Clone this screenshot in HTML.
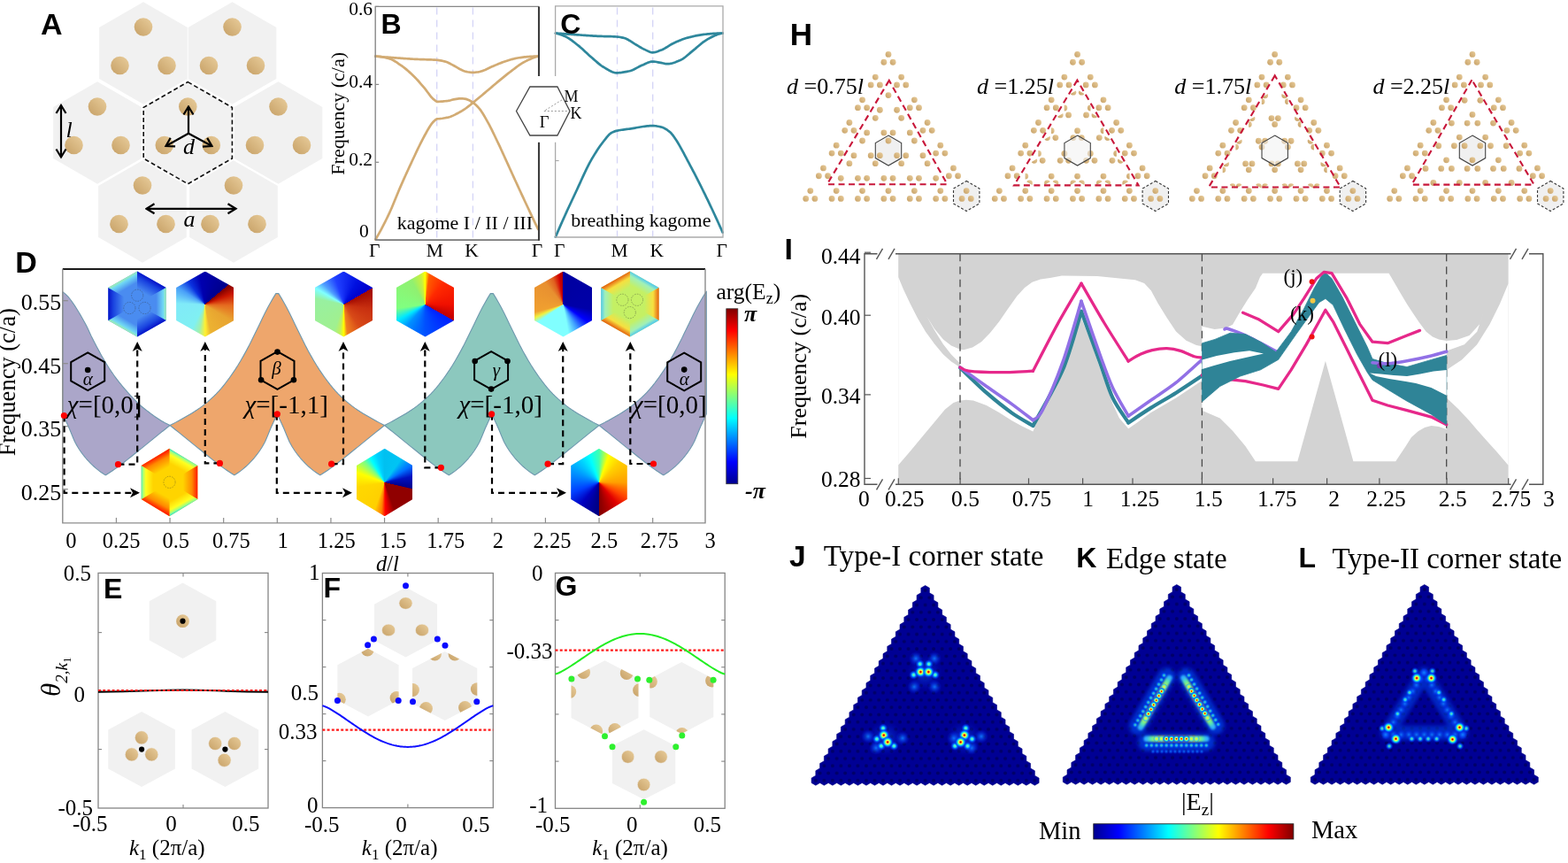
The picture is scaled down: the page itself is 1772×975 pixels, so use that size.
<!DOCTYPE html>
<html><head><meta charset="utf-8"><title>Figure</title>
<style>
html,body{margin:0;padding:0;background:#fff}
body{width:1772px;height:975px;position:relative;overflow:hidden}
svg{position:absolute;left:0;top:0}
</style></head><body>
<svg width="1772" height="975" viewBox="0 0 1772 975">
<defs>
<linearGradient id="dotg" x1="0" y1="1" x2="1" y2="0">
  <stop offset="0" stop-color="#c6a066"/><stop offset="1" stop-color="#e9cd9b"/>
</linearGradient>
<marker id="chev" viewBox="-11 -7 13 14" markerWidth="13" markerHeight="14" refX="0" refY="0" orient="auto-start-reverse" markerUnits="userSpaceOnUse">
  <path d="M-9,-5.5 L0,0 L-9,5.5" fill="none" stroke="#000" stroke-width="2.2" stroke-linejoin="miter"/>
</marker>

<marker id="ah" viewBox="-4 -6 13 12" markerWidth="13" markerHeight="12" refX="0" refY="0" orient="auto" markerUnits="userSpaceOnUse">
  <path d="M8,0 L-3,-5.5 L0,0 L-3,5.5 Z" fill="#000"/>
</marker>
<linearGradient id="jetv" x1="0" y1="1" x2="0" y2="0">
 <stop offset="0" stop-color="#00008f"/><stop offset="0.125" stop-color="#0000ff"/><stop offset="0.375" stop-color="#00ffff"/>
 <stop offset="0.625" stop-color="#ffff00"/><stop offset="0.875" stop-color="#ff0000"/><stop offset="1" stop-color="#800000"/>
</linearGradient>
<linearGradient id="jeth" x1="0" y1="0" x2="1" y2="0">
 <stop offset="0" stop-color="#00008f"/><stop offset="0.125" stop-color="#0000ff"/><stop offset="0.375" stop-color="#00ffff"/>
 <stop offset="0.625" stop-color="#ffff00"/><stop offset="0.875" stop-color="#ff0000"/><stop offset="1" stop-color="#800000"/>
</linearGradient>

<radialGradient id="rodfade" cx="0.5" cy="0.5" r="0.5">
  <stop offset="0" stop-color="#d9b985"/><stop offset="0.75" stop-color="#d4b07a"/><stop offset="1" stop-color="#e8d6b8"/>
</radialGradient>

<pattern id="lat0" x="1045.6" y="667" width="9.52" height="16.52" patternUnits="userSpaceOnUse"><rect width="9.52" height="16.52" fill="#000094"/><circle cx="0" cy="0" r="2.0" fill="#000068"/><circle cx="9.52" cy="0" r="2.0" fill="#000068"/><circle cx="0" cy="16.52" r="2.0" fill="#000068"/><circle cx="9.52" cy="16.52" r="2.0" fill="#000068"/><circle cx="4.76" cy="8.26" r="2.0" fill="#000068"/></pattern><pattern id="lat1" x="1329.8" y="666" width="9.52" height="16.52" patternUnits="userSpaceOnUse"><rect width="9.52" height="16.52" fill="#000094"/><circle cx="0" cy="0" r="2.0" fill="#000068"/><circle cx="9.52" cy="0" r="2.0" fill="#000068"/><circle cx="0" cy="16.52" r="2.0" fill="#000068"/><circle cx="9.52" cy="16.52" r="2.0" fill="#000068"/><circle cx="4.76" cy="8.26" r="2.0" fill="#000068"/></pattern><pattern id="lat2" x="1609.8" y="666" width="9.52" height="16.52" patternUnits="userSpaceOnUse"><rect width="9.52" height="16.52" fill="#000094"/><circle cx="0" cy="0" r="2.0" fill="#000068"/><circle cx="9.52" cy="0" r="2.0" fill="#000068"/><circle cx="0" cy="16.52" r="2.0" fill="#000068"/><circle cx="9.52" cy="16.52" r="2.0" fill="#000068"/><circle cx="4.76" cy="8.26" r="2.0" fill="#000068"/></pattern>
<radialGradient id="spotA">
  <stop offset="0" stop-color="#800000"/><stop offset="0.12" stop-color="#ff3000"/><stop offset="0.28" stop-color="#ffff40"/>
  <stop offset="0.42" stop-color="#60ffa0"/><stop offset="0.58" stop-color="#00b0ff"/><stop offset="0.78" stop-color="#0040ff" stop-opacity="0.6"/><stop offset="1" stop-color="#0020ff" stop-opacity="0"/>
</radialGradient>
<radialGradient id="spotB">
  <stop offset="0" stop-color="#90ff80"/><stop offset="0.28" stop-color="#20e0ff"/><stop offset="0.6" stop-color="#0060ff" stop-opacity="0.75"/><stop offset="1" stop-color="#0020ff" stop-opacity="0"/>
</radialGradient>
<radialGradient id="spotY">
  <stop offset="0" stop-color="#ffe040"/><stop offset="0.4" stop-color="#a0ff70"/><stop offset="0.75" stop-color="#20c0ff" stop-opacity="0.7"/><stop offset="1" stop-color="#0040ff" stop-opacity="0"/>
</radialGradient>
<radialGradient id="spotC">
  <stop offset="0" stop-color="#1080ff" stop-opacity="0.9"/><stop offset="1" stop-color="#0020ff" stop-opacity="0"/>
</radialGradient>
<filter id="blur2" filterUnits="userSpaceOnUse" x="880" y="600" width="892" height="320"><feGaussianBlur stdDeviation="2.2"/></filter>
<filter id="blur1" filterUnits="userSpaceOnUse" x="880" y="600" width="892" height="320"><feGaussianBlur stdDeviation="0.9"/></filter>
</defs>
<polygon points="162,2.2 211.8,31.1 211.8,88.9 162,117.8 112.2,88.9 112.2,31.1" fill="#f1f1f1"/>
<polygon points="262.5,2.2 312.3,31.1 312.3,88.9 262.5,117.8 212.7,88.9 212.7,31.1" fill="#f1f1f1"/>
<polygon points="110,92.2 159.8,121.1 159.8,178.9 110,207.8 60.2,178.9 60.2,121.1" fill="#f1f1f1"/>
<polygon points="212.3,92.2 262.1,121.1 262.1,178.9 212.3,207.8 162.5,178.9 162.5,121.1" fill="#f1f1f1"/>
<polygon points="314.5,92.2 364.3,121.1 364.3,178.9 314.5,207.8 264.7,178.9 264.7,121.1" fill="#f1f1f1"/>
<polygon points="161,181.2 210.8,210.1 210.8,267.9 161,296.8 111.2,267.9 111.2,210.1" fill="#f1f1f1"/>
<polygon points="264,181.2 313.8,210.1 313.8,267.9 264,296.8 214.2,267.9 214.2,210.1" fill="#f1f1f1"/>
<polygon points="212.3,92.6 262.4,121.4 262.4,179 212.3,207.8 162.2,179 162.2,121.4" fill="none" stroke="#111" stroke-width="1.6" stroke-dasharray="5,3"/>
<circle cx="162" cy="30.5" r="10.3" fill="url(#dotg)"/>
<circle cx="135.5" cy="74" r="10.3" fill="url(#dotg)"/>
<circle cx="188.5" cy="74" r="10.3" fill="url(#dotg)"/>
<circle cx="262.5" cy="30.5" r="10.3" fill="url(#dotg)"/>
<circle cx="236" cy="74" r="10.3" fill="url(#dotg)"/>
<circle cx="289" cy="74" r="10.3" fill="url(#dotg)"/>
<circle cx="110" cy="120.5" r="10.3" fill="url(#dotg)"/>
<circle cx="83.5" cy="164" r="10.3" fill="url(#dotg)"/>
<circle cx="136.5" cy="164" r="10.3" fill="url(#dotg)"/>
<circle cx="212.3" cy="120.5" r="10.3" fill="url(#dotg)"/>
<circle cx="185.8" cy="164" r="10.3" fill="url(#dotg)"/>
<circle cx="238.8" cy="164" r="10.3" fill="url(#dotg)"/>
<circle cx="314.5" cy="120.5" r="10.3" fill="url(#dotg)"/>
<circle cx="288" cy="164" r="10.3" fill="url(#dotg)"/>
<circle cx="341" cy="164" r="10.3" fill="url(#dotg)"/>
<circle cx="161" cy="209.5" r="10.3" fill="url(#dotg)"/>
<circle cx="134.5" cy="253" r="10.3" fill="url(#dotg)"/>
<circle cx="187.5" cy="253" r="10.3" fill="url(#dotg)"/>
<circle cx="264" cy="209.5" r="10.3" fill="url(#dotg)"/>
<circle cx="237.5" cy="253" r="10.3" fill="url(#dotg)"/>
<circle cx="290.5" cy="253" r="10.3" fill="url(#dotg)"/>
<line x1="69" y1="119" x2="69" y2="177.5" stroke="#000" stroke-width="2.2" fill="none" marker-start="url(#chev)" marker-end="url(#chev)"/>
<line x1="213" y1="150.7" x2="213" y2="120.5" stroke="#000" stroke-width="2.2" fill="none" marker-end="url(#chev)"/>
<line x1="213" y1="150.7" x2="187.5" y2="165" stroke="#000" stroke-width="2.2" fill="none" marker-end="url(#chev)"/>
<line x1="213" y1="150.7" x2="239.5" y2="165" stroke="#000" stroke-width="2.2" fill="none" marker-end="url(#chev)"/>
<line x1="165.5" y1="235.8" x2="266.5" y2="235.8" stroke="#000" stroke-width="2.2" fill="none" marker-start="url(#chev)" marker-end="url(#chev)"/>
<text x="74.5" y="154.6" font-family="'Liberation Serif', 'Times New Roman', serif" font-size="26" text-anchor="start" font-weight="normal" font-style="italic" fill="#000" >l</text>
<text x="207" y="174" font-family="'Liberation Serif', 'Times New Roman', serif" font-size="26" text-anchor="start" font-weight="normal" font-style="italic" fill="#000" >d</text>
<text x="207.5" y="255.8" font-family="'Liberation Serif', 'Times New Roman', serif" font-size="26" text-anchor="start" font-weight="normal" font-style="italic" fill="#000" >a</text>
<text x="46" y="38.9" font-family="'Liberation Sans', Arial, sans-serif" font-size="34" text-anchor="start" font-weight="bold" font-style="normal" fill="#000" >A</text>
<line x1="493.7" y1="8.4" x2="493.7" y2="270.1" stroke="#d4d4f6" stroke-width="1.3" stroke-dasharray="8,6"/>
<line x1="534.4" y1="8.4" x2="534.4" y2="270.1" stroke="#d4d4f6" stroke-width="1.3" stroke-dasharray="8,6"/>
<line x1="697.5" y1="8.4" x2="697.5" y2="267" stroke="#d4d4f6" stroke-width="1.3" stroke-dasharray="8,6"/>
<line x1="737.7" y1="8.4" x2="737.7" y2="267" stroke="#d4d4f6" stroke-width="1.3" stroke-dasharray="8,6"/>
<polyline points="424.3,270.7 425.84,268.11 427.38,265.44 428.93,262.68 430.47,259.83 432.01,256.91 433.55,253.92 435.1,250.86 436.64,247.73 438.18,244.55 439.72,241.3 441.26,237.96 442.81,234.43 444.35,230.76 445.89,227.01 447.43,223.21 448.98,219.44 450.52,215.73 452.06,212.13 453.6,208.62 455.14,205.13 456.69,201.66 458.23,198.23 459.77,194.82 461.31,191.45 462.86,188.11 464.4,184.81 465.94,181.53 467.48,178.24 469.02,174.96 470.57,171.69 472.11,168.45 473.65,165.25 475.19,162.12 476.74,159.07 478.28,156.11 479.82,153.26 481.36,150.49 482.9,147.7 484.45,144.98 485.99,142.44 487.53,140.19 489.07,138.31 490.62,136.73 492.16,135.38 493.7,134.3 495.27,134.26 496.83,134.16 498.4,133.99 499.96,133.77 501.53,133.51 503.09,133.23 504.66,132.92 506.22,132.6 507.79,132.21 509.35,131.7 510.92,131.09 512.48,130.39 514.05,129.63 515.62,128.81 517.18,127.96 518.75,127.08 520.31,126.21 521.88,125.31 523.44,124.34 525.01,123.32 526.57,122.24 528.14,121.1 529.7,119.92 531.27,118.69 532.83,117.41 534.4,116.1 535.94,114.84 537.47,113.57 539.01,112.3 540.54,111.02 542.08,109.75 543.61,108.47 545.15,107.19 546.68,105.91 548.22,104.62 549.75,103.33 551.29,102.04 552.83,100.73 554.36,99.41 555.9,98.1 557.43,96.79 558.97,95.48 560.5,94.18 562.04,92.89 563.57,91.62 565.11,90.36 566.64,89.1 568.18,87.85 569.71,86.6 571.25,85.36 572.79,84.14 574.32,82.93 575.86,81.75 577.39,80.58 578.93,79.43 580.46,78.26 582,77.08 583.53,75.91 585.07,74.77 586.6,73.66 588.14,72.6 589.67,71.61 591.21,70.69 592.75,69.87 594.28,69.09 595.82,68.33 597.35,67.6 598.89,66.9 600.42,66.24 601.96,65.62 603.49,65.04 605.03,64.51 606.56,64.03 608.1,63.6" fill="none" stroke="#d2ab73" stroke-width="2.7" stroke-linejoin="round" stroke-linecap="round"/>
<polyline points="424.3,63.6 425.84,63.63 427.38,63.74 428.93,63.89 430.47,64.1 432.01,64.36 433.55,64.65 435.1,64.97 436.64,65.31 438.18,65.68 439.72,66.08 441.26,66.63 442.81,67.32 444.35,68.12 445.89,69.01 447.43,69.97 448.98,70.98 450.52,72.02 452.06,73.07 453.6,74.11 455.14,75.21 456.69,76.38 458.23,77.61 459.77,78.9 461.31,80.24 462.86,81.62 464.4,83.05 465.94,84.5 467.48,85.98 469.02,87.51 470.57,89.12 472.11,90.79 473.65,92.51 475.19,94.27 476.74,96.07 478.28,97.89 479.82,99.73 481.36,101.62 482.9,103.7 484.45,105.83 485.99,107.9 487.53,109.79 489.07,111.36 490.62,112.68 492.16,113.83 493.7,114.8 495.27,114.78 496.83,114.73 498.4,114.64 499.96,114.53 501.53,114.4 503.09,114.24 504.66,114.08 506.22,113.9 507.79,113.62 509.35,113.22 510.92,112.78 512.48,112.4 514.05,112.11 515.62,111.83 517.18,111.57 518.75,111.38 520.31,111.3 521.88,111.34 523.44,111.47 525.01,111.66 526.57,111.91 528.14,112.41 529.7,113.07 531.27,113.82 532.83,114.74 534.4,115.8 535.94,116.92 537.47,118.24 539.01,119.74 540.54,121.39 542.08,123.17 543.61,125.17 545.15,127.45 546.68,129.95 548.22,132.6 549.75,135.32 551.29,138.06 552.83,140.9 554.36,143.86 555.9,146.92 557.43,150.06 558.97,153.25 560.5,156.47 562.04,159.71 563.57,162.94 565.11,166.19 566.64,169.49 568.18,172.83 569.71,176.21 571.25,179.6 572.79,183 574.32,186.41 575.86,189.8 577.39,193.17 578.93,196.52 580.46,199.86 582,203.21 583.53,206.55 585.07,209.88 586.6,213.21 588.14,216.54 589.67,219.85 591.21,223.16 592.75,226.46 594.28,229.74 595.82,233.02 597.35,236.3 598.89,239.56 600.42,242.82 601.96,246.07 603.49,249.31 605.03,252.55 606.56,255.78 608.1,259" fill="none" stroke="#d2ab73" stroke-width="2.7" stroke-linejoin="round" stroke-linecap="round"/>
<polyline points="424.3,63.6 425.83,63.73 427.36,63.86 428.89,63.98 430.42,64.11 431.95,64.23 433.48,64.35 435,64.48 436.53,64.6 438.06,64.71 439.59,64.83 441.12,64.95 442.65,65.06 444.18,65.17 445.71,65.29 447.24,65.4 448.77,65.5 450.3,65.61 451.82,65.72 453.35,65.83 454.88,65.94 456.41,66.05 457.94,66.15 459.47,66.26 461,66.36 462.53,66.46 464.06,66.55 465.59,66.65 467.12,66.73 468.65,66.82 470.18,66.89 471.7,66.96 473.23,67.02 474.76,67.08 476.29,67.13 477.82,67.17 479.35,67.21 480.88,67.26 482.41,67.3 483.94,67.34 485.47,67.39 487,67.45 488.52,67.51 490.05,67.58 491.58,67.66 493.11,67.76 494.64,67.88 496.17,68.07 497.7,68.31 499.23,68.61 500.76,68.95 502.29,69.33 503.82,69.75 505.35,70.3 506.88,70.98 508.4,71.76 509.93,72.59 511.46,73.43 512.99,74.24 514.52,75.05 516.05,75.92 517.58,76.83 519.11,77.72 520.64,78.56 522.17,79.3 523.7,79.91 525.23,80.44 526.75,80.92 528.28,81.28 529.81,81.51 531.34,81.71 532.87,81.85 534.4,81.9 535.94,81.84 537.47,81.71 539.01,81.53 540.54,81.32 542.08,81 543.61,80.58 545.15,80.12 546.68,79.58 548.22,78.95 549.75,78.24 551.29,77.5 552.83,76.75 554.36,76.01 555.9,75.32 557.43,74.67 558.97,74.02 560.5,73.37 562.04,72.72 563.57,72.09 565.11,71.47 566.64,70.87 568.18,70.3 569.71,69.76 571.25,69.25 572.79,68.76 574.32,68.26 575.86,67.78 577.39,67.32 578.93,66.88 580.46,66.47 582,66.1 583.53,65.78 585.07,65.5 586.6,65.27 588.14,65.04 589.67,64.83 591.21,64.64 592.75,64.46 594.28,64.3 595.82,64.15 597.35,64.03 598.89,63.93 600.42,63.85 601.96,63.78 603.49,63.71 605.03,63.66 606.56,63.62 608.1,63.6" fill="none" stroke="#d2ab73" stroke-width="2.7" stroke-linejoin="round" stroke-linecap="round"/>
<polyline points="424.2,271.1 424.2,7.4 609.0,7.4" fill="none" stroke="#888" stroke-width="1.4"/>
<line x1="424.2" y1="271.1" x2="609.0" y2="271.1" stroke="#777" stroke-width="1.6"/>
<line x1="609.0" y1="7.4" x2="609.0" y2="86" stroke="#3c3c3c" stroke-width="2.1"/>
<line x1="609.0" y1="160.8" x2="609.0" y2="271.90000000000003" stroke="#3c3c3c" stroke-width="2.1"/>
<line x1="424.2" y1="7.4" x2="428.2" y2="7.4" stroke="#888" stroke-width="1.2"/>
<text x="421" y="16.5" font-family="'Liberation Serif', 'Times New Roman', serif" font-size="21.5" text-anchor="end" font-weight="normal" font-style="normal" fill="#000" >0.6</text>
<line x1="424.2" y1="95.4" x2="428.2" y2="95.4" stroke="#888" stroke-width="1.2"/>
<text x="421" y="99.3" font-family="'Liberation Serif', 'Times New Roman', serif" font-size="21.5" text-anchor="end" font-weight="normal" font-style="normal" fill="#000" >0.4</text>
<line x1="424.2" y1="183.3" x2="428.2" y2="183.3" stroke="#888" stroke-width="1.2"/>
<text x="421" y="186.8" font-family="'Liberation Serif', 'Times New Roman', serif" font-size="21.5" text-anchor="end" font-weight="normal" font-style="normal" fill="#000" >0.2</text>
<line x1="424.2" y1="271.1" x2="428.2" y2="271.1" stroke="#888" stroke-width="1.2"/>
<text x="416.8" y="268.2" font-family="'Liberation Serif', 'Times New Roman', serif" font-size="21.5" text-anchor="end" font-weight="normal" font-style="normal" fill="#000" >0</text>
<text x="388.8" y="128.3" font-family="'Liberation Serif', 'Times New Roman', serif" font-size="22" text-anchor="middle" font-weight="normal" font-style="normal" fill="#000" transform="rotate(-90 388.8 128.3)">Frequency (c/a)</text>
<text x="423.2" y="289.6" font-family="'Liberation Serif', 'Times New Roman', serif" font-size="21.5" text-anchor="middle" font-weight="normal" font-style="normal" fill="#000" >&#915;</text>
<text x="491.4" y="289.6" font-family="'Liberation Serif', 'Times New Roman', serif" font-size="21.5" text-anchor="middle" font-weight="normal" font-style="normal" fill="#000" >M</text>
<text x="533.1" y="289.6" font-family="'Liberation Serif', 'Times New Roman', serif" font-size="21.5" text-anchor="middle" font-weight="normal" font-style="normal" fill="#000" >K</text>
<text x="607" y="289.6" font-family="'Liberation Serif', 'Times New Roman', serif" font-size="21.5" text-anchor="middle" font-weight="normal" font-style="normal" fill="#000" >&#915;</text>
<text x="448.7" y="259.2" font-family="'Liberation Serif', 'Times New Roman', serif" font-size="22" text-anchor="start" font-weight="normal" font-style="normal" fill="#000" >kagome I / II / III</text>
<text x="430.5" y="37.7" font-family="'Liberation Sans', Arial, sans-serif" font-size="32" text-anchor="start" font-weight="bold" font-style="normal" fill="#000" >B</text>
<polyline points="627.8,267.7 629.32,264.15 630.85,260.62 632.37,257.12 633.89,253.65 635.41,250.21 636.94,246.82 638.46,243.45 639.98,240.12 641.5,236.8 643.03,233.51 644.55,230.23 646.07,226.97 647.59,223.72 649.12,220.48 650.64,217.24 652.16,213.98 653.68,210.67 655.21,207.32 656.73,203.97 658.25,200.62 659.77,197.32 661.3,194.07 662.82,190.9 664.34,187.83 665.86,184.88 667.39,182.08 668.91,179.43 670.43,176.85 671.95,174.34 673.48,171.91 675,169.55 676.52,167.28 678.05,165.09 679.57,162.98 681.09,160.96 682.61,159.03 684.14,157.1 685.66,155.16 687.18,153.35 688.7,151.75 690.23,150.48 691.75,149.61 693.27,148.92 694.79,148.36 696.32,147.92 697.84,147.57 699.36,147.27 700.88,147 702.41,146.76 703.93,146.55 705.45,146.35 706.97,146.16 708.5,145.96 710.02,145.76 711.54,145.55 713.06,145.32 714.59,145.08 716.11,144.82 717.63,144.56 719.15,144.29 720.68,144.02 722.2,143.75 723.72,143.5 725.25,143.25 726.77,143.02 728.29,142.8 729.81,142.61 731.34,142.44 732.86,142.3 734.38,142.2 735.9,142.13 737.43,142.1 738.95,142.13 740.47,142.26 741.99,142.46 743.52,142.72 745.04,143.03 746.56,143.37 748.08,143.77 749.61,144.34 751.13,145.08 752.65,145.97 754.17,146.98 755.7,148.1 757.22,149.3 758.74,150.79 760.26,152.66 761.79,154.78 763.31,157.02 764.83,159.3 766.35,161.73 767.88,164.32 769.4,167.04 770.92,169.85 772.45,172.72 773.97,175.62 775.49,178.49 777.01,181.32 778.54,184.16 780.06,187.03 781.58,189.91 783.1,192.81 784.63,195.74 786.15,198.68 787.67,201.65 789.19,204.64 790.72,207.65 792.24,210.68 793.76,213.73 795.28,216.81 796.81,219.91 798.33,223.04 799.85,226.19 801.37,229.37 802.9,232.56 804.42,235.78 805.94,239.02 807.46,242.28 808.99,245.58 810.51,248.9 812.03,252.26 813.55,255.65 815.08,259.06 816.6,262.5" fill="none" stroke="#2e879c" stroke-width="2.7" stroke-linejoin="round" stroke-linecap="round"/>
<polyline points="627.9,37.5 629.42,37.83 630.95,38.23 632.47,38.7 633.99,39.23 635.51,39.82 637.04,40.45 638.56,41.12 640.08,41.83 641.6,42.64 643.13,43.57 644.65,44.59 646.17,45.68 647.69,46.83 649.22,48.02 650.74,49.23 652.26,50.45 653.78,51.67 655.31,52.91 656.83,54.23 658.35,55.59 659.87,56.99 661.4,58.41 662.92,59.84 664.44,61.25 665.96,62.63 667.49,63.98 669.01,65.28 670.53,66.61 672.05,67.96 673.58,69.3 675.1,70.62 676.62,71.9 678.15,73.12 679.67,74.25 681.19,75.27 682.71,76.18 684.24,77.07 685.76,77.99 687.28,78.89 688.8,79.75 690.33,80.53 691.85,81.21 693.37,81.75 694.89,82.12 696.42,82.29 697.94,82.28 699.46,82.21 700.98,82.08 702.51,81.9 704.03,81.68 705.55,81.43 707.07,81.15 708.6,80.84 710.12,80.53 711.64,80.2 713.16,79.75 714.69,79.16 716.21,78.47 717.73,77.7 719.25,76.89 720.78,76.07 722.3,75.28 723.82,74.53 725.35,73.86 726.87,73.22 728.39,72.52 729.91,71.81 731.44,71.12 732.96,70.5 734.48,69.99 736,69.65 737.53,69.5 739.05,69.56 740.57,69.73 742.09,70 743.62,70.31 745.14,70.63 746.66,70.92 748.18,71.2 749.71,71.54 751.23,71.86 752.75,72.11 754.27,72.2 755.8,72.12 757.32,71.92 758.84,71.62 760.36,71.21 761.89,70.73 763.41,70.19 764.93,69.6 766.45,68.99 767.98,68.36 769.5,67.69 771.02,66.86 772.55,65.86 774.07,64.74 775.59,63.53 777.11,62.25 778.64,60.94 780.16,59.63 781.68,58.36 783.2,57.14 784.73,55.91 786.25,54.63 787.77,53.32 789.29,52 790.82,50.69 792.34,49.41 793.86,48.2 795.38,47.07 796.91,46.05 798.43,45.11 799.95,44.21 801.47,43.33 803,42.49 804.52,41.69 806.04,40.94 807.56,40.25 809.09,39.61 810.61,39.05 812.13,38.57 813.65,38.15 815.18,37.8 816.7,37.5" fill="none" stroke="#2e879c" stroke-width="2.7" stroke-linejoin="round" stroke-linecap="round"/>
<polyline points="627.9,37.5 629.42,37.62 630.95,37.74 632.47,37.85 633.99,37.97 635.51,38.09 637.04,38.2 638.56,38.32 640.08,38.43 641.6,38.54 643.13,38.65 644.65,38.76 646.17,38.87 647.69,38.98 649.22,39.09 650.74,39.19 652.26,39.3 653.78,39.41 655.31,39.51 656.83,39.62 658.35,39.73 659.87,39.84 661.4,39.95 662.92,40.06 664.44,40.16 665.96,40.27 667.49,40.37 669.01,40.47 670.53,40.56 672.05,40.64 673.58,40.72 675.1,40.79 676.62,40.85 678.15,40.91 679.67,40.95 681.19,40.99 682.71,41.03 684.24,41.06 685.76,41.1 687.28,41.13 688.8,41.17 690.33,41.21 691.85,41.27 693.37,41.32 694.89,41.39 696.42,41.48 697.94,41.59 699.46,41.77 700.98,42.02 702.51,42.32 704.03,42.66 705.55,43.04 707.07,43.55 708.6,44.24 710.12,45.06 711.64,45.98 713.16,46.96 714.69,47.96 716.21,48.94 717.73,49.87 719.25,50.75 720.78,51.65 722.3,52.57 723.82,53.48 725.35,54.36 726.87,55.17 728.39,55.9 729.91,56.61 731.44,57.36 732.96,58.07 734.48,58.68 736,59.11 737.53,59.3 739.05,59.21 740.57,58.92 742.09,58.49 743.62,57.95 745.14,57.36 746.66,56.76 748.18,56.16 749.71,55.44 751.23,54.62 752.75,53.73 754.27,52.8 755.8,51.85 757.32,50.92 758.84,50.02 760.36,49.2 761.89,48.48 763.41,47.78 764.93,47.09 766.45,46.42 767.98,45.77 769.5,45.14 771.02,44.56 772.55,44.01 774.07,43.51 775.59,43.06 777.11,42.65 778.64,42.25 780.16,41.86 781.68,41.48 783.2,41.11 784.73,40.77 786.25,40.44 787.77,40.12 789.29,39.83 790.82,39.56 792.34,39.32 793.86,39.1 795.38,38.9 796.91,38.74 798.43,38.59 799.95,38.45 801.47,38.32 803,38.18 804.52,38.06 806.04,37.94 807.56,37.83 809.09,37.74 810.61,37.66 812.13,37.59 813.65,37.54 815.18,37.51 816.7,37.5" fill="none" stroke="#2e879c" stroke-width="2.7" stroke-linejoin="round" stroke-linecap="round"/>
<polyline points="627.6,86 627.6,6.8 817,6.8 817,268 627.6,268 627.6,160.8" fill="none" stroke="#aaa" stroke-width="1.3"/>
<line x1="627.6" y1="181.5" x2="631.6" y2="181.5" stroke="#aaa" stroke-width="1.2"/>
<text x="632.3" y="290.2" font-family="'Liberation Serif', 'Times New Roman', serif" font-size="21.5" text-anchor="middle" font-weight="normal" font-style="normal" fill="#000" >&#915;</text>
<text x="700" y="290.2" font-family="'Liberation Serif', 'Times New Roman', serif" font-size="21.5" text-anchor="middle" font-weight="normal" font-style="normal" fill="#000" >M</text>
<text x="742.2" y="290.2" font-family="'Liberation Serif', 'Times New Roman', serif" font-size="21.5" text-anchor="middle" font-weight="normal" font-style="normal" fill="#000" >K</text>
<text x="815.7" y="290.2" font-family="'Liberation Serif', 'Times New Roman', serif" font-size="21.5" text-anchor="middle" font-weight="normal" font-style="normal" fill="#000" >&#915;</text>
<text x="645.2" y="255.7" font-family="'Liberation Serif', 'Times New Roman', serif" font-size="22" text-anchor="start" font-weight="normal" font-style="normal" fill="#000" >breathing kagome</text>
<text x="633.3" y="38" font-family="'Liberation Sans', Arial, sans-serif" font-size="32" text-anchor="start" font-weight="bold" font-style="normal" fill="#000" >C</text>
<polygon points="583.5,125.5 598.9,98 629.9,98 644,125.5 629.9,153 598.9,153" fill="#fff" stroke="#444" stroke-width="1.3"/>
<polyline points="635,112.9 614.7,125.5 643,125.5" fill="none" stroke="#999" stroke-width="1" stroke-dasharray="2,2"/>
<text x="637.5" y="114.5" font-family="'Liberation Serif', 'Times New Roman', serif" font-size="18" text-anchor="start" font-weight="normal" font-style="normal" fill="#000" >M</text>
<text x="644.5" y="133.7" font-family="'Liberation Serif', 'Times New Roman', serif" font-size="18" text-anchor="start" font-weight="normal" font-style="normal" fill="#000" >K</text>
<text x="609.8" y="143.9" font-family="'Liberation Serif', 'Times New Roman', serif" font-size="18.5" text-anchor="start" font-weight="normal" font-style="normal" fill="#000" >&#915;</text>
<polygon points="70.8,329.8 72.33,330.88 73.87,332.15 75.4,333.57 76.94,335.16 78.47,336.99 80.01,339.01 81.54,341.13 83.08,343.31 84.61,345.65 86.15,348.07 87.68,350.55 89.22,353.07 90.75,355.65 92.29,358.31 93.82,361.01 95.36,363.76 96.89,366.6 98.43,369.56 99.96,372.77 101.5,376.15 103.03,379.46 104.57,382.56 106.1,385.56 107.64,388.5 109.17,391.4 110.71,394.28 112.24,397.12 113.77,399.92 115.31,402.66 116.84,405.33 118.38,407.96 119.91,410.53 121.45,413.03 122.98,415.45 124.52,417.8 126.05,420.08 127.59,422.31 129.12,424.47 130.66,426.57 132.19,428.61 133.73,430.6 135.26,432.54 136.8,434.43 138.33,436.29 139.87,438.12 141.4,439.92 142.94,441.69 144.47,443.42 146.01,445.12 147.54,446.78 149.08,448.42 150.61,450.04 152.14,451.64 153.68,453.21 155.21,454.74 156.75,456.22 158.28,457.63 159.82,458.97 161.35,460.26 162.89,461.51 164.42,462.72 165.96,463.9 167.49,465.05 169.03,466.19 170.56,467.33 172.1,468.46 173.63,469.58 175.17,470.68 176.7,471.76 178.24,472.8 179.77,473.8 181.31,474.76 182.84,475.67 184.38,476.55 185.91,477.41 187.45,478.23 188.98,479.02 190.52,479.78 192.05,480.5 192.05,480.5 190.52,481.74 188.98,482.98 187.45,484.22 185.91,485.46 184.38,486.7 182.84,487.94 181.31,489.18 179.77,490.42 178.24,491.66 176.7,492.91 175.17,494.15 173.63,495.39 172.1,496.63 170.56,497.87 169.03,499.11 167.49,500.35 165.96,501.59 164.42,502.83 162.89,504.07 161.35,505.32 159.82,506.56 158.28,507.8 156.75,509.04 155.21,510.27 153.68,511.51 152.14,512.75 150.61,513.99 149.08,515.22 147.54,516.45 146.01,517.67 144.47,518.88 142.94,520.08 141.4,521.28 139.87,522.47 138.33,523.66 136.8,524.84 135.26,526 133.73,527.14 132.19,528.25 130.66,529.34 129.12,530.41 127.59,531.46 126.05,532.49 124.52,533.5 122.98,534.49 121.45,535.47 119.91,536.42 119.3,536.8 118.38,536.26 116.84,535.31 115.31,534.29 113.77,533.22 112.24,532.1 110.71,530.92 109.17,529.68 107.64,528.39 106.1,527.03 104.57,525.62 103.03,524.14 101.5,522.59 99.96,520.97 98.43,519.28 96.89,517.51 95.36,515.66 93.82,513.72 92.29,511.67 90.75,509.5 89.22,507.19 87.68,504.74 86.15,502.12 84.61,499.16 83.08,495.74 81.54,492.05 80.01,488.26 78.47,484.55 76.94,481.07 75.4,477.69 73.87,474.35 72.33,471.06 70.8,467.8" fill="#aba6c9" stroke="#6e98ae" stroke-width="1.1" stroke-linejoin="round"/>
<polygon points="192.05,480.5 195.12,478.97 198.19,477.38 201.26,475.75 204.33,474.06 207.4,472.32 210.47,470.56 213.54,468.76 216.61,466.92 219.68,465.01 222.75,462.99 225.82,460.86 228.89,458.59 231.96,456.19 235.02,453.64 238.09,450.96 241.16,448.11 244.23,445.1 247.3,441.91 250.37,438.44 253.44,434.69 256.51,430.7 259.58,426.51 262.65,422.16 265.72,417.62 268.79,412.79 271.86,407.7 274.93,402.39 278,396.89 281.07,391.13 284.14,385.01 287.21,378.73 290.28,372.45 293.35,366.17 296.42,359.76 299.49,353.46 302.56,347.49 305.63,341.93 308.7,336.63 311.77,331.61 314.83,331.61 317.9,336.63 320.97,341.93 324.04,347.49 327.11,353.46 330.18,359.76 333.25,366.17 336.32,372.45 339.39,378.73 342.46,385.01 345.53,391.13 348.6,396.89 351.67,402.39 354.74,407.7 357.81,412.79 360.88,417.62 363.95,422.16 367.02,426.51 370.09,430.7 373.16,434.69 376.23,438.44 379.3,441.91 382.37,445.1 385.44,448.11 388.51,450.96 391.58,453.64 394.64,456.19 397.71,458.59 400.78,460.86 403.85,462.99 406.92,465.01 409.99,466.92 413.06,468.76 416.13,470.56 419.2,472.32 422.27,474.06 425.34,475.75 428.41,477.38 431.48,478.97 434.55,480.5 434.55,480.5 431.48,482.98 428.41,485.46 425.34,487.94 422.27,490.42 419.2,492.91 416.13,495.39 413.06,497.87 409.99,500.35 406.92,502.83 403.85,505.32 400.78,507.8 397.71,510.27 394.64,512.75 391.58,515.22 388.51,517.67 385.44,520.08 382.37,522.47 379.3,524.84 376.23,527.14 373.16,529.34 370.09,531.46 367.02,533.5 363.95,535.47 361.8,536.8 360.88,536.26 357.81,534.29 354.74,532.1 351.67,529.68 348.6,527.03 345.53,524.14 342.46,520.97 339.39,517.51 336.32,513.72 333.25,509.5 330.18,504.74 327.11,499.16 324.04,492.05 320.97,484.55 317.9,477.69 314.83,471.06 313.3,467.8 311.77,471.06 308.7,477.69 305.63,484.55 302.56,492.05 299.49,499.16 296.42,504.74 293.35,509.5 290.28,513.72 287.21,517.51 284.14,520.97 281.07,524.14 278,527.03 274.93,529.68 271.86,532.1 268.79,534.29 265.72,536.26 264.8,536.8 262.65,535.47 259.58,533.5 256.51,531.46 253.44,529.34 250.37,527.14 247.3,524.84 244.23,522.47 241.16,520.08 238.09,517.67 235.02,515.22 231.96,512.75 228.89,510.27 225.82,507.8 222.75,505.32 219.68,502.83 216.61,500.35 213.54,497.87 210.47,495.39 207.4,492.91 204.33,490.42 201.26,487.94 198.19,485.46 195.12,482.98 192.05,480.5" fill="#eea66c" stroke="#6e98ae" stroke-width="1.1" stroke-linejoin="round"/>
<polygon points="434.55,480.5 437.62,478.97 440.69,477.38 443.76,475.75 446.83,474.06 449.9,472.32 452.97,470.56 456.04,468.76 459.11,466.92 462.18,465.01 465.25,462.99 468.32,460.86 471.39,458.59 474.46,456.19 477.52,453.64 480.59,450.96 483.66,448.11 486.73,445.1 489.8,441.91 492.87,438.44 495.94,434.69 499.01,430.7 502.08,426.51 505.15,422.16 508.22,417.62 511.29,412.79 514.36,407.7 517.43,402.39 520.5,396.89 523.57,391.13 526.64,385.01 529.71,378.73 532.78,372.45 535.85,366.17 538.92,359.76 541.99,353.46 545.06,347.49 548.13,341.93 551.2,336.63 554.27,331.61 557.33,331.61 560.4,336.63 563.47,341.93 566.54,347.49 569.61,353.46 572.68,359.76 575.75,366.17 578.82,372.45 581.89,378.73 584.96,385.01 588.03,391.13 591.1,396.89 594.17,402.39 597.24,407.7 600.31,412.79 603.38,417.62 606.45,422.16 609.52,426.51 612.59,430.7 615.66,434.69 618.73,438.44 621.8,441.91 624.87,445.1 627.94,448.11 631.01,450.96 634.08,453.64 637.14,456.19 640.21,458.59 643.28,460.86 646.35,462.99 649.42,465.01 652.49,466.92 655.56,468.76 658.63,470.56 661.7,472.32 664.77,474.06 667.84,475.75 670.91,477.38 673.98,478.97 677.05,480.5 677.05,480.5 673.98,482.98 670.91,485.46 667.84,487.94 664.77,490.42 661.7,492.91 658.63,495.39 655.56,497.87 652.49,500.35 649.42,502.83 646.35,505.32 643.28,507.8 640.21,510.27 637.14,512.75 634.08,515.22 631.01,517.67 627.94,520.08 624.87,522.47 621.8,524.84 618.73,527.14 615.66,529.34 612.59,531.46 609.52,533.5 606.45,535.47 604.3,536.8 603.38,536.26 600.31,534.29 597.24,532.1 594.17,529.68 591.1,527.03 588.03,524.14 584.96,520.97 581.89,517.51 578.82,513.72 575.75,509.5 572.68,504.74 569.61,499.16 566.54,492.05 563.47,484.55 560.4,477.69 557.33,471.06 555.8,467.8 554.27,471.06 551.2,477.69 548.13,484.55 545.06,492.05 541.99,499.16 538.92,504.74 535.85,509.5 532.78,513.72 529.71,517.51 526.64,520.97 523.57,524.14 520.5,527.03 517.43,529.68 514.36,532.1 511.29,534.29 508.22,536.26 507.3,536.8 505.15,535.47 502.08,533.5 499.01,531.46 495.94,529.34 492.87,527.14 489.8,524.84 486.73,522.47 483.66,520.08 480.59,517.67 477.52,515.22 474.46,512.75 471.39,510.27 468.32,507.8 465.25,505.32 462.18,502.83 459.11,500.35 456.04,497.87 452.97,495.39 449.9,492.91 446.83,490.42 443.76,487.94 440.69,485.46 437.62,482.98 434.55,480.5" fill="#8cc8be" stroke="#6e98ae" stroke-width="1.1" stroke-linejoin="round"/>
<polygon points="677.05,480.5 678.58,479.74 680.12,478.97 681.65,478.18 683.19,477.38 684.72,476.57 686.26,475.75 687.79,474.91 689.33,474.06 690.86,473.2 692.4,472.32 693.93,471.44 695.47,470.56 697,469.66 698.54,468.76 700.07,467.85 701.61,466.92 703.14,465.98 704.68,465.01 706.21,464.01 707.75,462.99 709.28,461.94 710.82,460.86 712.35,459.74 713.89,458.59 715.42,457.4 716.96,456.19 718.49,454.93 720.02,453.64 721.56,452.32 723.09,450.96 724.63,449.55 726.16,448.11 727.7,446.62 729.23,445.1 730.77,443.53 732.3,441.91 733.84,440.21 735.37,438.44 736.91,436.6 738.44,434.69 739.98,432.72 741.51,430.7 743.05,428.63 744.58,426.51 746.12,424.35 747.65,422.16 749.19,419.92 750.72,417.62 752.26,415.24 753.79,412.79 755.33,410.28 756.86,407.7 758.39,405.07 759.93,402.39 761.46,399.66 763,396.89 764.53,394.06 766.07,391.13 767.6,388.1 769.14,385.01 770.67,381.88 772.21,378.73 773.74,375.57 775.28,372.45 776.81,369.34 778.35,366.17 779.88,362.97 781.42,359.76 782.95,356.58 784.49,353.46 786.02,350.41 787.56,347.49 789.09,344.67 790.63,341.93 792.16,339.24 793.7,336.63 795.23,334.08 796.77,331.61 798.3,329.2 798.3,467.8 796.77,471.06 795.23,474.35 793.7,477.69 792.16,481.07 790.63,484.55 789.09,488.26 787.56,492.05 786.02,495.74 784.49,499.16 782.95,502.12 781.42,504.74 779.88,507.19 778.35,509.5 776.81,511.67 775.28,513.72 773.74,515.66 772.21,517.51 770.67,519.28 769.14,520.97 767.6,522.59 766.07,524.14 764.53,525.62 763,527.03 761.46,528.39 759.93,529.68 758.39,530.92 756.86,532.1 755.33,533.22 753.79,534.29 752.26,535.31 750.72,536.26 749.8,536.8 749.19,536.42 747.65,535.47 746.12,534.49 744.58,533.5 743.05,532.49 741.51,531.46 739.98,530.41 738.44,529.34 736.91,528.25 735.37,527.14 733.84,526 732.3,524.84 730.77,523.66 729.23,522.47 727.7,521.28 726.16,520.08 724.63,518.88 723.09,517.67 721.56,516.45 720.02,515.22 718.49,513.99 716.96,512.75 715.42,511.51 713.89,510.27 712.35,509.04 710.82,507.8 709.28,506.56 707.75,505.32 706.21,504.07 704.68,502.83 703.14,501.59 701.61,500.35 700.07,499.11 698.54,497.87 697,496.63 695.47,495.39 693.93,494.15 692.4,492.91 690.86,491.66 689.33,490.42 687.79,489.18 686.26,487.94 684.72,486.7 683.19,485.46 681.65,484.22 680.12,482.98 678.58,481.74 677.05,480.5" fill="#aba6c9" stroke="#6e98ae" stroke-width="1.1" stroke-linejoin="round"/>
<polygon points="155,306.5 187.7,325 187.7,362 155,380.5 122.3,362 122.3,325" fill="#4a8cf0"/>
<linearGradient id="sg1" gradientUnits="userSpaceOnUse" x1="155" y1="343.5" x2="171.35" y2="315.75"><stop offset="0" stop-color="#4a8cf0"/><stop offset="0.45" stop-color="#4a8cf0"/><stop offset="0.82" stop-color="#1a44e0"/><stop offset="1" stop-color="#0612c8"/></linearGradient>
<polygon points="155,343.5 155,306.5 187.7,325" fill="url(#sg1)"/>
<linearGradient id="sg2" gradientUnits="userSpaceOnUse" x1="155" y1="343.5" x2="187.7" y2="343.5"><stop offset="0" stop-color="#4a8cf0"/><stop offset="0.66" stop-color="#4a8cf0"/><stop offset="0.9" stop-color="#70d8f4"/><stop offset="1" stop-color="#a0f0b0"/></linearGradient>
<polygon points="155,343.5 187.7,325 187.7,362" fill="url(#sg2)"/>
<linearGradient id="sg3" gradientUnits="userSpaceOnUse" x1="155" y1="343.5" x2="171.35" y2="371.25"><stop offset="0" stop-color="#4a8cf0"/><stop offset="0.45" stop-color="#4a8cf0"/><stop offset="0.82" stop-color="#1a44e0"/><stop offset="1" stop-color="#0612c8"/></linearGradient>
<polygon points="155,343.5 187.7,362 155,380.5" fill="url(#sg3)"/>
<linearGradient id="sg4" gradientUnits="userSpaceOnUse" x1="155" y1="343.5" x2="138.65" y2="371.25"><stop offset="0" stop-color="#4a8cf0"/><stop offset="0.66" stop-color="#4a8cf0"/><stop offset="0.9" stop-color="#70d8f4"/><stop offset="1" stop-color="#a0f0b0"/></linearGradient>
<polygon points="155,343.5 155,380.5 122.3,362" fill="url(#sg4)"/>
<linearGradient id="sg5" gradientUnits="userSpaceOnUse" x1="155" y1="343.5" x2="122.3" y2="343.5"><stop offset="0" stop-color="#4a8cf0"/><stop offset="0.45" stop-color="#4a8cf0"/><stop offset="0.82" stop-color="#1a44e0"/><stop offset="1" stop-color="#0612c8"/></linearGradient>
<polygon points="155,343.5 122.3,362 122.3,325" fill="url(#sg5)"/>
<linearGradient id="sg6" gradientUnits="userSpaceOnUse" x1="155" y1="343.5" x2="138.65" y2="315.75"><stop offset="0" stop-color="#4a8cf0"/><stop offset="0.66" stop-color="#4a8cf0"/><stop offset="0.9" stop-color="#70d8f4"/><stop offset="1" stop-color="#a0f0b0"/></linearGradient>
<polygon points="155,343.5 122.3,325 155,306.5" fill="url(#sg6)"/>
<polygon points="191.5,506.8 223.3,525.9 223.3,564.1 191.5,583.2 159.7,564.1 159.7,525.9" fill="#ffd400"/>
<linearGradient id="sg7" gradientUnits="userSpaceOnUse" x1="191.5" y1="545" x2="207.4" y2="516.35"><stop offset="0" stop-color="#ffd400"/><stop offset="0.58" stop-color="#ffd400"/><stop offset="0.84" stop-color="#ffff20"/><stop offset="0.95" stop-color="#a0ff80"/><stop offset="1" stop-color="#40e8d0"/></linearGradient>
<polygon points="191.5,545 191.5,506.8 223.3,525.9" fill="url(#sg7)"/>
<linearGradient id="sg8" gradientUnits="userSpaceOnUse" x1="191.5" y1="545" x2="223.3" y2="545"><stop offset="0" stop-color="#ffd400"/><stop offset="0.48" stop-color="#ffd400"/><stop offset="0.8" stop-color="#ff8a00"/><stop offset="1" stop-color="#ff1800"/></linearGradient>
<polygon points="191.5,545 223.3,525.9 223.3,564.1" fill="url(#sg8)"/>
<linearGradient id="sg9" gradientUnits="userSpaceOnUse" x1="191.5" y1="545" x2="207.4" y2="573.65"><stop offset="0" stop-color="#ffd400"/><stop offset="0.58" stop-color="#ffd400"/><stop offset="0.84" stop-color="#ffff20"/><stop offset="0.95" stop-color="#a0ff80"/><stop offset="1" stop-color="#40e8d0"/></linearGradient>
<polygon points="191.5,545 223.3,564.1 191.5,583.2" fill="url(#sg9)"/>
<linearGradient id="sg10" gradientUnits="userSpaceOnUse" x1="191.5" y1="545" x2="175.6" y2="573.65"><stop offset="0" stop-color="#ffd400"/><stop offset="0.48" stop-color="#ffd400"/><stop offset="0.8" stop-color="#ff8a00"/><stop offset="1" stop-color="#ff1800"/></linearGradient>
<polygon points="191.5,545 191.5,583.2 159.7,564.1" fill="url(#sg10)"/>
<linearGradient id="sg11" gradientUnits="userSpaceOnUse" x1="191.5" y1="545" x2="159.7" y2="545"><stop offset="0" stop-color="#ffd400"/><stop offset="0.58" stop-color="#ffd400"/><stop offset="0.84" stop-color="#ffff20"/><stop offset="0.95" stop-color="#a0ff80"/><stop offset="1" stop-color="#40e8d0"/></linearGradient>
<polygon points="191.5,545 159.7,564.1 159.7,525.9" fill="url(#sg11)"/>
<linearGradient id="sg12" gradientUnits="userSpaceOnUse" x1="191.5" y1="545" x2="175.6" y2="516.35"><stop offset="0" stop-color="#ffd400"/><stop offset="0.48" stop-color="#ffd400"/><stop offset="0.8" stop-color="#ff8a00"/><stop offset="1" stop-color="#ff1800"/></linearGradient>
<polygon points="191.5,545 159.7,525.9 191.5,506.8" fill="url(#sg12)"/>
<polygon points="711.9,306.5 744.6,325 744.6,362 711.9,380.5 679.2,362 679.2,325" fill="#c4f064"/>
<linearGradient id="sg13" gradientUnits="userSpaceOnUse" x1="711.9" y1="343.5" x2="728.25" y2="315.75"><stop offset="0" stop-color="#c4f064"/><stop offset="0.58" stop-color="#c4f064"/><stop offset="0.86" stop-color="#a0f0b8"/><stop offset="1" stop-color="#50c8f0"/></linearGradient>
<polygon points="711.9,343.5 711.9,306.5 744.6,325" fill="url(#sg13)"/>
<linearGradient id="sg14" gradientUnits="userSpaceOnUse" x1="711.9" y1="343.5" x2="744.6" y2="343.5"><stop offset="0" stop-color="#c4f064"/><stop offset="0.5" stop-color="#c4f064"/><stop offset="0.8" stop-color="#f6e040"/><stop offset="1" stop-color="#e66010"/></linearGradient>
<polygon points="711.9,343.5 744.6,325 744.6,362" fill="url(#sg14)"/>
<linearGradient id="sg15" gradientUnits="userSpaceOnUse" x1="711.9" y1="343.5" x2="728.25" y2="371.25"><stop offset="0" stop-color="#c4f064"/><stop offset="0.58" stop-color="#c4f064"/><stop offset="0.86" stop-color="#a0f0b8"/><stop offset="1" stop-color="#50c8f0"/></linearGradient>
<polygon points="711.9,343.5 744.6,362 711.9,380.5" fill="url(#sg15)"/>
<linearGradient id="sg16" gradientUnits="userSpaceOnUse" x1="711.9" y1="343.5" x2="695.55" y2="371.25"><stop offset="0" stop-color="#c4f064"/><stop offset="0.5" stop-color="#c4f064"/><stop offset="0.8" stop-color="#f6e040"/><stop offset="1" stop-color="#e66010"/></linearGradient>
<polygon points="711.9,343.5 711.9,380.5 679.2,362" fill="url(#sg16)"/>
<linearGradient id="sg17" gradientUnits="userSpaceOnUse" x1="711.9" y1="343.5" x2="679.2" y2="343.5"><stop offset="0" stop-color="#c4f064"/><stop offset="0.58" stop-color="#c4f064"/><stop offset="0.86" stop-color="#a0f0b8"/><stop offset="1" stop-color="#50c8f0"/></linearGradient>
<polygon points="711.9,343.5 679.2,362 679.2,325" fill="url(#sg17)"/>
<linearGradient id="sg18" gradientUnits="userSpaceOnUse" x1="711.9" y1="343.5" x2="695.55" y2="315.75"><stop offset="0" stop-color="#c4f064"/><stop offset="0.5" stop-color="#c4f064"/><stop offset="0.8" stop-color="#f6e040"/><stop offset="1" stop-color="#e66010"/></linearGradient>
<polygon points="711.9,343.5 679.2,325 711.9,306.5" fill="url(#sg18)"/>
<circle cx="155.2" cy="333.7" r="6.6" fill="none" stroke="#333" stroke-opacity="0.45" stroke-width="0.8" stroke-dasharray="1.6,1.2"/>
<circle cx="146.4" cy="348" r="6.6" fill="none" stroke="#333" stroke-opacity="0.45" stroke-width="0.8" stroke-dasharray="1.6,1.2"/>
<circle cx="163.5" cy="348" r="6.6" fill="none" stroke="#333" stroke-opacity="0.45" stroke-width="0.8" stroke-dasharray="1.6,1.2"/>
<circle cx="703.4" cy="338.8" r="6.6" fill="none" stroke="#333" stroke-opacity="0.45" stroke-width="0.8" stroke-dasharray="1.6,1.2"/>
<circle cx="720" cy="338.8" r="6.6" fill="none" stroke="#333" stroke-opacity="0.45" stroke-width="0.8" stroke-dasharray="1.6,1.2"/>
<circle cx="711.8" cy="353.1" r="6.6" fill="none" stroke="#333" stroke-opacity="0.45" stroke-width="0.8" stroke-dasharray="1.6,1.2"/>
<circle cx="191.5" cy="544.8" r="6.6" fill="none" stroke="#333" stroke-opacity="0.45" stroke-width="0.8" stroke-dasharray="1.6,1.2"/>
<line x1="70.8" y1="304" x2="797" y2="304" stroke="#1a1a1a" stroke-width="1.8"/>
<polyline points="70.8,304 70.8,590.9 797,590.9 797,304" fill="none" stroke="#8c8c8c" stroke-width="1.4"/>
<line x1="131.43" y1="590.9" x2="131.43" y2="584.9" stroke="#8c8c8c" stroke-width="1.2"/>
<line x1="192.05" y1="590.9" x2="192.05" y2="584.9" stroke="#8c8c8c" stroke-width="1.2"/>
<line x1="252.68" y1="590.9" x2="252.68" y2="584.9" stroke="#8c8c8c" stroke-width="1.2"/>
<line x1="313.3" y1="590.9" x2="313.3" y2="584.9" stroke="#8c8c8c" stroke-width="1.2"/>
<line x1="373.93" y1="590.9" x2="373.93" y2="584.9" stroke="#8c8c8c" stroke-width="1.2"/>
<line x1="434.55" y1="590.9" x2="434.55" y2="584.9" stroke="#8c8c8c" stroke-width="1.2"/>
<line x1="495.18" y1="590.9" x2="495.18" y2="584.9" stroke="#8c8c8c" stroke-width="1.2"/>
<line x1="555.8" y1="590.9" x2="555.8" y2="584.9" stroke="#8c8c8c" stroke-width="1.2"/>
<line x1="616.42" y1="590.9" x2="616.42" y2="584.9" stroke="#8c8c8c" stroke-width="1.2"/>
<line x1="677.05" y1="590.9" x2="677.05" y2="584.9" stroke="#8c8c8c" stroke-width="1.2"/>
<line x1="737.67" y1="590.9" x2="737.67" y2="584.9" stroke="#8c8c8c" stroke-width="1.2"/>
<text x="80.3" y="618.7" font-family="'Liberation Serif', 'Times New Roman', serif" font-size="24.5" text-anchor="middle" font-weight="normal" font-style="normal" fill="#000" >0</text>
<text x="137.1" y="618.7" font-family="'Liberation Serif', 'Times New Roman', serif" font-size="24.5" text-anchor="middle" font-weight="normal" font-style="normal" fill="#000" >0.25</text>
<text x="198.8" y="618.7" font-family="'Liberation Serif', 'Times New Roman', serif" font-size="24.5" text-anchor="middle" font-weight="normal" font-style="normal" fill="#000" >0.5</text>
<text x="261.4" y="618.7" font-family="'Liberation Serif', 'Times New Roman', serif" font-size="24.5" text-anchor="middle" font-weight="normal" font-style="normal" fill="#000" >0.75</text>
<text x="319.7" y="618.7" font-family="'Liberation Serif', 'Times New Roman', serif" font-size="24.5" text-anchor="middle" font-weight="normal" font-style="normal" fill="#000" >1</text>
<text x="380.2" y="618.7" font-family="'Liberation Serif', 'Times New Roman', serif" font-size="24.5" text-anchor="middle" font-weight="normal" font-style="normal" fill="#000" >1.25</text>
<text x="444.3" y="618.7" font-family="'Liberation Serif', 'Times New Roman', serif" font-size="24.5" text-anchor="middle" font-weight="normal" font-style="normal" fill="#000" >1.5</text>
<text x="503.7" y="618.7" font-family="'Liberation Serif', 'Times New Roman', serif" font-size="24.5" text-anchor="middle" font-weight="normal" font-style="normal" fill="#000" >1.75</text>
<text x="562.8" y="618.7" font-family="'Liberation Serif', 'Times New Roman', serif" font-size="24.5" text-anchor="middle" font-weight="normal" font-style="normal" fill="#000" >2</text>
<text x="624" y="618.7" font-family="'Liberation Serif', 'Times New Roman', serif" font-size="24.5" text-anchor="middle" font-weight="normal" font-style="normal" fill="#000" >2.25</text>
<text x="682.9" y="618.7" font-family="'Liberation Serif', 'Times New Roman', serif" font-size="24.5" text-anchor="middle" font-weight="normal" font-style="normal" fill="#000" >2.5</text>
<text x="745.3" y="618.7" font-family="'Liberation Serif', 'Times New Roman', serif" font-size="24.5" text-anchor="middle" font-weight="normal" font-style="normal" fill="#000" >2.75</text>
<text x="802.6" y="618.7" font-family="'Liberation Serif', 'Times New Roman', serif" font-size="24.5" text-anchor="middle" font-weight="normal" font-style="normal" fill="#000" >3</text>
<line x1="70.8" y1="339.7" x2="76.8" y2="339.7" stroke="#8c8c8c" stroke-width="1.2"/>
<text x="69.2" y="349.5" font-family="'Liberation Serif', 'Times New Roman', serif" font-size="26" text-anchor="end" font-weight="normal" font-style="normal" fill="#000" >0.55</text>
<line x1="70.8" y1="410.7" x2="76.8" y2="410.7" stroke="#8c8c8c" stroke-width="1.2"/>
<text x="69.2" y="422.3" font-family="'Liberation Serif', 'Times New Roman', serif" font-size="26" text-anchor="end" font-weight="normal" font-style="normal" fill="#000" >0.45</text>
<line x1="70.8" y1="481.7" x2="76.8" y2="481.7" stroke="#8c8c8c" stroke-width="1.2"/>
<text x="69.2" y="492.5" font-family="'Liberation Serif', 'Times New Roman', serif" font-size="26" text-anchor="end" font-weight="normal" font-style="normal" fill="#000" >0.35</text>
<line x1="70.8" y1="552.7" x2="76.8" y2="552.7" stroke="#8c8c8c" stroke-width="1.2"/>
<text x="69.2" y="564.5" font-family="'Liberation Serif', 'Times New Roman', serif" font-size="26" text-anchor="end" font-weight="normal" font-style="normal" fill="#000" >0.25</text>
<text x="16.8" y="431.7" font-family="'Liberation Serif', 'Times New Roman', serif" font-size="26.5" text-anchor="middle" font-weight="normal" font-style="normal" fill="#000" transform="rotate(-90 16.8 431.7)">Frequency (c/a)</text>
<text x="425" y="644.7" font-family="'Liberation Serif', 'Times New Roman', serif" font-size="24.5" text-anchor="start" font-weight="normal" font-style="normal" fill="#000" ><tspan font-style="italic">d</tspan>/<tspan font-style="italic">l</tspan></text>
<text x="17.2" y="307.7" font-family="'Liberation Sans', Arial, sans-serif" font-size="34" text-anchor="start" font-weight="bold" font-style="normal" fill="#000" >D</text>
<polygon points="99.2,398.4 118.2,409.05 118.2,430.35 99.2,441 80.2,430.35 80.2,409.05" fill="none" stroke="#000" stroke-width="2" stroke-linejoin="miter"/>
<circle cx="99.2" cy="418" r="3.3" fill="#000"/>
<text x="99.2" y="434.5" font-family="'Liberation Serif', 'Times New Roman', serif" font-size="21" text-anchor="middle" font-weight="normal" font-style="italic" fill="#000" >&#945;</text>
<polygon points="313.5,397.2 332.5,407.85 332.5,429.15 313.5,439.8 294.5,429.15 294.5,407.85" fill="none" stroke="#000" stroke-width="2" stroke-linejoin="miter"/>
<circle cx="313.5" cy="397.6" r="3.3" fill="#000"/>
<circle cx="295.1" cy="429.2" r="3.3" fill="#000"/>
<circle cx="331.9" cy="429.2" r="3.3" fill="#000"/>
<text x="312.5" y="423" font-family="'Liberation Serif', 'Times New Roman', serif" font-size="21" text-anchor="middle" font-weight="normal" font-style="italic" fill="#000" >&#946;</text>
<polygon points="555.1,397.2 574.1,407.85 574.1,429.15 555.1,439.8 536.1,429.15 536.1,407.85" fill="none" stroke="#000" stroke-width="2" stroke-linejoin="miter"/>
<circle cx="536.7" cy="408" r="3.3" fill="#000"/>
<circle cx="573.5" cy="408" r="3.3" fill="#000"/>
<circle cx="555.1" cy="439.6" r="3.3" fill="#000"/>
<text x="561" y="425" font-family="'Liberation Serif', 'Times New Roman', serif" font-size="21" text-anchor="middle" font-weight="normal" font-style="italic" fill="#000" >&#947;</text>
<polygon points="773.2,398.7 792.2,409.35 792.2,430.65 773.2,441.3 754.2,430.65 754.2,409.35" fill="none" stroke="#000" stroke-width="2" stroke-linejoin="miter"/>
<circle cx="773.2" cy="417.6" r="3.3" fill="#000"/>
<text x="773.2" y="434.8" font-family="'Liberation Serif', 'Times New Roman', serif" font-size="21" text-anchor="middle" font-weight="normal" font-style="italic" fill="#000" >&#945;</text>
<text x="75.8" y="467" font-family="'Liberation Serif', 'Times New Roman', serif" font-size="29" text-anchor="start" font-weight="normal" font-style="normal" fill="#000" ><tspan font-style="italic">&#967;</tspan>=[0,0]</text>
<text x="276.5" y="467" font-family="'Liberation Serif', 'Times New Roman', serif" font-size="29" text-anchor="start" font-weight="normal" font-style="normal" fill="#000" ><tspan font-style="italic">&#967;</tspan>=[-1,1]</text>
<text x="518.5" y="467" font-family="'Liberation Serif', 'Times New Roman', serif" font-size="29" text-anchor="start" font-weight="normal" font-style="normal" fill="#000" ><tspan font-style="italic">&#967;</tspan>=[-1,0]</text>
<text x="714" y="467" font-family="'Liberation Serif', 'Times New Roman', serif" font-size="29" text-anchor="start" font-weight="normal" font-style="normal" fill="#000" ><tspan font-style="italic">&#967;</tspan>=[0,0]</text>
<polyline points="133.5,524.7 155.2,524.7 155.2,394" fill="none" stroke="#000" stroke-width="2.2" stroke-dasharray="7,5" marker-end="url(#ah)"/>
<polyline points="248.4,523.4 231.8,523.4 231.8,394" fill="none" stroke="#000" stroke-width="2.2" stroke-dasharray="7,5" marker-end="url(#ah)"/>
<polyline points="374.6,524.2 388,524.2 388,394" fill="none" stroke="#000" stroke-width="2.2" stroke-dasharray="7,5" marker-end="url(#ah)"/>
<polyline points="498.4,528.3 480.3,528.3 480.3,394" fill="none" stroke="#000" stroke-width="2.2" stroke-dasharray="7,5" marker-end="url(#ah)"/>
<polyline points="619.1,524.2 636.2,524.2 636.2,394" fill="none" stroke="#000" stroke-width="2.2" stroke-dasharray="7,5" marker-end="url(#ah)"/>
<polyline points="738.5,524 712.3,524 712.3,394" fill="none" stroke="#000" stroke-width="2.2" stroke-dasharray="7,5" marker-end="url(#ah)"/>
<polyline points="72.6,469.5 72.6,556.8 150,556.8" fill="none" stroke="#000" stroke-width="2.2" stroke-dasharray="7,5" marker-end="url(#ah)"/>
<polyline points="312.8,467.8 312.8,556.8 390,556.8" fill="none" stroke="#000" stroke-width="2.2" stroke-dasharray="7,5" marker-end="url(#ah)"/>
<polyline points="556,467.8 556,556.8 632,556.8" fill="none" stroke="#000" stroke-width="2.2" stroke-dasharray="7,5" marker-end="url(#ah)"/>
<circle cx="72.4" cy="469.5" r="3.6" fill="#f00"/>
<circle cx="133.5" cy="524.7" r="3.6" fill="#f00"/>
<circle cx="248.4" cy="523.4" r="3.6" fill="#f00"/>
<circle cx="313.3" cy="467.8" r="3.6" fill="#f00"/>
<circle cx="374.6" cy="524.2" r="3.6" fill="#f00"/>
<circle cx="498.4" cy="528.3" r="3.6" fill="#f00"/>
<circle cx="555.6" cy="467.8" r="3.6" fill="#f00"/>
<circle cx="619.1" cy="524.2" r="3.6" fill="#f00"/>
<circle cx="738.5" cy="524" r="3.6" fill="#f00"/>
<rect x="820.8" y="348.8" width="13" height="197.9" fill="url(#jetv)" stroke="#333" stroke-width="0.8"/>
<text x="809.5" y="338" font-family="'Liberation Serif', 'Times New Roman', serif" font-size="25.5" text-anchor="start" font-weight="normal" font-style="normal" fill="#000" >arg(E<tspan font-size="18" dy="5">z</tspan><tspan dy="-5">)</tspan></text>
<text x="841" y="363" font-family="'Liberation Serif', 'Times New Roman', serif" font-size="26" text-anchor="start" font-weight="bold" font-style="italic" fill="#000" >&#960;</text>
<text x="842" y="562.8" font-family="'Liberation Serif', 'Times New Roman', serif" font-size="26" text-anchor="start" font-weight="bold" font-style="italic" fill="#000" >-&#960;</text>
<clipPath id="hclip0">
<polygon points="1004,101.4 1018.9,110.05 1018.9,127.35 1004,136 989.1,127.35 989.1,110.05"/>
<polygon points="989.3,127.1 1004.2,135.75 1004.2,153.05 989.3,161.7 974.4,153.05 974.4,135.75"/>
<polygon points="1018.7,127.1 1033.6,135.75 1033.6,153.05 1018.7,161.7 1003.8,153.05 1003.8,135.75"/>
<polygon points="974.6,152.8 989.5,161.45 989.5,178.75 974.6,187.4 959.7,178.75 959.7,161.45"/>
<polygon points="1004,152.8 1018.9,161.45 1018.9,178.75 1004,187.4 989.1,178.75 989.1,161.45"/>
<polygon points="1033.4,152.8 1048.3,161.45 1048.3,178.75 1033.4,187.4 1018.5,178.75 1018.5,161.45"/>
<polygon points="959.9,178.5 974.8,187.15 974.8,204.45 959.9,213.1 945,204.45 945,187.15"/>
<polygon points="989.3,178.5 1004.2,187.15 1004.2,204.45 989.3,213.1 974.4,204.45 974.4,187.15"/>
<polygon points="1018.7,178.5 1033.6,187.15 1033.6,204.45 1018.7,213.1 1003.8,204.45 1003.8,187.15"/>
<polygon points="1048.1,178.5 1063,187.15 1063,204.45 1048.1,213.1 1033.2,204.45 1033.2,187.15"/>
</clipPath>
<polygon points="1092.2,204.5 1106.9,213 1106.9,230 1092.2,238.5 1077.5,230 1077.5,213" fill="#f0f0f0" stroke="#3a3a3a" stroke-width="1.1" stroke-dasharray="3,2"/>
<polygon points="1004,153.1 1018.7,161.6 1018.7,178.6 1004,187.1 989.3,178.6 989.3,161.6" fill="#f0f0f0" fill-opacity="1" stroke="#444" stroke-width="1.1"/>
<circle cx="1004" cy="61.4" r="3.4" fill="url(#dotg)"/>
<circle cx="998.89" cy="70.25" r="3.4" fill="url(#dotg)"/>
<circle cx="1009.11" cy="70.25" r="3.4" fill="url(#dotg)"/>
<circle cx="989.3" cy="87.1" r="3.4" fill="url(#dotg)"/>
<circle cx="984.19" cy="95.95" r="3.4" fill="url(#dotg)"/>
<circle cx="994.41" cy="95.95" r="3.4" fill="url(#dotg)"/>
<circle cx="1018.7" cy="87.1" r="3.4" fill="url(#dotg)"/>
<circle cx="1013.59" cy="95.95" r="3.4" fill="url(#dotg)"/>
<circle cx="1023.81" cy="95.95" r="3.4" fill="url(#dotg)"/>
<circle cx="974.6" cy="112.8" r="3.4" fill="url(#dotg)"/>
<circle cx="969.49" cy="121.65" r="3.4" fill="url(#dotg)"/>
<circle cx="979.71" cy="121.65" r="3.4" fill="url(#dotg)"/>
<circle cx="1033.4" cy="112.8" r="3.4" fill="url(#dotg)"/>
<circle cx="1028.29" cy="121.65" r="3.4" fill="url(#dotg)"/>
<circle cx="1038.51" cy="121.65" r="3.4" fill="url(#dotg)"/>
<circle cx="959.9" cy="138.5" r="3.4" fill="url(#dotg)"/>
<circle cx="954.79" cy="147.35" r="3.4" fill="url(#dotg)"/>
<circle cx="965.01" cy="147.35" r="3.4" fill="url(#dotg)"/>
<circle cx="1048.1" cy="138.5" r="3.4" fill="url(#dotg)"/>
<circle cx="1042.99" cy="147.35" r="3.4" fill="url(#dotg)"/>
<circle cx="1053.21" cy="147.35" r="3.4" fill="url(#dotg)"/>
<circle cx="945.2" cy="164.2" r="3.4" fill="url(#dotg)"/>
<circle cx="940.09" cy="173.05" r="3.4" fill="url(#dotg)"/>
<circle cx="950.31" cy="173.05" r="3.4" fill="url(#dotg)"/>
<circle cx="1062.8" cy="164.2" r="3.4" fill="url(#dotg)"/>
<circle cx="1057.69" cy="173.05" r="3.4" fill="url(#dotg)"/>
<circle cx="1067.91" cy="173.05" r="3.4" fill="url(#dotg)"/>
<circle cx="930.5" cy="189.9" r="3.4" fill="url(#dotg)"/>
<circle cx="925.39" cy="198.75" r="3.4" fill="url(#dotg)"/>
<circle cx="935.61" cy="198.75" r="3.4" fill="url(#dotg)"/>
<circle cx="1077.5" cy="189.9" r="3.4" fill="url(#dotg)"/>
<circle cx="1072.39" cy="198.75" r="3.4" fill="url(#dotg)"/>
<circle cx="1082.61" cy="198.75" r="3.4" fill="url(#dotg)"/>
<circle cx="915.8" cy="215.6" r="3.4" fill="url(#dotg)"/>
<circle cx="910.69" cy="224.45" r="3.4" fill="url(#dotg)"/>
<circle cx="920.91" cy="224.45" r="3.4" fill="url(#dotg)"/>
<circle cx="945.2" cy="215.6" r="3.4" fill="url(#dotg)"/>
<circle cx="940.09" cy="224.45" r="3.4" fill="url(#dotg)"/>
<circle cx="950.31" cy="224.45" r="3.4" fill="url(#dotg)"/>
<circle cx="974.6" cy="215.6" r="3.4" fill="url(#dotg)"/>
<circle cx="969.49" cy="224.45" r="3.4" fill="url(#dotg)"/>
<circle cx="979.71" cy="224.45" r="3.4" fill="url(#dotg)"/>
<circle cx="1004" cy="215.6" r="3.4" fill="url(#dotg)"/>
<circle cx="998.89" cy="224.45" r="3.4" fill="url(#dotg)"/>
<circle cx="1009.11" cy="224.45" r="3.4" fill="url(#dotg)"/>
<circle cx="1033.4" cy="215.6" r="3.4" fill="url(#dotg)"/>
<circle cx="1028.29" cy="224.45" r="3.4" fill="url(#dotg)"/>
<circle cx="1038.51" cy="224.45" r="3.4" fill="url(#dotg)"/>
<circle cx="1062.8" cy="215.6" r="3.4" fill="url(#dotg)"/>
<circle cx="1057.69" cy="224.45" r="3.4" fill="url(#dotg)"/>
<circle cx="1067.91" cy="224.45" r="3.4" fill="url(#dotg)"/>
<circle cx="1092.2" cy="215.6" r="3.4" fill="url(#dotg)"/>
<circle cx="1087.09" cy="224.45" r="3.4" fill="url(#dotg)"/>
<circle cx="1097.31" cy="224.45" r="3.4" fill="url(#dotg)"/>
<g clip-path="url(#hclip0)">
<circle cx="906.19" cy="72.85" r="3.4" fill="url(#dotg)"/>
<circle cx="925.41" cy="72.85" r="3.4" fill="url(#dotg)"/>
<circle cx="935.59" cy="72.85" r="3.4" fill="url(#dotg)"/>
<circle cx="954.81" cy="72.85" r="3.4" fill="url(#dotg)"/>
<circle cx="964.99" cy="72.85" r="3.4" fill="url(#dotg)"/>
<circle cx="984.21" cy="72.85" r="3.4" fill="url(#dotg)"/>
<circle cx="994.39" cy="72.85" r="3.4" fill="url(#dotg)"/>
<circle cx="1013.61" cy="72.85" r="3.4" fill="url(#dotg)"/>
<circle cx="1023.79" cy="72.85" r="3.4" fill="url(#dotg)"/>
<circle cx="1043.01" cy="72.85" r="3.4" fill="url(#dotg)"/>
<circle cx="1053.19" cy="72.85" r="3.4" fill="url(#dotg)"/>
<circle cx="1072.41" cy="72.85" r="3.4" fill="url(#dotg)"/>
<circle cx="1082.59" cy="72.85" r="3.4" fill="url(#dotg)"/>
<circle cx="1101.81" cy="72.85" r="3.4" fill="url(#dotg)"/>
<circle cx="901.1" cy="81.9" r="3.4" fill="url(#dotg)"/>
<circle cx="891.49" cy="98.55" r="3.4" fill="url(#dotg)"/>
<circle cx="910.71" cy="98.55" r="3.4" fill="url(#dotg)"/>
<circle cx="930.5" cy="81.9" r="3.4" fill="url(#dotg)"/>
<circle cx="920.89" cy="98.55" r="3.4" fill="url(#dotg)"/>
<circle cx="940.11" cy="98.55" r="3.4" fill="url(#dotg)"/>
<circle cx="959.9" cy="81.9" r="3.4" fill="url(#dotg)"/>
<circle cx="950.29" cy="98.55" r="3.4" fill="url(#dotg)"/>
<circle cx="969.51" cy="98.55" r="3.4" fill="url(#dotg)"/>
<circle cx="989.3" cy="81.9" r="3.4" fill="url(#dotg)"/>
<circle cx="979.69" cy="98.55" r="3.4" fill="url(#dotg)"/>
<circle cx="998.91" cy="98.55" r="3.4" fill="url(#dotg)"/>
<circle cx="1018.7" cy="81.9" r="3.4" fill="url(#dotg)"/>
<circle cx="1009.09" cy="98.55" r="3.4" fill="url(#dotg)"/>
<circle cx="1028.31" cy="98.55" r="3.4" fill="url(#dotg)"/>
<circle cx="1048.1" cy="81.9" r="3.4" fill="url(#dotg)"/>
<circle cx="1038.49" cy="98.55" r="3.4" fill="url(#dotg)"/>
<circle cx="1057.71" cy="98.55" r="3.4" fill="url(#dotg)"/>
<circle cx="1077.5" cy="81.9" r="3.4" fill="url(#dotg)"/>
<circle cx="1067.89" cy="98.55" r="3.4" fill="url(#dotg)"/>
<circle cx="1087.11" cy="98.55" r="3.4" fill="url(#dotg)"/>
<circle cx="1106.9" cy="81.9" r="3.4" fill="url(#dotg)"/>
<circle cx="1097.29" cy="98.55" r="3.4" fill="url(#dotg)"/>
<circle cx="1116.51" cy="98.55" r="3.4" fill="url(#dotg)"/>
<circle cx="896.01" cy="124.25" r="3.4" fill="url(#dotg)"/>
<circle cx="915.8" cy="107.6" r="3.4" fill="url(#dotg)"/>
<circle cx="906.19" cy="124.25" r="3.4" fill="url(#dotg)"/>
<circle cx="925.41" cy="124.25" r="3.4" fill="url(#dotg)"/>
<circle cx="945.2" cy="107.6" r="3.4" fill="url(#dotg)"/>
<circle cx="935.59" cy="124.25" r="3.4" fill="url(#dotg)"/>
<circle cx="954.81" cy="124.25" r="3.4" fill="url(#dotg)"/>
<circle cx="974.6" cy="107.6" r="3.4" fill="url(#dotg)"/>
<circle cx="964.99" cy="124.25" r="3.4" fill="url(#dotg)"/>
<circle cx="984.21" cy="124.25" r="3.4" fill="url(#dotg)"/>
<circle cx="1004" cy="107.6" r="3.4" fill="url(#dotg)"/>
<circle cx="994.39" cy="124.25" r="3.4" fill="url(#dotg)"/>
<circle cx="1013.61" cy="124.25" r="3.4" fill="url(#dotg)"/>
<circle cx="1033.4" cy="107.6" r="3.4" fill="url(#dotg)"/>
<circle cx="1023.79" cy="124.25" r="3.4" fill="url(#dotg)"/>
<circle cx="1043.01" cy="124.25" r="3.4" fill="url(#dotg)"/>
<circle cx="1062.8" cy="107.6" r="3.4" fill="url(#dotg)"/>
<circle cx="1053.19" cy="124.25" r="3.4" fill="url(#dotg)"/>
<circle cx="1072.41" cy="124.25" r="3.4" fill="url(#dotg)"/>
<circle cx="1092.2" cy="107.6" r="3.4" fill="url(#dotg)"/>
<circle cx="1082.59" cy="124.25" r="3.4" fill="url(#dotg)"/>
<circle cx="1101.81" cy="124.25" r="3.4" fill="url(#dotg)"/>
<circle cx="1121.6" cy="107.6" r="3.4" fill="url(#dotg)"/>
<circle cx="1111.99" cy="124.25" r="3.4" fill="url(#dotg)"/>
<circle cx="901.1" cy="133.3" r="3.4" fill="url(#dotg)"/>
<circle cx="891.49" cy="149.95" r="3.4" fill="url(#dotg)"/>
<circle cx="910.71" cy="149.95" r="3.4" fill="url(#dotg)"/>
<circle cx="930.5" cy="133.3" r="3.4" fill="url(#dotg)"/>
<circle cx="920.89" cy="149.95" r="3.4" fill="url(#dotg)"/>
<circle cx="940.11" cy="149.95" r="3.4" fill="url(#dotg)"/>
<circle cx="959.9" cy="133.3" r="3.4" fill="url(#dotg)"/>
<circle cx="950.29" cy="149.95" r="3.4" fill="url(#dotg)"/>
<circle cx="969.51" cy="149.95" r="3.4" fill="url(#dotg)"/>
<circle cx="989.3" cy="133.3" r="3.4" fill="url(#dotg)"/>
<circle cx="979.69" cy="149.95" r="3.4" fill="url(#dotg)"/>
<circle cx="998.91" cy="149.95" r="3.4" fill="url(#dotg)"/>
<circle cx="1018.7" cy="133.3" r="3.4" fill="url(#dotg)"/>
<circle cx="1009.09" cy="149.95" r="3.4" fill="url(#dotg)"/>
<circle cx="1028.31" cy="149.95" r="3.4" fill="url(#dotg)"/>
<circle cx="1048.1" cy="133.3" r="3.4" fill="url(#dotg)"/>
<circle cx="1038.49" cy="149.95" r="3.4" fill="url(#dotg)"/>
<circle cx="1057.71" cy="149.95" r="3.4" fill="url(#dotg)"/>
<circle cx="1077.5" cy="133.3" r="3.4" fill="url(#dotg)"/>
<circle cx="1067.89" cy="149.95" r="3.4" fill="url(#dotg)"/>
<circle cx="1087.11" cy="149.95" r="3.4" fill="url(#dotg)"/>
<circle cx="1106.9" cy="133.3" r="3.4" fill="url(#dotg)"/>
<circle cx="1097.29" cy="149.95" r="3.4" fill="url(#dotg)"/>
<circle cx="1116.51" cy="149.95" r="3.4" fill="url(#dotg)"/>
<circle cx="896.01" cy="175.65" r="3.4" fill="url(#dotg)"/>
<circle cx="915.8" cy="159" r="3.4" fill="url(#dotg)"/>
<circle cx="906.19" cy="175.65" r="3.4" fill="url(#dotg)"/>
<circle cx="925.41" cy="175.65" r="3.4" fill="url(#dotg)"/>
<circle cx="945.2" cy="159" r="3.4" fill="url(#dotg)"/>
<circle cx="935.59" cy="175.65" r="3.4" fill="url(#dotg)"/>
<circle cx="954.81" cy="175.65" r="3.4" fill="url(#dotg)"/>
<circle cx="974.6" cy="159" r="3.4" fill="url(#dotg)"/>
<circle cx="964.99" cy="175.65" r="3.4" fill="url(#dotg)"/>
<circle cx="984.21" cy="175.65" r="3.4" fill="url(#dotg)"/>
<circle cx="1004" cy="159" r="3.4" fill="url(#dotg)"/>
<circle cx="994.39" cy="175.65" r="3.4" fill="url(#dotg)"/>
<circle cx="1013.61" cy="175.65" r="3.4" fill="url(#dotg)"/>
<circle cx="1033.4" cy="159" r="3.4" fill="url(#dotg)"/>
<circle cx="1023.79" cy="175.65" r="3.4" fill="url(#dotg)"/>
<circle cx="1043.01" cy="175.65" r="3.4" fill="url(#dotg)"/>
<circle cx="1062.8" cy="159" r="3.4" fill="url(#dotg)"/>
<circle cx="1053.19" cy="175.65" r="3.4" fill="url(#dotg)"/>
<circle cx="1072.41" cy="175.65" r="3.4" fill="url(#dotg)"/>
<circle cx="1092.2" cy="159" r="3.4" fill="url(#dotg)"/>
<circle cx="1082.59" cy="175.65" r="3.4" fill="url(#dotg)"/>
<circle cx="1101.81" cy="175.65" r="3.4" fill="url(#dotg)"/>
<circle cx="1121.6" cy="159" r="3.4" fill="url(#dotg)"/>
<circle cx="1111.99" cy="175.65" r="3.4" fill="url(#dotg)"/>
<circle cx="901.1" cy="184.7" r="3.4" fill="url(#dotg)"/>
<circle cx="891.49" cy="201.35" r="3.4" fill="url(#dotg)"/>
<circle cx="910.71" cy="201.35" r="3.4" fill="url(#dotg)"/>
<circle cx="930.5" cy="184.7" r="3.4" fill="url(#dotg)"/>
<circle cx="920.89" cy="201.35" r="3.4" fill="url(#dotg)"/>
<circle cx="940.11" cy="201.35" r="3.4" fill="url(#dotg)"/>
<circle cx="959.9" cy="184.7" r="3.4" fill="url(#dotg)"/>
<circle cx="950.29" cy="201.35" r="3.4" fill="url(#dotg)"/>
<circle cx="969.51" cy="201.35" r="3.4" fill="url(#dotg)"/>
<circle cx="989.3" cy="184.7" r="3.4" fill="url(#dotg)"/>
<circle cx="979.69" cy="201.35" r="3.4" fill="url(#dotg)"/>
<circle cx="998.91" cy="201.35" r="3.4" fill="url(#dotg)"/>
<circle cx="1018.7" cy="184.7" r="3.4" fill="url(#dotg)"/>
<circle cx="1009.09" cy="201.35" r="3.4" fill="url(#dotg)"/>
<circle cx="1028.31" cy="201.35" r="3.4" fill="url(#dotg)"/>
<circle cx="1048.1" cy="184.7" r="3.4" fill="url(#dotg)"/>
<circle cx="1038.49" cy="201.35" r="3.4" fill="url(#dotg)"/>
<circle cx="1057.71" cy="201.35" r="3.4" fill="url(#dotg)"/>
<circle cx="1077.5" cy="184.7" r="3.4" fill="url(#dotg)"/>
<circle cx="1067.89" cy="201.35" r="3.4" fill="url(#dotg)"/>
<circle cx="1087.11" cy="201.35" r="3.4" fill="url(#dotg)"/>
<circle cx="1106.9" cy="184.7" r="3.4" fill="url(#dotg)"/>
<circle cx="1097.29" cy="201.35" r="3.4" fill="url(#dotg)"/>
<circle cx="1116.51" cy="201.35" r="3.4" fill="url(#dotg)"/>
<circle cx="896.01" cy="227.05" r="3.4" fill="url(#dotg)"/>
<circle cx="915.8" cy="210.4" r="3.4" fill="url(#dotg)"/>
<circle cx="906.19" cy="227.05" r="3.4" fill="url(#dotg)"/>
<circle cx="925.41" cy="227.05" r="3.4" fill="url(#dotg)"/>
<circle cx="945.2" cy="210.4" r="3.4" fill="url(#dotg)"/>
<circle cx="935.59" cy="227.05" r="3.4" fill="url(#dotg)"/>
<circle cx="954.81" cy="227.05" r="3.4" fill="url(#dotg)"/>
<circle cx="974.6" cy="210.4" r="3.4" fill="url(#dotg)"/>
<circle cx="964.99" cy="227.05" r="3.4" fill="url(#dotg)"/>
<circle cx="984.21" cy="227.05" r="3.4" fill="url(#dotg)"/>
<circle cx="1004" cy="210.4" r="3.4" fill="url(#dotg)"/>
<circle cx="994.39" cy="227.05" r="3.4" fill="url(#dotg)"/>
<circle cx="1013.61" cy="227.05" r="3.4" fill="url(#dotg)"/>
<circle cx="1033.4" cy="210.4" r="3.4" fill="url(#dotg)"/>
<circle cx="1023.79" cy="227.05" r="3.4" fill="url(#dotg)"/>
<circle cx="1043.01" cy="227.05" r="3.4" fill="url(#dotg)"/>
<circle cx="1062.8" cy="210.4" r="3.4" fill="url(#dotg)"/>
<circle cx="1053.19" cy="227.05" r="3.4" fill="url(#dotg)"/>
<circle cx="1072.41" cy="227.05" r="3.4" fill="url(#dotg)"/>
<circle cx="1092.2" cy="210.4" r="3.4" fill="url(#dotg)"/>
<circle cx="1082.59" cy="227.05" r="3.4" fill="url(#dotg)"/>
<circle cx="1101.81" cy="227.05" r="3.4" fill="url(#dotg)"/>
<circle cx="1121.6" cy="210.4" r="3.4" fill="url(#dotg)"/>
<circle cx="1111.99" cy="227.05" r="3.4" fill="url(#dotg)"/>
<circle cx="901.1" cy="236.1" r="3.4" fill="url(#dotg)"/>
<circle cx="930.5" cy="236.1" r="3.4" fill="url(#dotg)"/>
<circle cx="959.9" cy="236.1" r="3.4" fill="url(#dotg)"/>
<circle cx="989.3" cy="236.1" r="3.4" fill="url(#dotg)"/>
<circle cx="1018.7" cy="236.1" r="3.4" fill="url(#dotg)"/>
<circle cx="1048.1" cy="236.1" r="3.4" fill="url(#dotg)"/>
<circle cx="1077.5" cy="236.1" r="3.4" fill="url(#dotg)"/>
<circle cx="1106.9" cy="236.1" r="3.4" fill="url(#dotg)"/>
</g>
<polygon points="1004.8,90.9 934.7,208.2 1070.5,208.2" fill="none" stroke="#c8173a" stroke-width="2.1" stroke-dasharray="7,4.5"/>
<text x="889" y="106" font-family="'Liberation Serif', 'Times New Roman', serif" font-size="26" text-anchor="start" font-weight="normal" font-style="normal" fill="#000" ><tspan font-style="italic">d</tspan> =0.75<tspan font-style="italic">l</tspan></text>
<clipPath id="hclip1">
<polygon points="1217.6,101.4 1232.5,110.05 1232.5,127.35 1217.6,136 1202.7,127.35 1202.7,110.05"/>
<polygon points="1202.9,127.1 1217.8,135.75 1217.8,153.05 1202.9,161.7 1188,153.05 1188,135.75"/>
<polygon points="1232.3,127.1 1247.2,135.75 1247.2,153.05 1232.3,161.7 1217.4,153.05 1217.4,135.75"/>
<polygon points="1188.2,152.8 1203.1,161.45 1203.1,178.75 1188.2,187.4 1173.3,178.75 1173.3,161.45"/>
<polygon points="1217.6,152.8 1232.5,161.45 1232.5,178.75 1217.6,187.4 1202.7,178.75 1202.7,161.45"/>
<polygon points="1247,152.8 1261.9,161.45 1261.9,178.75 1247,187.4 1232.1,178.75 1232.1,161.45"/>
<polygon points="1173.5,178.5 1188.4,187.15 1188.4,204.45 1173.5,213.1 1158.6,204.45 1158.6,187.15"/>
<polygon points="1202.9,178.5 1217.8,187.15 1217.8,204.45 1202.9,213.1 1188,204.45 1188,187.15"/>
<polygon points="1232.3,178.5 1247.2,187.15 1247.2,204.45 1232.3,213.1 1217.4,204.45 1217.4,187.15"/>
<polygon points="1261.7,178.5 1276.6,187.15 1276.6,204.45 1261.7,213.1 1246.8,204.45 1246.8,187.15"/>
</clipPath>
<polygon points="1305.8,204.5 1320.5,213 1320.5,230 1305.8,238.5 1291.1,230 1291.1,213" fill="#f0f0f0" stroke="#3a3a3a" stroke-width="1.1" stroke-dasharray="3,2"/>
<circle cx="1217.6" cy="61.4" r="3.4" fill="url(#dotg)"/>
<circle cx="1212.49" cy="70.25" r="3.4" fill="url(#dotg)"/>
<circle cx="1222.71" cy="70.25" r="3.4" fill="url(#dotg)"/>
<circle cx="1202.9" cy="87.1" r="3.4" fill="url(#dotg)"/>
<circle cx="1197.79" cy="95.95" r="3.4" fill="url(#dotg)"/>
<circle cx="1208.01" cy="95.95" r="3.4" fill="url(#dotg)"/>
<circle cx="1232.3" cy="87.1" r="3.4" fill="url(#dotg)"/>
<circle cx="1227.19" cy="95.95" r="3.4" fill="url(#dotg)"/>
<circle cx="1237.41" cy="95.95" r="3.4" fill="url(#dotg)"/>
<circle cx="1188.2" cy="112.8" r="3.4" fill="url(#dotg)"/>
<circle cx="1183.09" cy="121.65" r="3.4" fill="url(#dotg)"/>
<circle cx="1193.31" cy="121.65" r="3.4" fill="url(#dotg)"/>
<circle cx="1247" cy="112.8" r="3.4" fill="url(#dotg)"/>
<circle cx="1241.89" cy="121.65" r="3.4" fill="url(#dotg)"/>
<circle cx="1252.11" cy="121.65" r="3.4" fill="url(#dotg)"/>
<circle cx="1173.5" cy="138.5" r="3.4" fill="url(#dotg)"/>
<circle cx="1168.39" cy="147.35" r="3.4" fill="url(#dotg)"/>
<circle cx="1178.61" cy="147.35" r="3.4" fill="url(#dotg)"/>
<circle cx="1261.7" cy="138.5" r="3.4" fill="url(#dotg)"/>
<circle cx="1256.59" cy="147.35" r="3.4" fill="url(#dotg)"/>
<circle cx="1266.81" cy="147.35" r="3.4" fill="url(#dotg)"/>
<circle cx="1158.8" cy="164.2" r="3.4" fill="url(#dotg)"/>
<circle cx="1153.69" cy="173.05" r="3.4" fill="url(#dotg)"/>
<circle cx="1163.91" cy="173.05" r="3.4" fill="url(#dotg)"/>
<circle cx="1276.4" cy="164.2" r="3.4" fill="url(#dotg)"/>
<circle cx="1271.29" cy="173.05" r="3.4" fill="url(#dotg)"/>
<circle cx="1281.51" cy="173.05" r="3.4" fill="url(#dotg)"/>
<circle cx="1144.1" cy="189.9" r="3.4" fill="url(#dotg)"/>
<circle cx="1138.99" cy="198.75" r="3.4" fill="url(#dotg)"/>
<circle cx="1149.21" cy="198.75" r="3.4" fill="url(#dotg)"/>
<circle cx="1291.1" cy="189.9" r="3.4" fill="url(#dotg)"/>
<circle cx="1285.99" cy="198.75" r="3.4" fill="url(#dotg)"/>
<circle cx="1296.21" cy="198.75" r="3.4" fill="url(#dotg)"/>
<circle cx="1129.4" cy="215.6" r="3.4" fill="url(#dotg)"/>
<circle cx="1124.29" cy="224.45" r="3.4" fill="url(#dotg)"/>
<circle cx="1134.51" cy="224.45" r="3.4" fill="url(#dotg)"/>
<circle cx="1158.8" cy="215.6" r="3.4" fill="url(#dotg)"/>
<circle cx="1153.69" cy="224.45" r="3.4" fill="url(#dotg)"/>
<circle cx="1163.91" cy="224.45" r="3.4" fill="url(#dotg)"/>
<circle cx="1188.2" cy="215.6" r="3.4" fill="url(#dotg)"/>
<circle cx="1183.09" cy="224.45" r="3.4" fill="url(#dotg)"/>
<circle cx="1193.31" cy="224.45" r="3.4" fill="url(#dotg)"/>
<circle cx="1217.6" cy="215.6" r="3.4" fill="url(#dotg)"/>
<circle cx="1212.49" cy="224.45" r="3.4" fill="url(#dotg)"/>
<circle cx="1222.71" cy="224.45" r="3.4" fill="url(#dotg)"/>
<circle cx="1247" cy="215.6" r="3.4" fill="url(#dotg)"/>
<circle cx="1241.89" cy="224.45" r="3.4" fill="url(#dotg)"/>
<circle cx="1252.11" cy="224.45" r="3.4" fill="url(#dotg)"/>
<circle cx="1276.4" cy="215.6" r="3.4" fill="url(#dotg)"/>
<circle cx="1271.29" cy="224.45" r="3.4" fill="url(#dotg)"/>
<circle cx="1281.51" cy="224.45" r="3.4" fill="url(#dotg)"/>
<circle cx="1305.8" cy="215.6" r="3.4" fill="url(#dotg)"/>
<circle cx="1300.69" cy="224.45" r="3.4" fill="url(#dotg)"/>
<circle cx="1310.91" cy="224.45" r="3.4" fill="url(#dotg)"/>
<g clip-path="url(#hclip1)">
<circle cx="1110" cy="78.5" r="3.4" fill="url(#dotg)"/>
<circle cx="1148.8" cy="78.5" r="3.4" fill="url(#dotg)"/>
<circle cx="1139.4" cy="78.5" r="3.4" fill="url(#dotg)"/>
<circle cx="1178.2" cy="78.5" r="3.4" fill="url(#dotg)"/>
<circle cx="1168.8" cy="78.5" r="3.4" fill="url(#dotg)"/>
<circle cx="1207.6" cy="78.5" r="3.4" fill="url(#dotg)"/>
<circle cx="1198.2" cy="78.5" r="3.4" fill="url(#dotg)"/>
<circle cx="1237" cy="78.5" r="3.4" fill="url(#dotg)"/>
<circle cx="1227.6" cy="78.5" r="3.4" fill="url(#dotg)"/>
<circle cx="1266.4" cy="78.5" r="3.4" fill="url(#dotg)"/>
<circle cx="1257" cy="78.5" r="3.4" fill="url(#dotg)"/>
<circle cx="1295.8" cy="78.5" r="3.4" fill="url(#dotg)"/>
<circle cx="1286.4" cy="78.5" r="3.4" fill="url(#dotg)"/>
<circle cx="1325.2" cy="78.5" r="3.4" fill="url(#dotg)"/>
<circle cx="1114.7" cy="70.6" r="3.4" fill="url(#dotg)"/>
<circle cx="1134.1" cy="104.2" r="3.4" fill="url(#dotg)"/>
<circle cx="1144.1" cy="70.6" r="3.4" fill="url(#dotg)"/>
<circle cx="1124.7" cy="104.2" r="3.4" fill="url(#dotg)"/>
<circle cx="1163.5" cy="104.2" r="3.4" fill="url(#dotg)"/>
<circle cx="1173.5" cy="70.6" r="3.4" fill="url(#dotg)"/>
<circle cx="1154.1" cy="104.2" r="3.4" fill="url(#dotg)"/>
<circle cx="1192.9" cy="104.2" r="3.4" fill="url(#dotg)"/>
<circle cx="1202.9" cy="70.6" r="3.4" fill="url(#dotg)"/>
<circle cx="1183.5" cy="104.2" r="3.4" fill="url(#dotg)"/>
<circle cx="1222.3" cy="104.2" r="3.4" fill="url(#dotg)"/>
<circle cx="1232.3" cy="70.6" r="3.4" fill="url(#dotg)"/>
<circle cx="1212.9" cy="104.2" r="3.4" fill="url(#dotg)"/>
<circle cx="1251.7" cy="104.2" r="3.4" fill="url(#dotg)"/>
<circle cx="1261.7" cy="70.6" r="3.4" fill="url(#dotg)"/>
<circle cx="1242.3" cy="104.2" r="3.4" fill="url(#dotg)"/>
<circle cx="1281.1" cy="104.2" r="3.4" fill="url(#dotg)"/>
<circle cx="1291.1" cy="70.6" r="3.4" fill="url(#dotg)"/>
<circle cx="1271.7" cy="104.2" r="3.4" fill="url(#dotg)"/>
<circle cx="1310.5" cy="104.2" r="3.4" fill="url(#dotg)"/>
<circle cx="1320.5" cy="70.6" r="3.4" fill="url(#dotg)"/>
<circle cx="1301.1" cy="104.2" r="3.4" fill="url(#dotg)"/>
<circle cx="1100" cy="96.3" r="3.4" fill="url(#dotg)"/>
<circle cx="1119.4" cy="129.9" r="3.4" fill="url(#dotg)"/>
<circle cx="1129.4" cy="96.3" r="3.4" fill="url(#dotg)"/>
<circle cx="1110" cy="129.9" r="3.4" fill="url(#dotg)"/>
<circle cx="1148.8" cy="129.9" r="3.4" fill="url(#dotg)"/>
<circle cx="1158.8" cy="96.3" r="3.4" fill="url(#dotg)"/>
<circle cx="1139.4" cy="129.9" r="3.4" fill="url(#dotg)"/>
<circle cx="1178.2" cy="129.9" r="3.4" fill="url(#dotg)"/>
<circle cx="1188.2" cy="96.3" r="3.4" fill="url(#dotg)"/>
<circle cx="1168.8" cy="129.9" r="3.4" fill="url(#dotg)"/>
<circle cx="1207.6" cy="129.9" r="3.4" fill="url(#dotg)"/>
<circle cx="1217.6" cy="96.3" r="3.4" fill="url(#dotg)"/>
<circle cx="1198.2" cy="129.9" r="3.4" fill="url(#dotg)"/>
<circle cx="1237" cy="129.9" r="3.4" fill="url(#dotg)"/>
<circle cx="1247" cy="96.3" r="3.4" fill="url(#dotg)"/>
<circle cx="1227.6" cy="129.9" r="3.4" fill="url(#dotg)"/>
<circle cx="1266.4" cy="129.9" r="3.4" fill="url(#dotg)"/>
<circle cx="1276.4" cy="96.3" r="3.4" fill="url(#dotg)"/>
<circle cx="1257" cy="129.9" r="3.4" fill="url(#dotg)"/>
<circle cx="1295.8" cy="129.9" r="3.4" fill="url(#dotg)"/>
<circle cx="1305.8" cy="96.3" r="3.4" fill="url(#dotg)"/>
<circle cx="1286.4" cy="129.9" r="3.4" fill="url(#dotg)"/>
<circle cx="1325.2" cy="129.9" r="3.4" fill="url(#dotg)"/>
<circle cx="1335.2" cy="96.3" r="3.4" fill="url(#dotg)"/>
<circle cx="1315.8" cy="129.9" r="3.4" fill="url(#dotg)"/>
<circle cx="1104.7" cy="155.6" r="3.4" fill="url(#dotg)"/>
<circle cx="1114.7" cy="122" r="3.4" fill="url(#dotg)"/>
<circle cx="1134.1" cy="155.6" r="3.4" fill="url(#dotg)"/>
<circle cx="1144.1" cy="122" r="3.4" fill="url(#dotg)"/>
<circle cx="1124.7" cy="155.6" r="3.4" fill="url(#dotg)"/>
<circle cx="1163.5" cy="155.6" r="3.4" fill="url(#dotg)"/>
<circle cx="1173.5" cy="122" r="3.4" fill="url(#dotg)"/>
<circle cx="1154.1" cy="155.6" r="3.4" fill="url(#dotg)"/>
<circle cx="1192.9" cy="155.6" r="3.4" fill="url(#dotg)"/>
<circle cx="1202.9" cy="122" r="3.4" fill="url(#dotg)"/>
<circle cx="1183.5" cy="155.6" r="3.4" fill="url(#dotg)"/>
<circle cx="1222.3" cy="155.6" r="3.4" fill="url(#dotg)"/>
<circle cx="1232.3" cy="122" r="3.4" fill="url(#dotg)"/>
<circle cx="1212.9" cy="155.6" r="3.4" fill="url(#dotg)"/>
<circle cx="1251.7" cy="155.6" r="3.4" fill="url(#dotg)"/>
<circle cx="1261.7" cy="122" r="3.4" fill="url(#dotg)"/>
<circle cx="1242.3" cy="155.6" r="3.4" fill="url(#dotg)"/>
<circle cx="1281.1" cy="155.6" r="3.4" fill="url(#dotg)"/>
<circle cx="1291.1" cy="122" r="3.4" fill="url(#dotg)"/>
<circle cx="1271.7" cy="155.6" r="3.4" fill="url(#dotg)"/>
<circle cx="1310.5" cy="155.6" r="3.4" fill="url(#dotg)"/>
<circle cx="1320.5" cy="122" r="3.4" fill="url(#dotg)"/>
<circle cx="1301.1" cy="155.6" r="3.4" fill="url(#dotg)"/>
<circle cx="1330.5" cy="155.6" r="3.4" fill="url(#dotg)"/>
<circle cx="1100" cy="147.7" r="3.4" fill="url(#dotg)"/>
<circle cx="1119.4" cy="181.3" r="3.4" fill="url(#dotg)"/>
<circle cx="1129.4" cy="147.7" r="3.4" fill="url(#dotg)"/>
<circle cx="1110" cy="181.3" r="3.4" fill="url(#dotg)"/>
<circle cx="1148.8" cy="181.3" r="3.4" fill="url(#dotg)"/>
<circle cx="1158.8" cy="147.7" r="3.4" fill="url(#dotg)"/>
<circle cx="1139.4" cy="181.3" r="3.4" fill="url(#dotg)"/>
<circle cx="1178.2" cy="181.3" r="3.4" fill="url(#dotg)"/>
<circle cx="1188.2" cy="147.7" r="3.4" fill="url(#dotg)"/>
<circle cx="1168.8" cy="181.3" r="3.4" fill="url(#dotg)"/>
<circle cx="1207.6" cy="181.3" r="3.4" fill="url(#dotg)"/>
<circle cx="1217.6" cy="147.7" r="3.4" fill="url(#dotg)"/>
<circle cx="1198.2" cy="181.3" r="3.4" fill="url(#dotg)"/>
<circle cx="1237" cy="181.3" r="3.4" fill="url(#dotg)"/>
<circle cx="1247" cy="147.7" r="3.4" fill="url(#dotg)"/>
<circle cx="1227.6" cy="181.3" r="3.4" fill="url(#dotg)"/>
<circle cx="1266.4" cy="181.3" r="3.4" fill="url(#dotg)"/>
<circle cx="1276.4" cy="147.7" r="3.4" fill="url(#dotg)"/>
<circle cx="1257" cy="181.3" r="3.4" fill="url(#dotg)"/>
<circle cx="1295.8" cy="181.3" r="3.4" fill="url(#dotg)"/>
<circle cx="1305.8" cy="147.7" r="3.4" fill="url(#dotg)"/>
<circle cx="1286.4" cy="181.3" r="3.4" fill="url(#dotg)"/>
<circle cx="1325.2" cy="181.3" r="3.4" fill="url(#dotg)"/>
<circle cx="1335.2" cy="147.7" r="3.4" fill="url(#dotg)"/>
<circle cx="1315.8" cy="181.3" r="3.4" fill="url(#dotg)"/>
<circle cx="1104.7" cy="207" r="3.4" fill="url(#dotg)"/>
<circle cx="1114.7" cy="173.4" r="3.4" fill="url(#dotg)"/>
<circle cx="1134.1" cy="207" r="3.4" fill="url(#dotg)"/>
<circle cx="1144.1" cy="173.4" r="3.4" fill="url(#dotg)"/>
<circle cx="1124.7" cy="207" r="3.4" fill="url(#dotg)"/>
<circle cx="1163.5" cy="207" r="3.4" fill="url(#dotg)"/>
<circle cx="1173.5" cy="173.4" r="3.4" fill="url(#dotg)"/>
<circle cx="1154.1" cy="207" r="3.4" fill="url(#dotg)"/>
<circle cx="1192.9" cy="207" r="3.4" fill="url(#dotg)"/>
<circle cx="1202.9" cy="173.4" r="3.4" fill="url(#dotg)"/>
<circle cx="1183.5" cy="207" r="3.4" fill="url(#dotg)"/>
<circle cx="1222.3" cy="207" r="3.4" fill="url(#dotg)"/>
<circle cx="1232.3" cy="173.4" r="3.4" fill="url(#dotg)"/>
<circle cx="1212.9" cy="207" r="3.4" fill="url(#dotg)"/>
<circle cx="1251.7" cy="207" r="3.4" fill="url(#dotg)"/>
<circle cx="1261.7" cy="173.4" r="3.4" fill="url(#dotg)"/>
<circle cx="1242.3" cy="207" r="3.4" fill="url(#dotg)"/>
<circle cx="1281.1" cy="207" r="3.4" fill="url(#dotg)"/>
<circle cx="1291.1" cy="173.4" r="3.4" fill="url(#dotg)"/>
<circle cx="1271.7" cy="207" r="3.4" fill="url(#dotg)"/>
<circle cx="1310.5" cy="207" r="3.4" fill="url(#dotg)"/>
<circle cx="1320.5" cy="173.4" r="3.4" fill="url(#dotg)"/>
<circle cx="1301.1" cy="207" r="3.4" fill="url(#dotg)"/>
<circle cx="1330.5" cy="207" r="3.4" fill="url(#dotg)"/>
<circle cx="1100" cy="199.1" r="3.4" fill="url(#dotg)"/>
<circle cx="1119.4" cy="232.7" r="3.4" fill="url(#dotg)"/>
<circle cx="1129.4" cy="199.1" r="3.4" fill="url(#dotg)"/>
<circle cx="1110" cy="232.7" r="3.4" fill="url(#dotg)"/>
<circle cx="1148.8" cy="232.7" r="3.4" fill="url(#dotg)"/>
<circle cx="1158.8" cy="199.1" r="3.4" fill="url(#dotg)"/>
<circle cx="1139.4" cy="232.7" r="3.4" fill="url(#dotg)"/>
<circle cx="1178.2" cy="232.7" r="3.4" fill="url(#dotg)"/>
<circle cx="1188.2" cy="199.1" r="3.4" fill="url(#dotg)"/>
<circle cx="1168.8" cy="232.7" r="3.4" fill="url(#dotg)"/>
<circle cx="1207.6" cy="232.7" r="3.4" fill="url(#dotg)"/>
<circle cx="1217.6" cy="199.1" r="3.4" fill="url(#dotg)"/>
<circle cx="1198.2" cy="232.7" r="3.4" fill="url(#dotg)"/>
<circle cx="1237" cy="232.7" r="3.4" fill="url(#dotg)"/>
<circle cx="1247" cy="199.1" r="3.4" fill="url(#dotg)"/>
<circle cx="1227.6" cy="232.7" r="3.4" fill="url(#dotg)"/>
<circle cx="1266.4" cy="232.7" r="3.4" fill="url(#dotg)"/>
<circle cx="1276.4" cy="199.1" r="3.4" fill="url(#dotg)"/>
<circle cx="1257" cy="232.7" r="3.4" fill="url(#dotg)"/>
<circle cx="1295.8" cy="232.7" r="3.4" fill="url(#dotg)"/>
<circle cx="1305.8" cy="199.1" r="3.4" fill="url(#dotg)"/>
<circle cx="1286.4" cy="232.7" r="3.4" fill="url(#dotg)"/>
<circle cx="1325.2" cy="232.7" r="3.4" fill="url(#dotg)"/>
<circle cx="1335.2" cy="199.1" r="3.4" fill="url(#dotg)"/>
<circle cx="1315.8" cy="232.7" r="3.4" fill="url(#dotg)"/>
<circle cx="1114.7" cy="224.8" r="3.4" fill="url(#dotg)"/>
<circle cx="1144.1" cy="224.8" r="3.4" fill="url(#dotg)"/>
<circle cx="1173.5" cy="224.8" r="3.4" fill="url(#dotg)"/>
<circle cx="1202.9" cy="224.8" r="3.4" fill="url(#dotg)"/>
<circle cx="1232.3" cy="224.8" r="3.4" fill="url(#dotg)"/>
<circle cx="1261.7" cy="224.8" r="3.4" fill="url(#dotg)"/>
<circle cx="1291.1" cy="224.8" r="3.4" fill="url(#dotg)"/>
<circle cx="1320.5" cy="224.8" r="3.4" fill="url(#dotg)"/>
</g>
<polygon points="1217.6,153.1 1232.3,161.6 1232.3,178.6 1217.6,187.1 1202.9,178.6 1202.9,161.6" fill="#f0f0f0" fill-opacity="0.55" stroke="#444" stroke-width="1.1"/>
<polygon points="1217.4,90.6 1146,209.4 1286.6,209.4" fill="none" stroke="#c8173a" stroke-width="2.1" stroke-dasharray="7,4.5"/>
<text x="1104" y="106" font-family="'Liberation Serif', 'Times New Roman', serif" font-size="26" text-anchor="start" font-weight="normal" font-style="normal" fill="#000" ><tspan font-style="italic">d</tspan> =1.25<tspan font-style="italic">l</tspan></text>
<clipPath id="hclip2">
<polygon points="1440.7,101.4 1455.6,110.05 1455.6,127.35 1440.7,136 1425.8,127.35 1425.8,110.05"/>
<polygon points="1426,127.1 1440.9,135.75 1440.9,153.05 1426,161.7 1411.1,153.05 1411.1,135.75"/>
<polygon points="1455.4,127.1 1470.3,135.75 1470.3,153.05 1455.4,161.7 1440.5,153.05 1440.5,135.75"/>
<polygon points="1411.3,152.8 1426.2,161.45 1426.2,178.75 1411.3,187.4 1396.4,178.75 1396.4,161.45"/>
<polygon points="1440.7,152.8 1455.6,161.45 1455.6,178.75 1440.7,187.4 1425.8,178.75 1425.8,161.45"/>
<polygon points="1470.1,152.8 1485,161.45 1485,178.75 1470.1,187.4 1455.2,178.75 1455.2,161.45"/>
<polygon points="1396.6,178.5 1411.5,187.15 1411.5,204.45 1396.6,213.1 1381.7,204.45 1381.7,187.15"/>
<polygon points="1426,178.5 1440.9,187.15 1440.9,204.45 1426,213.1 1411.1,204.45 1411.1,187.15"/>
<polygon points="1455.4,178.5 1470.3,187.15 1470.3,204.45 1455.4,213.1 1440.5,204.45 1440.5,187.15"/>
<polygon points="1484.8,178.5 1499.7,187.15 1499.7,204.45 1484.8,213.1 1469.9,204.45 1469.9,187.15"/>
</clipPath>
<polygon points="1528.9,204.5 1543.6,213 1543.6,230 1528.9,238.5 1514.2,230 1514.2,213" fill="#f0f0f0" stroke="#3a3a3a" stroke-width="1.1" stroke-dasharray="3,2"/>
<circle cx="1440.7" cy="61.4" r="3.4" fill="url(#dotg)"/>
<circle cx="1435.59" cy="70.25" r="3.4" fill="url(#dotg)"/>
<circle cx="1445.81" cy="70.25" r="3.4" fill="url(#dotg)"/>
<circle cx="1426" cy="87.1" r="3.4" fill="url(#dotg)"/>
<circle cx="1420.89" cy="95.95" r="3.4" fill="url(#dotg)"/>
<circle cx="1431.11" cy="95.95" r="3.4" fill="url(#dotg)"/>
<circle cx="1455.4" cy="87.1" r="3.4" fill="url(#dotg)"/>
<circle cx="1450.29" cy="95.95" r="3.4" fill="url(#dotg)"/>
<circle cx="1460.51" cy="95.95" r="3.4" fill="url(#dotg)"/>
<circle cx="1411.3" cy="112.8" r="3.4" fill="url(#dotg)"/>
<circle cx="1406.19" cy="121.65" r="3.4" fill="url(#dotg)"/>
<circle cx="1416.41" cy="121.65" r="3.4" fill="url(#dotg)"/>
<circle cx="1470.1" cy="112.8" r="3.4" fill="url(#dotg)"/>
<circle cx="1464.99" cy="121.65" r="3.4" fill="url(#dotg)"/>
<circle cx="1475.21" cy="121.65" r="3.4" fill="url(#dotg)"/>
<circle cx="1396.6" cy="138.5" r="3.4" fill="url(#dotg)"/>
<circle cx="1391.49" cy="147.35" r="3.4" fill="url(#dotg)"/>
<circle cx="1401.71" cy="147.35" r="3.4" fill="url(#dotg)"/>
<circle cx="1484.8" cy="138.5" r="3.4" fill="url(#dotg)"/>
<circle cx="1479.69" cy="147.35" r="3.4" fill="url(#dotg)"/>
<circle cx="1489.91" cy="147.35" r="3.4" fill="url(#dotg)"/>
<circle cx="1381.9" cy="164.2" r="3.4" fill="url(#dotg)"/>
<circle cx="1376.79" cy="173.05" r="3.4" fill="url(#dotg)"/>
<circle cx="1387.01" cy="173.05" r="3.4" fill="url(#dotg)"/>
<circle cx="1499.5" cy="164.2" r="3.4" fill="url(#dotg)"/>
<circle cx="1494.39" cy="173.05" r="3.4" fill="url(#dotg)"/>
<circle cx="1504.61" cy="173.05" r="3.4" fill="url(#dotg)"/>
<circle cx="1367.2" cy="189.9" r="3.4" fill="url(#dotg)"/>
<circle cx="1362.09" cy="198.75" r="3.4" fill="url(#dotg)"/>
<circle cx="1372.31" cy="198.75" r="3.4" fill="url(#dotg)"/>
<circle cx="1514.2" cy="189.9" r="3.4" fill="url(#dotg)"/>
<circle cx="1509.09" cy="198.75" r="3.4" fill="url(#dotg)"/>
<circle cx="1519.31" cy="198.75" r="3.4" fill="url(#dotg)"/>
<circle cx="1352.5" cy="215.6" r="3.4" fill="url(#dotg)"/>
<circle cx="1347.39" cy="224.45" r="3.4" fill="url(#dotg)"/>
<circle cx="1357.61" cy="224.45" r="3.4" fill="url(#dotg)"/>
<circle cx="1381.9" cy="215.6" r="3.4" fill="url(#dotg)"/>
<circle cx="1376.79" cy="224.45" r="3.4" fill="url(#dotg)"/>
<circle cx="1387.01" cy="224.45" r="3.4" fill="url(#dotg)"/>
<circle cx="1411.3" cy="215.6" r="3.4" fill="url(#dotg)"/>
<circle cx="1406.19" cy="224.45" r="3.4" fill="url(#dotg)"/>
<circle cx="1416.41" cy="224.45" r="3.4" fill="url(#dotg)"/>
<circle cx="1440.7" cy="215.6" r="3.4" fill="url(#dotg)"/>
<circle cx="1435.59" cy="224.45" r="3.4" fill="url(#dotg)"/>
<circle cx="1445.81" cy="224.45" r="3.4" fill="url(#dotg)"/>
<circle cx="1470.1" cy="215.6" r="3.4" fill="url(#dotg)"/>
<circle cx="1464.99" cy="224.45" r="3.4" fill="url(#dotg)"/>
<circle cx="1475.21" cy="224.45" r="3.4" fill="url(#dotg)"/>
<circle cx="1499.5" cy="215.6" r="3.4" fill="url(#dotg)"/>
<circle cx="1494.39" cy="224.45" r="3.4" fill="url(#dotg)"/>
<circle cx="1504.61" cy="224.45" r="3.4" fill="url(#dotg)"/>
<circle cx="1528.9" cy="215.6" r="3.4" fill="url(#dotg)"/>
<circle cx="1523.79" cy="224.45" r="3.4" fill="url(#dotg)"/>
<circle cx="1534.01" cy="224.45" r="3.4" fill="url(#dotg)"/>
<g clip-path="url(#hclip2)">
<circle cx="1326.78" cy="82.15" r="3.4" fill="url(#dotg)"/>
<circle cx="1378.22" cy="82.15" r="3.4" fill="url(#dotg)"/>
<circle cx="1356.18" cy="82.15" r="3.4" fill="url(#dotg)"/>
<circle cx="1407.62" cy="82.15" r="3.4" fill="url(#dotg)"/>
<circle cx="1385.58" cy="82.15" r="3.4" fill="url(#dotg)"/>
<circle cx="1437.02" cy="82.15" r="3.4" fill="url(#dotg)"/>
<circle cx="1414.98" cy="82.15" r="3.4" fill="url(#dotg)"/>
<circle cx="1466.42" cy="82.15" r="3.4" fill="url(#dotg)"/>
<circle cx="1444.38" cy="82.15" r="3.4" fill="url(#dotg)"/>
<circle cx="1495.82" cy="82.15" r="3.4" fill="url(#dotg)"/>
<circle cx="1473.78" cy="82.15" r="3.4" fill="url(#dotg)"/>
<circle cx="1525.22" cy="82.15" r="3.4" fill="url(#dotg)"/>
<circle cx="1503.18" cy="82.15" r="3.4" fill="url(#dotg)"/>
<circle cx="1554.62" cy="82.15" r="3.4" fill="url(#dotg)"/>
<circle cx="1337.8" cy="63.3" r="3.4" fill="url(#dotg)"/>
<circle cx="1363.52" cy="107.85" r="3.4" fill="url(#dotg)"/>
<circle cx="1367.2" cy="63.3" r="3.4" fill="url(#dotg)"/>
<circle cx="1341.48" cy="107.85" r="3.4" fill="url(#dotg)"/>
<circle cx="1392.92" cy="107.85" r="3.4" fill="url(#dotg)"/>
<circle cx="1396.6" cy="63.3" r="3.4" fill="url(#dotg)"/>
<circle cx="1370.88" cy="107.85" r="3.4" fill="url(#dotg)"/>
<circle cx="1422.32" cy="107.85" r="3.4" fill="url(#dotg)"/>
<circle cx="1426" cy="63.3" r="3.4" fill="url(#dotg)"/>
<circle cx="1400.28" cy="107.85" r="3.4" fill="url(#dotg)"/>
<circle cx="1451.72" cy="107.85" r="3.4" fill="url(#dotg)"/>
<circle cx="1455.4" cy="63.3" r="3.4" fill="url(#dotg)"/>
<circle cx="1429.68" cy="107.85" r="3.4" fill="url(#dotg)"/>
<circle cx="1481.12" cy="107.85" r="3.4" fill="url(#dotg)"/>
<circle cx="1484.8" cy="63.3" r="3.4" fill="url(#dotg)"/>
<circle cx="1459.08" cy="107.85" r="3.4" fill="url(#dotg)"/>
<circle cx="1510.52" cy="107.85" r="3.4" fill="url(#dotg)"/>
<circle cx="1514.2" cy="63.3" r="3.4" fill="url(#dotg)"/>
<circle cx="1488.48" cy="107.85" r="3.4" fill="url(#dotg)"/>
<circle cx="1539.92" cy="107.85" r="3.4" fill="url(#dotg)"/>
<circle cx="1543.6" cy="63.3" r="3.4" fill="url(#dotg)"/>
<circle cx="1517.88" cy="107.85" r="3.4" fill="url(#dotg)"/>
<circle cx="1323.1" cy="89" r="3.4" fill="url(#dotg)"/>
<circle cx="1348.82" cy="133.55" r="3.4" fill="url(#dotg)"/>
<circle cx="1352.5" cy="89" r="3.4" fill="url(#dotg)"/>
<circle cx="1326.78" cy="133.55" r="3.4" fill="url(#dotg)"/>
<circle cx="1378.22" cy="133.55" r="3.4" fill="url(#dotg)"/>
<circle cx="1381.9" cy="89" r="3.4" fill="url(#dotg)"/>
<circle cx="1356.18" cy="133.55" r="3.4" fill="url(#dotg)"/>
<circle cx="1407.62" cy="133.55" r="3.4" fill="url(#dotg)"/>
<circle cx="1411.3" cy="89" r="3.4" fill="url(#dotg)"/>
<circle cx="1385.58" cy="133.55" r="3.4" fill="url(#dotg)"/>
<circle cx="1437.02" cy="133.55" r="3.4" fill="url(#dotg)"/>
<circle cx="1440.7" cy="89" r="3.4" fill="url(#dotg)"/>
<circle cx="1414.98" cy="133.55" r="3.4" fill="url(#dotg)"/>
<circle cx="1466.42" cy="133.55" r="3.4" fill="url(#dotg)"/>
<circle cx="1470.1" cy="89" r="3.4" fill="url(#dotg)"/>
<circle cx="1444.38" cy="133.55" r="3.4" fill="url(#dotg)"/>
<circle cx="1495.82" cy="133.55" r="3.4" fill="url(#dotg)"/>
<circle cx="1499.5" cy="89" r="3.4" fill="url(#dotg)"/>
<circle cx="1473.78" cy="133.55" r="3.4" fill="url(#dotg)"/>
<circle cx="1525.22" cy="133.55" r="3.4" fill="url(#dotg)"/>
<circle cx="1528.9" cy="89" r="3.4" fill="url(#dotg)"/>
<circle cx="1503.18" cy="133.55" r="3.4" fill="url(#dotg)"/>
<circle cx="1554.62" cy="133.55" r="3.4" fill="url(#dotg)"/>
<circle cx="1558.3" cy="89" r="3.4" fill="url(#dotg)"/>
<circle cx="1532.58" cy="133.55" r="3.4" fill="url(#dotg)"/>
<circle cx="1334.12" cy="159.25" r="3.4" fill="url(#dotg)"/>
<circle cx="1337.8" cy="114.7" r="3.4" fill="url(#dotg)"/>
<circle cx="1363.52" cy="159.25" r="3.4" fill="url(#dotg)"/>
<circle cx="1367.2" cy="114.7" r="3.4" fill="url(#dotg)"/>
<circle cx="1341.48" cy="159.25" r="3.4" fill="url(#dotg)"/>
<circle cx="1392.92" cy="159.25" r="3.4" fill="url(#dotg)"/>
<circle cx="1396.6" cy="114.7" r="3.4" fill="url(#dotg)"/>
<circle cx="1370.88" cy="159.25" r="3.4" fill="url(#dotg)"/>
<circle cx="1422.32" cy="159.25" r="3.4" fill="url(#dotg)"/>
<circle cx="1426" cy="114.7" r="3.4" fill="url(#dotg)"/>
<circle cx="1400.28" cy="159.25" r="3.4" fill="url(#dotg)"/>
<circle cx="1451.72" cy="159.25" r="3.4" fill="url(#dotg)"/>
<circle cx="1455.4" cy="114.7" r="3.4" fill="url(#dotg)"/>
<circle cx="1429.68" cy="159.25" r="3.4" fill="url(#dotg)"/>
<circle cx="1481.12" cy="159.25" r="3.4" fill="url(#dotg)"/>
<circle cx="1484.8" cy="114.7" r="3.4" fill="url(#dotg)"/>
<circle cx="1459.08" cy="159.25" r="3.4" fill="url(#dotg)"/>
<circle cx="1510.52" cy="159.25" r="3.4" fill="url(#dotg)"/>
<circle cx="1514.2" cy="114.7" r="3.4" fill="url(#dotg)"/>
<circle cx="1488.48" cy="159.25" r="3.4" fill="url(#dotg)"/>
<circle cx="1539.92" cy="159.25" r="3.4" fill="url(#dotg)"/>
<circle cx="1543.6" cy="114.7" r="3.4" fill="url(#dotg)"/>
<circle cx="1517.88" cy="159.25" r="3.4" fill="url(#dotg)"/>
<circle cx="1547.28" cy="159.25" r="3.4" fill="url(#dotg)"/>
<circle cx="1323.1" cy="140.4" r="3.4" fill="url(#dotg)"/>
<circle cx="1348.82" cy="184.95" r="3.4" fill="url(#dotg)"/>
<circle cx="1352.5" cy="140.4" r="3.4" fill="url(#dotg)"/>
<circle cx="1326.78" cy="184.95" r="3.4" fill="url(#dotg)"/>
<circle cx="1378.22" cy="184.95" r="3.4" fill="url(#dotg)"/>
<circle cx="1381.9" cy="140.4" r="3.4" fill="url(#dotg)"/>
<circle cx="1356.18" cy="184.95" r="3.4" fill="url(#dotg)"/>
<circle cx="1407.62" cy="184.95" r="3.4" fill="url(#dotg)"/>
<circle cx="1411.3" cy="140.4" r="3.4" fill="url(#dotg)"/>
<circle cx="1385.58" cy="184.95" r="3.4" fill="url(#dotg)"/>
<circle cx="1437.02" cy="184.95" r="3.4" fill="url(#dotg)"/>
<circle cx="1440.7" cy="140.4" r="3.4" fill="url(#dotg)"/>
<circle cx="1414.98" cy="184.95" r="3.4" fill="url(#dotg)"/>
<circle cx="1466.42" cy="184.95" r="3.4" fill="url(#dotg)"/>
<circle cx="1470.1" cy="140.4" r="3.4" fill="url(#dotg)"/>
<circle cx="1444.38" cy="184.95" r="3.4" fill="url(#dotg)"/>
<circle cx="1495.82" cy="184.95" r="3.4" fill="url(#dotg)"/>
<circle cx="1499.5" cy="140.4" r="3.4" fill="url(#dotg)"/>
<circle cx="1473.78" cy="184.95" r="3.4" fill="url(#dotg)"/>
<circle cx="1525.22" cy="184.95" r="3.4" fill="url(#dotg)"/>
<circle cx="1528.9" cy="140.4" r="3.4" fill="url(#dotg)"/>
<circle cx="1503.18" cy="184.95" r="3.4" fill="url(#dotg)"/>
<circle cx="1554.62" cy="184.95" r="3.4" fill="url(#dotg)"/>
<circle cx="1558.3" cy="140.4" r="3.4" fill="url(#dotg)"/>
<circle cx="1532.58" cy="184.95" r="3.4" fill="url(#dotg)"/>
<circle cx="1334.12" cy="210.65" r="3.4" fill="url(#dotg)"/>
<circle cx="1337.8" cy="166.1" r="3.4" fill="url(#dotg)"/>
<circle cx="1363.52" cy="210.65" r="3.4" fill="url(#dotg)"/>
<circle cx="1367.2" cy="166.1" r="3.4" fill="url(#dotg)"/>
<circle cx="1341.48" cy="210.65" r="3.4" fill="url(#dotg)"/>
<circle cx="1392.92" cy="210.65" r="3.4" fill="url(#dotg)"/>
<circle cx="1396.6" cy="166.1" r="3.4" fill="url(#dotg)"/>
<circle cx="1370.88" cy="210.65" r="3.4" fill="url(#dotg)"/>
<circle cx="1422.32" cy="210.65" r="3.4" fill="url(#dotg)"/>
<circle cx="1426" cy="166.1" r="3.4" fill="url(#dotg)"/>
<circle cx="1400.28" cy="210.65" r="3.4" fill="url(#dotg)"/>
<circle cx="1451.72" cy="210.65" r="3.4" fill="url(#dotg)"/>
<circle cx="1455.4" cy="166.1" r="3.4" fill="url(#dotg)"/>
<circle cx="1429.68" cy="210.65" r="3.4" fill="url(#dotg)"/>
<circle cx="1481.12" cy="210.65" r="3.4" fill="url(#dotg)"/>
<circle cx="1484.8" cy="166.1" r="3.4" fill="url(#dotg)"/>
<circle cx="1459.08" cy="210.65" r="3.4" fill="url(#dotg)"/>
<circle cx="1510.52" cy="210.65" r="3.4" fill="url(#dotg)"/>
<circle cx="1514.2" cy="166.1" r="3.4" fill="url(#dotg)"/>
<circle cx="1488.48" cy="210.65" r="3.4" fill="url(#dotg)"/>
<circle cx="1539.92" cy="210.65" r="3.4" fill="url(#dotg)"/>
<circle cx="1543.6" cy="166.1" r="3.4" fill="url(#dotg)"/>
<circle cx="1517.88" cy="210.65" r="3.4" fill="url(#dotg)"/>
<circle cx="1547.28" cy="210.65" r="3.4" fill="url(#dotg)"/>
<circle cx="1323.1" cy="191.8" r="3.4" fill="url(#dotg)"/>
<circle cx="1348.82" cy="236.35" r="3.4" fill="url(#dotg)"/>
<circle cx="1352.5" cy="191.8" r="3.4" fill="url(#dotg)"/>
<circle cx="1326.78" cy="236.35" r="3.4" fill="url(#dotg)"/>
<circle cx="1378.22" cy="236.35" r="3.4" fill="url(#dotg)"/>
<circle cx="1381.9" cy="191.8" r="3.4" fill="url(#dotg)"/>
<circle cx="1356.18" cy="236.35" r="3.4" fill="url(#dotg)"/>
<circle cx="1407.62" cy="236.35" r="3.4" fill="url(#dotg)"/>
<circle cx="1411.3" cy="191.8" r="3.4" fill="url(#dotg)"/>
<circle cx="1385.58" cy="236.35" r="3.4" fill="url(#dotg)"/>
<circle cx="1437.02" cy="236.35" r="3.4" fill="url(#dotg)"/>
<circle cx="1440.7" cy="191.8" r="3.4" fill="url(#dotg)"/>
<circle cx="1414.98" cy="236.35" r="3.4" fill="url(#dotg)"/>
<circle cx="1466.42" cy="236.35" r="3.4" fill="url(#dotg)"/>
<circle cx="1470.1" cy="191.8" r="3.4" fill="url(#dotg)"/>
<circle cx="1444.38" cy="236.35" r="3.4" fill="url(#dotg)"/>
<circle cx="1495.82" cy="236.35" r="3.4" fill="url(#dotg)"/>
<circle cx="1499.5" cy="191.8" r="3.4" fill="url(#dotg)"/>
<circle cx="1473.78" cy="236.35" r="3.4" fill="url(#dotg)"/>
<circle cx="1525.22" cy="236.35" r="3.4" fill="url(#dotg)"/>
<circle cx="1528.9" cy="191.8" r="3.4" fill="url(#dotg)"/>
<circle cx="1503.18" cy="236.35" r="3.4" fill="url(#dotg)"/>
<circle cx="1554.62" cy="236.35" r="3.4" fill="url(#dotg)"/>
<circle cx="1558.3" cy="191.8" r="3.4" fill="url(#dotg)"/>
<circle cx="1532.58" cy="236.35" r="3.4" fill="url(#dotg)"/>
<circle cx="1337.8" cy="217.5" r="3.4" fill="url(#dotg)"/>
<circle cx="1367.2" cy="217.5" r="3.4" fill="url(#dotg)"/>
<circle cx="1396.6" cy="217.5" r="3.4" fill="url(#dotg)"/>
<circle cx="1426" cy="217.5" r="3.4" fill="url(#dotg)"/>
<circle cx="1455.4" cy="217.5" r="3.4" fill="url(#dotg)"/>
<circle cx="1484.8" cy="217.5" r="3.4" fill="url(#dotg)"/>
<circle cx="1514.2" cy="217.5" r="3.4" fill="url(#dotg)"/>
<circle cx="1543.6" cy="217.5" r="3.4" fill="url(#dotg)"/>
<circle cx="1323.1" cy="243.2" r="3.4" fill="url(#dotg)"/>
<circle cx="1352.5" cy="243.2" r="3.4" fill="url(#dotg)"/>
<circle cx="1381.9" cy="243.2" r="3.4" fill="url(#dotg)"/>
<circle cx="1411.3" cy="243.2" r="3.4" fill="url(#dotg)"/>
<circle cx="1440.7" cy="243.2" r="3.4" fill="url(#dotg)"/>
<circle cx="1470.1" cy="243.2" r="3.4" fill="url(#dotg)"/>
<circle cx="1499.5" cy="243.2" r="3.4" fill="url(#dotg)"/>
<circle cx="1528.9" cy="243.2" r="3.4" fill="url(#dotg)"/>
<circle cx="1558.3" cy="243.2" r="3.4" fill="url(#dotg)"/>
</g>
<polygon points="1440.7,153.1 1455.4,161.6 1455.4,178.6 1440.7,187.1 1426,178.6 1426,161.6" fill="#f0f0f0" fill-opacity="0.55" stroke="#444" stroke-width="1.1"/>
<polygon points="1440.7,85.4 1366,211.5 1514.9,211.5" fill="none" stroke="#c8173a" stroke-width="2.1" stroke-dasharray="7,4.5"/>
<text x="1327.3" y="106" font-family="'Liberation Serif', 'Times New Roman', serif" font-size="26" text-anchor="start" font-weight="normal" font-style="normal" fill="#000" ><tspan font-style="italic">d</tspan> =1.75<tspan font-style="italic">l</tspan></text>
<clipPath id="hclip3">
<polygon points="1664,101.4 1678.9,110.05 1678.9,127.35 1664,136 1649.1,127.35 1649.1,110.05"/>
<polygon points="1649.3,127.1 1664.2,135.75 1664.2,153.05 1649.3,161.7 1634.4,153.05 1634.4,135.75"/>
<polygon points="1678.7,127.1 1693.6,135.75 1693.6,153.05 1678.7,161.7 1663.8,153.05 1663.8,135.75"/>
<polygon points="1634.6,152.8 1649.5,161.45 1649.5,178.75 1634.6,187.4 1619.7,178.75 1619.7,161.45"/>
<polygon points="1664,152.8 1678.9,161.45 1678.9,178.75 1664,187.4 1649.1,178.75 1649.1,161.45"/>
<polygon points="1693.4,152.8 1708.3,161.45 1708.3,178.75 1693.4,187.4 1678.5,178.75 1678.5,161.45"/>
<polygon points="1619.9,178.5 1634.8,187.15 1634.8,204.45 1619.9,213.1 1605,204.45 1605,187.15"/>
<polygon points="1649.3,178.5 1664.2,187.15 1664.2,204.45 1649.3,213.1 1634.4,204.45 1634.4,187.15"/>
<polygon points="1678.7,178.5 1693.6,187.15 1693.6,204.45 1678.7,213.1 1663.8,204.45 1663.8,187.15"/>
<polygon points="1708.1,178.5 1723,187.15 1723,204.45 1708.1,213.1 1693.2,204.45 1693.2,187.15"/>
</clipPath>
<polygon points="1752.2,204.5 1766.9,213 1766.9,230 1752.2,238.5 1737.5,230 1737.5,213" fill="#f0f0f0" stroke="#3a3a3a" stroke-width="1.1" stroke-dasharray="3,2"/>
<polygon points="1664,153.1 1678.7,161.6 1678.7,178.6 1664,187.1 1649.3,178.6 1649.3,161.6" fill="#f0f0f0" fill-opacity="1" stroke="#444" stroke-width="1.1"/>
<circle cx="1664" cy="61.4" r="3.4" fill="url(#dotg)"/>
<circle cx="1658.89" cy="70.25" r="3.4" fill="url(#dotg)"/>
<circle cx="1669.11" cy="70.25" r="3.4" fill="url(#dotg)"/>
<circle cx="1649.3" cy="87.1" r="3.4" fill="url(#dotg)"/>
<circle cx="1644.19" cy="95.95" r="3.4" fill="url(#dotg)"/>
<circle cx="1654.41" cy="95.95" r="3.4" fill="url(#dotg)"/>
<circle cx="1678.7" cy="87.1" r="3.4" fill="url(#dotg)"/>
<circle cx="1673.59" cy="95.95" r="3.4" fill="url(#dotg)"/>
<circle cx="1683.81" cy="95.95" r="3.4" fill="url(#dotg)"/>
<circle cx="1634.6" cy="112.8" r="3.4" fill="url(#dotg)"/>
<circle cx="1629.49" cy="121.65" r="3.4" fill="url(#dotg)"/>
<circle cx="1639.71" cy="121.65" r="3.4" fill="url(#dotg)"/>
<circle cx="1693.4" cy="112.8" r="3.4" fill="url(#dotg)"/>
<circle cx="1688.29" cy="121.65" r="3.4" fill="url(#dotg)"/>
<circle cx="1698.51" cy="121.65" r="3.4" fill="url(#dotg)"/>
<circle cx="1619.9" cy="138.5" r="3.4" fill="url(#dotg)"/>
<circle cx="1614.79" cy="147.35" r="3.4" fill="url(#dotg)"/>
<circle cx="1625.01" cy="147.35" r="3.4" fill="url(#dotg)"/>
<circle cx="1708.1" cy="138.5" r="3.4" fill="url(#dotg)"/>
<circle cx="1702.99" cy="147.35" r="3.4" fill="url(#dotg)"/>
<circle cx="1713.21" cy="147.35" r="3.4" fill="url(#dotg)"/>
<circle cx="1605.2" cy="164.2" r="3.4" fill="url(#dotg)"/>
<circle cx="1600.09" cy="173.05" r="3.4" fill="url(#dotg)"/>
<circle cx="1610.31" cy="173.05" r="3.4" fill="url(#dotg)"/>
<circle cx="1722.8" cy="164.2" r="3.4" fill="url(#dotg)"/>
<circle cx="1717.69" cy="173.05" r="3.4" fill="url(#dotg)"/>
<circle cx="1727.91" cy="173.05" r="3.4" fill="url(#dotg)"/>
<circle cx="1590.5" cy="189.9" r="3.4" fill="url(#dotg)"/>
<circle cx="1585.39" cy="198.75" r="3.4" fill="url(#dotg)"/>
<circle cx="1595.61" cy="198.75" r="3.4" fill="url(#dotg)"/>
<circle cx="1737.5" cy="189.9" r="3.4" fill="url(#dotg)"/>
<circle cx="1732.39" cy="198.75" r="3.4" fill="url(#dotg)"/>
<circle cx="1742.61" cy="198.75" r="3.4" fill="url(#dotg)"/>
<circle cx="1575.8" cy="215.6" r="3.4" fill="url(#dotg)"/>
<circle cx="1570.69" cy="224.45" r="3.4" fill="url(#dotg)"/>
<circle cx="1580.91" cy="224.45" r="3.4" fill="url(#dotg)"/>
<circle cx="1605.2" cy="215.6" r="3.4" fill="url(#dotg)"/>
<circle cx="1600.09" cy="224.45" r="3.4" fill="url(#dotg)"/>
<circle cx="1610.31" cy="224.45" r="3.4" fill="url(#dotg)"/>
<circle cx="1634.6" cy="215.6" r="3.4" fill="url(#dotg)"/>
<circle cx="1629.49" cy="224.45" r="3.4" fill="url(#dotg)"/>
<circle cx="1639.71" cy="224.45" r="3.4" fill="url(#dotg)"/>
<circle cx="1664" cy="215.6" r="3.4" fill="url(#dotg)"/>
<circle cx="1658.89" cy="224.45" r="3.4" fill="url(#dotg)"/>
<circle cx="1669.11" cy="224.45" r="3.4" fill="url(#dotg)"/>
<circle cx="1693.4" cy="215.6" r="3.4" fill="url(#dotg)"/>
<circle cx="1688.29" cy="224.45" r="3.4" fill="url(#dotg)"/>
<circle cx="1698.51" cy="224.45" r="3.4" fill="url(#dotg)"/>
<circle cx="1722.8" cy="215.6" r="3.4" fill="url(#dotg)"/>
<circle cx="1717.69" cy="224.45" r="3.4" fill="url(#dotg)"/>
<circle cx="1727.91" cy="224.45" r="3.4" fill="url(#dotg)"/>
<circle cx="1752.2" cy="215.6" r="3.4" fill="url(#dotg)"/>
<circle cx="1747.09" cy="224.45" r="3.4" fill="url(#dotg)"/>
<circle cx="1757.31" cy="224.45" r="3.4" fill="url(#dotg)"/>
<g clip-path="url(#hclip3)">
<circle cx="1555.25" cy="61.95" r="3.4" fill="url(#dotg)"/>
<circle cx="1625.75" cy="61.95" r="3.4" fill="url(#dotg)"/>
<circle cx="1584.65" cy="61.95" r="3.4" fill="url(#dotg)"/>
<circle cx="1655.15" cy="61.95" r="3.4" fill="url(#dotg)"/>
<circle cx="1614.05" cy="61.95" r="3.4" fill="url(#dotg)"/>
<circle cx="1684.55" cy="61.95" r="3.4" fill="url(#dotg)"/>
<circle cx="1643.45" cy="61.95" r="3.4" fill="url(#dotg)"/>
<circle cx="1713.95" cy="61.95" r="3.4" fill="url(#dotg)"/>
<circle cx="1672.85" cy="61.95" r="3.4" fill="url(#dotg)"/>
<circle cx="1743.35" cy="61.95" r="3.4" fill="url(#dotg)"/>
<circle cx="1702.25" cy="61.95" r="3.4" fill="url(#dotg)"/>
<circle cx="1772.75" cy="61.95" r="3.4" fill="url(#dotg)"/>
<circle cx="1611.05" cy="87.65" r="3.4" fill="url(#dotg)"/>
<circle cx="1569.95" cy="87.65" r="3.4" fill="url(#dotg)"/>
<circle cx="1640.45" cy="87.65" r="3.4" fill="url(#dotg)"/>
<circle cx="1599.35" cy="87.65" r="3.4" fill="url(#dotg)"/>
<circle cx="1669.85" cy="87.65" r="3.4" fill="url(#dotg)"/>
<circle cx="1628.75" cy="87.65" r="3.4" fill="url(#dotg)"/>
<circle cx="1699.25" cy="87.65" r="3.4" fill="url(#dotg)"/>
<circle cx="1658.15" cy="87.65" r="3.4" fill="url(#dotg)"/>
<circle cx="1728.65" cy="87.65" r="3.4" fill="url(#dotg)"/>
<circle cx="1687.55" cy="87.65" r="3.4" fill="url(#dotg)"/>
<circle cx="1758.05" cy="87.65" r="3.4" fill="url(#dotg)"/>
<circle cx="1716.95" cy="87.65" r="3.4" fill="url(#dotg)"/>
<circle cx="1596.35" cy="113.35" r="3.4" fill="url(#dotg)"/>
<circle cx="1555.25" cy="113.35" r="3.4" fill="url(#dotg)"/>
<circle cx="1625.75" cy="113.35" r="3.4" fill="url(#dotg)"/>
<circle cx="1584.65" cy="113.35" r="3.4" fill="url(#dotg)"/>
<circle cx="1655.15" cy="113.35" r="3.4" fill="url(#dotg)"/>
<circle cx="1614.05" cy="113.35" r="3.4" fill="url(#dotg)"/>
<circle cx="1684.55" cy="113.35" r="3.4" fill="url(#dotg)"/>
<circle cx="1643.45" cy="113.35" r="3.4" fill="url(#dotg)"/>
<circle cx="1713.95" cy="113.35" r="3.4" fill="url(#dotg)"/>
<circle cx="1672.85" cy="113.35" r="3.4" fill="url(#dotg)"/>
<circle cx="1743.35" cy="113.35" r="3.4" fill="url(#dotg)"/>
<circle cx="1702.25" cy="113.35" r="3.4" fill="url(#dotg)"/>
<circle cx="1772.75" cy="113.35" r="3.4" fill="url(#dotg)"/>
<circle cx="1731.65" cy="113.35" r="3.4" fill="url(#dotg)"/>
<circle cx="1546.4" cy="78" r="3.4" fill="url(#dotg)"/>
<circle cx="1581.65" cy="139.05" r="3.4" fill="url(#dotg)"/>
<circle cx="1575.8" cy="78" r="3.4" fill="url(#dotg)"/>
<circle cx="1611.05" cy="139.05" r="3.4" fill="url(#dotg)"/>
<circle cx="1605.2" cy="78" r="3.4" fill="url(#dotg)"/>
<circle cx="1569.95" cy="139.05" r="3.4" fill="url(#dotg)"/>
<circle cx="1640.45" cy="139.05" r="3.4" fill="url(#dotg)"/>
<circle cx="1634.6" cy="78" r="3.4" fill="url(#dotg)"/>
<circle cx="1599.35" cy="139.05" r="3.4" fill="url(#dotg)"/>
<circle cx="1669.85" cy="139.05" r="3.4" fill="url(#dotg)"/>
<circle cx="1664" cy="78" r="3.4" fill="url(#dotg)"/>
<circle cx="1628.75" cy="139.05" r="3.4" fill="url(#dotg)"/>
<circle cx="1699.25" cy="139.05" r="3.4" fill="url(#dotg)"/>
<circle cx="1693.4" cy="78" r="3.4" fill="url(#dotg)"/>
<circle cx="1658.15" cy="139.05" r="3.4" fill="url(#dotg)"/>
<circle cx="1728.65" cy="139.05" r="3.4" fill="url(#dotg)"/>
<circle cx="1722.8" cy="78" r="3.4" fill="url(#dotg)"/>
<circle cx="1687.55" cy="139.05" r="3.4" fill="url(#dotg)"/>
<circle cx="1758.05" cy="139.05" r="3.4" fill="url(#dotg)"/>
<circle cx="1752.2" cy="78" r="3.4" fill="url(#dotg)"/>
<circle cx="1716.95" cy="139.05" r="3.4" fill="url(#dotg)"/>
<circle cx="1781.6" cy="78" r="3.4" fill="url(#dotg)"/>
<circle cx="1746.35" cy="139.05" r="3.4" fill="url(#dotg)"/>
<circle cx="1566.95" cy="164.75" r="3.4" fill="url(#dotg)"/>
<circle cx="1561.1" cy="103.7" r="3.4" fill="url(#dotg)"/>
<circle cx="1596.35" cy="164.75" r="3.4" fill="url(#dotg)"/>
<circle cx="1590.5" cy="103.7" r="3.4" fill="url(#dotg)"/>
<circle cx="1555.25" cy="164.75" r="3.4" fill="url(#dotg)"/>
<circle cx="1625.75" cy="164.75" r="3.4" fill="url(#dotg)"/>
<circle cx="1619.9" cy="103.7" r="3.4" fill="url(#dotg)"/>
<circle cx="1584.65" cy="164.75" r="3.4" fill="url(#dotg)"/>
<circle cx="1655.15" cy="164.75" r="3.4" fill="url(#dotg)"/>
<circle cx="1649.3" cy="103.7" r="3.4" fill="url(#dotg)"/>
<circle cx="1614.05" cy="164.75" r="3.4" fill="url(#dotg)"/>
<circle cx="1684.55" cy="164.75" r="3.4" fill="url(#dotg)"/>
<circle cx="1678.7" cy="103.7" r="3.4" fill="url(#dotg)"/>
<circle cx="1643.45" cy="164.75" r="3.4" fill="url(#dotg)"/>
<circle cx="1713.95" cy="164.75" r="3.4" fill="url(#dotg)"/>
<circle cx="1708.1" cy="103.7" r="3.4" fill="url(#dotg)"/>
<circle cx="1672.85" cy="164.75" r="3.4" fill="url(#dotg)"/>
<circle cx="1743.35" cy="164.75" r="3.4" fill="url(#dotg)"/>
<circle cx="1737.5" cy="103.7" r="3.4" fill="url(#dotg)"/>
<circle cx="1702.25" cy="164.75" r="3.4" fill="url(#dotg)"/>
<circle cx="1772.75" cy="164.75" r="3.4" fill="url(#dotg)"/>
<circle cx="1766.9" cy="103.7" r="3.4" fill="url(#dotg)"/>
<circle cx="1731.65" cy="164.75" r="3.4" fill="url(#dotg)"/>
<circle cx="1761.05" cy="164.75" r="3.4" fill="url(#dotg)"/>
<circle cx="1552.25" cy="190.45" r="3.4" fill="url(#dotg)"/>
<circle cx="1546.4" cy="129.4" r="3.4" fill="url(#dotg)"/>
<circle cx="1581.65" cy="190.45" r="3.4" fill="url(#dotg)"/>
<circle cx="1575.8" cy="129.4" r="3.4" fill="url(#dotg)"/>
<circle cx="1611.05" cy="190.45" r="3.4" fill="url(#dotg)"/>
<circle cx="1605.2" cy="129.4" r="3.4" fill="url(#dotg)"/>
<circle cx="1569.95" cy="190.45" r="3.4" fill="url(#dotg)"/>
<circle cx="1640.45" cy="190.45" r="3.4" fill="url(#dotg)"/>
<circle cx="1634.6" cy="129.4" r="3.4" fill="url(#dotg)"/>
<circle cx="1599.35" cy="190.45" r="3.4" fill="url(#dotg)"/>
<circle cx="1669.85" cy="190.45" r="3.4" fill="url(#dotg)"/>
<circle cx="1664" cy="129.4" r="3.4" fill="url(#dotg)"/>
<circle cx="1628.75" cy="190.45" r="3.4" fill="url(#dotg)"/>
<circle cx="1699.25" cy="190.45" r="3.4" fill="url(#dotg)"/>
<circle cx="1693.4" cy="129.4" r="3.4" fill="url(#dotg)"/>
<circle cx="1658.15" cy="190.45" r="3.4" fill="url(#dotg)"/>
<circle cx="1728.65" cy="190.45" r="3.4" fill="url(#dotg)"/>
<circle cx="1722.8" cy="129.4" r="3.4" fill="url(#dotg)"/>
<circle cx="1687.55" cy="190.45" r="3.4" fill="url(#dotg)"/>
<circle cx="1758.05" cy="190.45" r="3.4" fill="url(#dotg)"/>
<circle cx="1752.2" cy="129.4" r="3.4" fill="url(#dotg)"/>
<circle cx="1716.95" cy="190.45" r="3.4" fill="url(#dotg)"/>
<circle cx="1781.6" cy="129.4" r="3.4" fill="url(#dotg)"/>
<circle cx="1746.35" cy="190.45" r="3.4" fill="url(#dotg)"/>
<circle cx="1775.75" cy="190.45" r="3.4" fill="url(#dotg)"/>
<circle cx="1566.95" cy="216.15" r="3.4" fill="url(#dotg)"/>
<circle cx="1561.1" cy="155.1" r="3.4" fill="url(#dotg)"/>
<circle cx="1596.35" cy="216.15" r="3.4" fill="url(#dotg)"/>
<circle cx="1590.5" cy="155.1" r="3.4" fill="url(#dotg)"/>
<circle cx="1555.25" cy="216.15" r="3.4" fill="url(#dotg)"/>
<circle cx="1625.75" cy="216.15" r="3.4" fill="url(#dotg)"/>
<circle cx="1619.9" cy="155.1" r="3.4" fill="url(#dotg)"/>
<circle cx="1584.65" cy="216.15" r="3.4" fill="url(#dotg)"/>
<circle cx="1655.15" cy="216.15" r="3.4" fill="url(#dotg)"/>
<circle cx="1649.3" cy="155.1" r="3.4" fill="url(#dotg)"/>
<circle cx="1614.05" cy="216.15" r="3.4" fill="url(#dotg)"/>
<circle cx="1684.55" cy="216.15" r="3.4" fill="url(#dotg)"/>
<circle cx="1678.7" cy="155.1" r="3.4" fill="url(#dotg)"/>
<circle cx="1643.45" cy="216.15" r="3.4" fill="url(#dotg)"/>
<circle cx="1713.95" cy="216.15" r="3.4" fill="url(#dotg)"/>
<circle cx="1708.1" cy="155.1" r="3.4" fill="url(#dotg)"/>
<circle cx="1672.85" cy="216.15" r="3.4" fill="url(#dotg)"/>
<circle cx="1743.35" cy="216.15" r="3.4" fill="url(#dotg)"/>
<circle cx="1737.5" cy="155.1" r="3.4" fill="url(#dotg)"/>
<circle cx="1702.25" cy="216.15" r="3.4" fill="url(#dotg)"/>
<circle cx="1772.75" cy="216.15" r="3.4" fill="url(#dotg)"/>
<circle cx="1766.9" cy="155.1" r="3.4" fill="url(#dotg)"/>
<circle cx="1731.65" cy="216.15" r="3.4" fill="url(#dotg)"/>
<circle cx="1761.05" cy="216.15" r="3.4" fill="url(#dotg)"/>
<circle cx="1552.25" cy="241.85" r="3.4" fill="url(#dotg)"/>
<circle cx="1546.4" cy="180.8" r="3.4" fill="url(#dotg)"/>
<circle cx="1581.65" cy="241.85" r="3.4" fill="url(#dotg)"/>
<circle cx="1575.8" cy="180.8" r="3.4" fill="url(#dotg)"/>
<circle cx="1611.05" cy="241.85" r="3.4" fill="url(#dotg)"/>
<circle cx="1605.2" cy="180.8" r="3.4" fill="url(#dotg)"/>
<circle cx="1569.95" cy="241.85" r="3.4" fill="url(#dotg)"/>
<circle cx="1640.45" cy="241.85" r="3.4" fill="url(#dotg)"/>
<circle cx="1634.6" cy="180.8" r="3.4" fill="url(#dotg)"/>
<circle cx="1599.35" cy="241.85" r="3.4" fill="url(#dotg)"/>
<circle cx="1669.85" cy="241.85" r="3.4" fill="url(#dotg)"/>
<circle cx="1664" cy="180.8" r="3.4" fill="url(#dotg)"/>
<circle cx="1628.75" cy="241.85" r="3.4" fill="url(#dotg)"/>
<circle cx="1699.25" cy="241.85" r="3.4" fill="url(#dotg)"/>
<circle cx="1693.4" cy="180.8" r="3.4" fill="url(#dotg)"/>
<circle cx="1658.15" cy="241.85" r="3.4" fill="url(#dotg)"/>
<circle cx="1728.65" cy="241.85" r="3.4" fill="url(#dotg)"/>
<circle cx="1722.8" cy="180.8" r="3.4" fill="url(#dotg)"/>
<circle cx="1687.55" cy="241.85" r="3.4" fill="url(#dotg)"/>
<circle cx="1758.05" cy="241.85" r="3.4" fill="url(#dotg)"/>
<circle cx="1752.2" cy="180.8" r="3.4" fill="url(#dotg)"/>
<circle cx="1716.95" cy="241.85" r="3.4" fill="url(#dotg)"/>
<circle cx="1781.6" cy="180.8" r="3.4" fill="url(#dotg)"/>
<circle cx="1746.35" cy="241.85" r="3.4" fill="url(#dotg)"/>
<circle cx="1775.75" cy="241.85" r="3.4" fill="url(#dotg)"/>
<circle cx="1561.1" cy="206.5" r="3.4" fill="url(#dotg)"/>
<circle cx="1590.5" cy="206.5" r="3.4" fill="url(#dotg)"/>
<circle cx="1619.9" cy="206.5" r="3.4" fill="url(#dotg)"/>
<circle cx="1649.3" cy="206.5" r="3.4" fill="url(#dotg)"/>
<circle cx="1678.7" cy="206.5" r="3.4" fill="url(#dotg)"/>
<circle cx="1708.1" cy="206.5" r="3.4" fill="url(#dotg)"/>
<circle cx="1737.5" cy="206.5" r="3.4" fill="url(#dotg)"/>
<circle cx="1766.9" cy="206.5" r="3.4" fill="url(#dotg)"/>
<circle cx="1546.4" cy="232.2" r="3.4" fill="url(#dotg)"/>
<circle cx="1575.8" cy="232.2" r="3.4" fill="url(#dotg)"/>
<circle cx="1605.2" cy="232.2" r="3.4" fill="url(#dotg)"/>
<circle cx="1634.6" cy="232.2" r="3.4" fill="url(#dotg)"/>
<circle cx="1664" cy="232.2" r="3.4" fill="url(#dotg)"/>
<circle cx="1693.4" cy="232.2" r="3.4" fill="url(#dotg)"/>
<circle cx="1722.8" cy="232.2" r="3.4" fill="url(#dotg)"/>
<circle cx="1752.2" cy="232.2" r="3.4" fill="url(#dotg)"/>
<circle cx="1781.6" cy="232.2" r="3.4" fill="url(#dotg)"/>
</g>
<polygon points="1663.4,90.2 1595.4,208.6 1733.6,208.6" fill="none" stroke="#c8173a" stroke-width="2.1" stroke-dasharray="7,4.5"/>
<text x="1551.4" y="106" font-family="'Liberation Serif', 'Times New Roman', serif" font-size="26" text-anchor="start" font-weight="normal" font-style="normal" fill="#000" ><tspan font-style="italic">d</tspan> =2.25<tspan font-style="italic">l</tspan></text>
<text x="892.8" y="51.4" font-family="'Liberation Sans', Arial, sans-serif" font-size="35" text-anchor="start" font-weight="bold" font-style="normal" fill="#000" >H</text>
<rect x="1015.2" y="286.8" width="689.3999999999999" height="260.49999999999994" fill="#d3d3d3"/>
<polygon points="1015.2,313 1021,327 1028.7,343.2 1037,359.5 1046,374.7 1056,388.5 1066,400.6 1075,408.5 1085,415 1085,410.6 1075,400.5 1066,389 1056,373 1047.4,357.5 1056,371.5 1066,383.4 1075,390.5 1085,394.8 1089,395.2 1099,392.5 1109,386.2 1119,376 1129.2,363.3 1139,349 1149.3,334.5 1158,325 1166.5,318.8 1176,315.4 1186.6,313.9 1200,311.5 1240,312 1270,314.9 1282.8,316.2 1293.1,320 1300.8,328.3 1308.5,342.4 1318.7,359.1 1329,374.5 1340.5,384.7 1352,389.9 1358.4,391.2 1358.4,430 1329.2,449.5 1300.5,466.2 1285,477.5 1275.2,484.3 1265,472.5 1257.4,456 1243,416 1232,384 1222,359.5 1214,376 1206.7,393 1196,420 1186.6,441.5 1176,466 1167.4,487.5 1155,481.5 1143.6,475.2 1129,466 1114.8,458 1100,452.5 1091.9,451.7 1084,452.8 1077.5,455.1 1068,462.5 1057.4,475.2 1043,492.5 1028.7,509.7 1015.2,525.5" fill="#fff" />
<polygon points="1358.4,368.7 1372.6,371.9 1385.4,370.6 1393,366.8 1401.7,351.8 1410,338.5 1418.9,325.5 1424,313 1427,308.7 1569.6,308.7 1575,318 1583,331.7 1590,343.5 1597.4,354.7 1604,364.5 1611.7,374.8 1619,380.5 1626.1,383.4 1634.7,384.9 1634.7,485 1626,482 1617.5,481.1 1610,483 1603,486.9 1595,494 1588.7,504.1 1583,512.5 1577.2,521.3 1529.4,521.3 1497.9,407.8 1466.3,521.3 1418.9,521.3 1407.4,504 1393,486.7 1378.7,472.4 1358.4,463.7" fill="#fff" />
<polygon points="1634.7,384.9 1646.2,384 1660.6,379.1 1672.1,366.2 1682.1,337.5 1669.2,374.8 1654.8,389.2 1634.7,396.4" fill="#fff" />
<polygon points="1634.7,417.9 1652,406.4 1669.2,389.2 1683.6,366.2 1695,343.2 1704.6,320.2 1704.6,525.7 1692,511 1680.7,498.4 1670,486.5 1660.6,475.4 1648,462 1634.7,449.5" fill="#fff" />
<line x1="1085" y1="286.8" x2="1085" y2="547.3" stroke="#4a4a4a" stroke-width="1.3" stroke-dasharray="8.5,6"/>
<line x1="1358.4" y1="286.8" x2="1358.4" y2="547.3" stroke="#4a4a4a" stroke-width="1.3" stroke-dasharray="8.5,6"/>
<line x1="1634.7" y1="286.8" x2="1634.7" y2="547.3" stroke="#4a4a4a" stroke-width="1.3" stroke-dasharray="8.5,6"/>
<path d="M1085,415.5 C1089.47,419.73 1106.01,436.03 1114.8,443.7 C1123.59,451.37 1135.71,461 1143.6,466.6 C1151.49,472.2 1163.83,478.84 1167.4,481" fill="none" stroke="#2f8497" stroke-width="4.2" stroke-linejoin="round" stroke-linecap="round" />
<path d="M1167.4,481 C1172.44,471.52 1192.81,437.18 1201,417.8 C1209.19,398.42 1218.85,361.7 1222,351.8" fill="none" stroke="#2f8497" stroke-width="4.2" stroke-linejoin="round" stroke-linecap="round" />
<path d="M1222,351.8 C1225.15,360.41 1237.69,394.56 1243,409.2 C1248.31,423.84 1252.57,439.15 1257.4,449.4 C1262.23,459.64 1272.53,473.28 1275.2,477.5" fill="none" stroke="#2f8497" stroke-width="4.2" stroke-linejoin="round" stroke-linecap="round" />
<path d="M1275.2,477.5 C1279,475.01 1292.4,465.97 1300.5,460.9 C1308.6,455.83 1320.52,449.16 1329.2,443.7 C1337.88,438.24 1354.02,427.38 1358.4,424.5" fill="none" stroke="#2f8497" stroke-width="4.2" stroke-linejoin="round" stroke-linecap="round" />
<path d="M1085,415 C1089.47,418.23 1106.01,430.26 1114.8,436.5 C1123.59,442.74 1135.71,450.87 1143.6,456.6 C1151.49,462.33 1163.83,471.99 1167.4,474.7" fill="none" stroke="#9170e6" stroke-width="3.6" stroke-linejoin="round" stroke-linecap="round" />
<path d="M1167.4,474.7 C1168.99,473.05 1172.96,473.52 1178,463.7 C1183.04,453.88 1194.4,427.71 1201,409.2 C1207.6,390.69 1218.85,350.63 1222,340.3" fill="none" stroke="#9170e6" stroke-width="3.6" stroke-linejoin="round" stroke-linecap="round" />
<path d="M1222,340.3 C1225.15,349.35 1237.69,385.96 1243,400.6 C1248.31,415.24 1252.57,427.49 1257.4,437.9 C1262.23,448.31 1272.53,465.19 1275.2,470" fill="none" stroke="#9170e6" stroke-width="3.6" stroke-linejoin="round" stroke-linecap="round" />
<path d="M1275.2,470 C1279,467.35 1292.4,457.97 1300.5,452.3 C1308.6,446.63 1320.52,439.1 1329.2,432.2 C1337.88,425.3 1354.02,410.19 1358.4,406.3" fill="none" stroke="#9170e6" stroke-width="3.6" stroke-linejoin="round" stroke-linecap="round" />
<path d="M1085,415 C1086.45,415.63 1088.07,418.34 1094.7,419.2 C1101.33,420.06 1118.3,420.7 1129.2,420.7 C1140.11,420.7 1161.67,419.43 1167.4,419.2" fill="none" stroke="#e6288a" stroke-width="3.3" stroke-linejoin="round" stroke-linecap="round" />
<path d="M1167.4,419.2 C1171.57,411.24 1187.01,380.95 1195.2,366.1 C1203.39,351.25 1217.98,327.08 1222,320.2" fill="none" stroke="#e6288a" stroke-width="3.3" stroke-linejoin="round" stroke-linecap="round" />
<path d="M1222,320.2 C1225.9,326.92 1240.04,351.83 1248,365 C1255.96,378.17 1271.03,401.55 1275.1,408" fill="none" stroke="#e6288a" stroke-width="3.3" stroke-linejoin="round" stroke-linecap="round" />
<path d="M1275.1,408 C1277.21,406.81 1285.16,401.96 1289.2,400.1 C1293.24,398.24 1297.58,396.56 1302,395.6 C1306.42,394.64 1313.88,393.59 1318.7,393.7 C1323.52,393.81 1329.48,394.95 1334.1,396.3 C1338.72,397.65 1345.86,401.55 1349.5,402.7 C1353.14,403.85 1357.07,403.81 1358.4,404" fill="none" stroke="#e6288a" stroke-width="3.3" stroke-linejoin="round" stroke-linecap="round" />
<polyline points="1358.4,424 1381.6,427.9 1407.4,430.7 1427.5,435 1444.7,439.3 1459.1,417.8 1476.3,389.1 1490.7,363.3 1497.9,350.3 1506.5,363.3 1522.3,394.8 1536.6,423.6 1551,452.3 1568.2,458 1590,463.7 1617.5,471.1 1634.7,479.7" fill="none" stroke="#e6288a" stroke-width="3.3" stroke-linejoin="round" stroke-linecap="round" />
<path d="M1384,372 C1384.49,371.89 1383.79,370.25 1387.3,371.3 C1390.81,372.35 1401.81,376.54 1407.4,379 C1413,381.46 1419.21,384.89 1424.6,387.7 C1429.98,390.5 1440.49,396.2 1443.3,397.7" fill="none" stroke="#9170e6" stroke-width="3.6" stroke-linejoin="round" stroke-linecap="round" />
<polygon points="1358.6,387.7 1373,383.4 1390.2,376.2 1407.4,377.6 1424.6,386.2 1441.9,397.7 1459.1,374.7 1473.5,348.9 1485,325.9 1493.6,311.6 1497.9,308.2 1505,314.5 1516.5,334.5 1530.9,363.3 1545.2,392 1551,405.5 1568.2,410.6 1590,414.5 1617.5,406.4 1634.7,401.5 1634.7,479.7 1617.5,468.2 1588.7,452.4 1568.2,440 1551,429.3 1545.2,420.7 1533.7,400.6 1519.4,371.9 1506.5,344.6 1497.9,337.4 1490.7,341.7 1479.2,357.5 1464.8,377.6 1444.7,406.3 1424.6,417.8 1401.7,425 1378.7,436.5 1358.6,453.7" fill="#2f8497" stroke="#2f8497" stroke-width="0.8" stroke-linejoin="round"/>
<polygon points="1358.6,406.5 1375,402 1395,398.3 1412,396.3 1428,399.5 1410,403.5 1390,408 1372,413 1358.6,417" fill="#fff" />
<polygon points="1548,421.5 1560,422.5 1575,424 1590,425 1605,422.5 1620,419.5 1634.7,417.9 1634.7,446.7 1617.5,438 1600,433 1588.7,430.9 1570,428 1555,425" fill="#fff" />
<polyline points="1404.6,353.2 1421.8,360.4 1444.7,374.7 1462,354.6 1473.5,337.4 1487.8,314.5 1496.4,307.3 1505,308.7 1522.3,337.4 1536.6,366.1 1551,386.2 1568.2,387.7 1590,379 1604.5,373.4" fill="none" stroke="#e6288a" stroke-width="3.3" stroke-linejoin="round" stroke-linecap="round" />
<path d="M1551,409.8 C1553.58,409.95 1562.35,411.1 1568.2,410.8 C1574.05,410.5 1582.61,409.12 1590,407.8 C1597.39,406.48 1610.8,403.59 1617.5,402 C1624.2,400.41 1632.12,397.92 1634.7,397.2" fill="none" stroke="#9170e6" stroke-width="3.6" stroke-linejoin="round" stroke-linecap="round" />
<circle cx="1482.6" cy="318.2" r="3" fill="#f01010"/>
<circle cx="1483.5" cy="339.7" r="3" fill="#f2c744"/>
<circle cx="1482.6" cy="380.5" r="3" fill="#f01010"/>
<circle cx="1559" cy="413.3" r="3" fill="#7b3fb0"/>
<text x="1450.5" y="320.2" font-family="'Liberation Serif', 'Times New Roman', serif" font-size="23" text-anchor="start" font-weight="normal" font-style="normal" fill="#000" >(j)</text>
<text x="1458" y="361.8" font-family="'Liberation Serif', 'Times New Roman', serif" font-size="23" text-anchor="start" font-weight="normal" font-style="normal" fill="#000" >(k)</text>
<text x="1557.5" y="413.5" font-family="'Liberation Serif', 'Times New Roman', serif" font-size="23" text-anchor="start" font-weight="normal" font-style="normal" fill="#000" >(l)</text>
<polyline points="991.5,286.8 977,286.8 977,547.3 991.5,547.3" stroke="#555" stroke-width="1.4" fill="none"/>
<line x1="1012" y1="286.8" x2="1707.5" y2="286.8" stroke="#555" stroke-width="1.4" fill="none"/>
<line x1="1012" y1="547.3" x2="1707.5" y2="547.3" stroke="#555" stroke-width="1.4" fill="none"/>
<polyline points="1728,286.8 1743.8,286.8 1743.8,547.3 1728,547.3" stroke="#555" stroke-width="1.4" fill="none"/>
<line x1="990.5" y1="292.8" x2="997.5" y2="280.8" stroke="#555" stroke-width="1.4"/>
<line x1="1004.0" y1="292.8" x2="1011.0" y2="280.8" stroke="#555" stroke-width="1.4"/>
<line x1="990.5" y1="553.3" x2="997.5" y2="541.3" stroke="#555" stroke-width="1.4"/>
<line x1="1004.0" y1="553.3" x2="1011.0" y2="541.3" stroke="#555" stroke-width="1.4"/>
<line x1="1706.5" y1="292.8" x2="1713.5" y2="280.8" stroke="#555" stroke-width="1.4"/>
<line x1="1720.0" y1="292.8" x2="1727.0" y2="280.8" stroke="#555" stroke-width="1.4"/>
<line x1="1706.5" y1="553.3" x2="1713.5" y2="541.3" stroke="#555" stroke-width="1.4"/>
<line x1="1720.0" y1="553.3" x2="1727.0" y2="541.3" stroke="#555" stroke-width="1.4"/>
<line x1="1015.3" y1="547.3" x2="1015.3" y2="540.3" stroke="#555" stroke-width="1.2"/>
<line x1="1085.1" y1="547.3" x2="1085.1" y2="540.3" stroke="#555" stroke-width="1.2"/>
<line x1="1162.5" y1="547.3" x2="1162.5" y2="540.3" stroke="#555" stroke-width="1.2"/>
<line x1="1223.6" y1="547.3" x2="1223.6" y2="540.3" stroke="#555" stroke-width="1.2"/>
<line x1="1280" y1="547.3" x2="1280" y2="540.3" stroke="#555" stroke-width="1.2"/>
<line x1="1358.4" y1="547.3" x2="1358.4" y2="540.3" stroke="#555" stroke-width="1.2"/>
<line x1="1438.6" y1="547.3" x2="1438.6" y2="540.3" stroke="#555" stroke-width="1.2"/>
<line x1="1499.6" y1="547.3" x2="1499.6" y2="540.3" stroke="#555" stroke-width="1.2"/>
<line x1="1558.9" y1="547.3" x2="1558.9" y2="540.3" stroke="#555" stroke-width="1.2"/>
<line x1="1635" y1="547.3" x2="1635" y2="540.3" stroke="#555" stroke-width="1.2"/>
<line x1="1704.7" y1="547.3" x2="1704.7" y2="540.3" stroke="#555" stroke-width="1.2"/>
<line x1="977" y1="285.2" x2="984" y2="285.2" stroke="#555" stroke-width="1.2"/>
<text x="972.5" y="298.2" font-family="'Liberation Serif', 'Times New Roman', serif" font-size="25.5" text-anchor="end" font-weight="normal" font-style="normal" fill="#000" >0.44</text>
<line x1="977" y1="356.2" x2="984" y2="356.2" stroke="#555" stroke-width="1.2"/>
<text x="972.5" y="366.8" font-family="'Liberation Serif', 'Times New Roman', serif" font-size="25.5" text-anchor="end" font-weight="normal" font-style="normal" fill="#000" >0.40</text>
<line x1="977" y1="445.9" x2="984" y2="445.9" stroke="#555" stroke-width="1.2"/>
<text x="972.5" y="456.1" font-family="'Liberation Serif', 'Times New Roman', serif" font-size="25.5" text-anchor="end" font-weight="normal" font-style="normal" fill="#000" >0.34</text>
<line x1="977" y1="540.5" x2="984" y2="540.5" stroke="#555" stroke-width="1.2"/>
<text x="972.5" y="550.3" font-family="'Liberation Serif', 'Times New Roman', serif" font-size="25.5" text-anchor="end" font-weight="normal" font-style="normal" fill="#000" >0.28</text>
<text x="976.3" y="572.4" font-family="'Liberation Serif', 'Times New Roman', serif" font-size="25.5" text-anchor="middle" font-weight="normal" font-style="normal" fill="#000" >0</text>
<text x="1022.2" y="572.4" font-family="'Liberation Serif', 'Times New Roman', serif" font-size="25.5" text-anchor="middle" font-weight="normal" font-style="normal" fill="#000" >0.25</text>
<text x="1091" y="572.4" font-family="'Liberation Serif', 'Times New Roman', serif" font-size="25.5" text-anchor="middle" font-weight="normal" font-style="normal" fill="#000" >0.5</text>
<text x="1166" y="572.4" font-family="'Liberation Serif', 'Times New Roman', serif" font-size="25.5" text-anchor="middle" font-weight="normal" font-style="normal" fill="#000" >0.75</text>
<text x="1229.6" y="572.4" font-family="'Liberation Serif', 'Times New Roman', serif" font-size="25.5" text-anchor="middle" font-weight="normal" font-style="normal" fill="#000" >1</text>
<text x="1288" y="572.4" font-family="'Liberation Serif', 'Times New Roman', serif" font-size="25.5" text-anchor="middle" font-weight="normal" font-style="normal" fill="#000" >1.25</text>
<text x="1365.7" y="572.4" font-family="'Liberation Serif', 'Times New Roman', serif" font-size="25.5" text-anchor="middle" font-weight="normal" font-style="normal" fill="#000" >1.5</text>
<text x="1443.3" y="572.4" font-family="'Liberation Serif', 'Times New Roman', serif" font-size="25.5" text-anchor="middle" font-weight="normal" font-style="normal" fill="#000" >1.75</text>
<text x="1507.5" y="572.4" font-family="'Liberation Serif', 'Times New Roman', serif" font-size="25.5" text-anchor="middle" font-weight="normal" font-style="normal" fill="#000" >2</text>
<text x="1566.5" y="572.4" font-family="'Liberation Serif', 'Times New Roman', serif" font-size="25.5" text-anchor="middle" font-weight="normal" font-style="normal" fill="#000" >2.25</text>
<text x="1641.8" y="572.4" font-family="'Liberation Serif', 'Times New Roman', serif" font-size="25.5" text-anchor="middle" font-weight="normal" font-style="normal" fill="#000" >2.5</text>
<text x="1708" y="572.4" font-family="'Liberation Serif', 'Times New Roman', serif" font-size="25.5" text-anchor="middle" font-weight="normal" font-style="normal" fill="#000" >2.75</text>
<text x="1750.4" y="572.4" font-family="'Liberation Serif', 'Times New Roman', serif" font-size="25.5" text-anchor="middle" font-weight="normal" font-style="normal" fill="#000" >3</text>
<text x="911.3" y="413.8" font-family="'Liberation Serif', 'Times New Roman', serif" font-size="26" text-anchor="middle" font-weight="normal" font-style="normal" fill="#000" transform="rotate(-90 911.3 413.8)">Frequency (c/a)</text>
<text x="886.5" y="292.5" font-family="'Liberation Sans', Arial, sans-serif" font-size="34" text-anchor="start" font-weight="bold" font-style="normal" fill="#000" >I</text>
<rect x="111" y="647.4" width="192" height="265.6" fill="none" stroke="#858585" stroke-width="1.3"/>
<line x1="111" y1="714.6" x2="115" y2="714.6" stroke="#858585" stroke-width="1.1"/>
<line x1="303" y1="714.6" x2="299" y2="714.6" stroke="#858585" stroke-width="1.1"/>
<line x1="111" y1="780.2" x2="115" y2="780.2" stroke="#858585" stroke-width="1.1"/>
<line x1="303" y1="780.2" x2="299" y2="780.2" stroke="#858585" stroke-width="1.1"/>
<line x1="111" y1="846.6" x2="115" y2="846.6" stroke="#858585" stroke-width="1.1"/>
<line x1="303" y1="846.6" x2="299" y2="846.6" stroke="#858585" stroke-width="1.1"/>
<line x1="207" y1="647.4" x2="207" y2="651.4" stroke="#858585" stroke-width="1.1"/>
<line x1="207" y1="913" x2="207" y2="909" stroke="#858585" stroke-width="1.1"/>
<polygon points="206.5,658.5 244.3,679.2 244.3,723.2 206.5,743.9 168.7,723.2 168.7,679.2" fill="#f1f1f1"/>
<circle cx="206.5" cy="701.7" r="7.4" fill="url(#dotg)"/><circle cx="206.5" cy="701.7" r="3.1" fill="#000"/>
<polygon points="160.1,803.9 197.9,824.4 197.9,868.4 160.1,888.9 122.3,868.4 122.3,824.4" fill="#f1f1f1"/>
<circle cx="160" cy="833.3" r="7.6" fill="url(#dotg)" stroke="#f1f1f1" stroke-width="0.6"/>
<circle cx="148.9" cy="852.4" r="7.6" fill="url(#dotg)" stroke="#f1f1f1" stroke-width="0.6"/>
<circle cx="171.3" cy="852.4" r="7.6" fill="url(#dotg)" stroke="#f1f1f1" stroke-width="0.6"/>
<circle cx="160.1" cy="846.6" r="3.1" fill="#000"/>
<polygon points="254.4,803.9 292.2,824.4 292.2,868.4 254.4,888.9 216.6,868.4 216.6,824.4" fill="#f1f1f1"/>
<circle cx="243.2" cy="840" r="7.6" fill="url(#dotg)" stroke="#f1f1f1" stroke-width="0.6"/>
<circle cx="264.9" cy="840" r="7.6" fill="url(#dotg)" stroke="#f1f1f1" stroke-width="0.6"/>
<circle cx="253.6" cy="858.8" r="7.6" fill="url(#dotg)" stroke="#f1f1f1" stroke-width="0.6"/>
<circle cx="254.4" cy="846.6" r="3.1" fill="#000"/>
<path d="M111,781.7 C160,781.7 175,779.4 207,779.4 C239,779.4 254,781.7 303,781.7" fill="none" stroke="#000" stroke-width="2"/>
<line x1="111" y1="780" x2="303" y2="780" stroke="#ff1a1a" stroke-width="2.2" stroke-dasharray="3,2.2"/>
<text x="103" y="655.6" font-family="'Liberation Serif', 'Times New Roman', serif" font-size="25" text-anchor="end" font-weight="normal" font-style="normal" fill="#000" >0.5</text>
<text x="96" y="792.6" font-family="'Liberation Serif', 'Times New Roman', serif" font-size="25" text-anchor="end" font-weight="normal" font-style="normal" fill="#000" >0</text>
<text x="105" y="920.5" font-family="'Liberation Serif', 'Times New Roman', serif" font-size="25" text-anchor="end" font-weight="normal" font-style="normal" fill="#000" >-0.5</text>
<text x="101.8" y="939.4" font-family="'Liberation Serif', 'Times New Roman', serif" font-size="25" text-anchor="middle" font-weight="normal" font-style="normal" fill="#000" >-0.5</text>
<text x="193.5" y="939.4" font-family="'Liberation Serif', 'Times New Roman', serif" font-size="25" text-anchor="middle" font-weight="normal" font-style="normal" fill="#000" >0</text>
<text x="277.8" y="939.4" font-family="'Liberation Serif', 'Times New Roman', serif" font-size="25" text-anchor="middle" font-weight="normal" font-style="normal" fill="#000" >0.5</text>
<text x="146" y="965.6" font-family="'Liberation Serif', 'Times New Roman', serif" font-size="25" text-anchor="start" font-weight="normal" font-style="normal" fill="#000" ><tspan font-style="italic">k</tspan><tspan font-size="17" dy="5">1</tspan><tspan dy="-5"> (2&#960;/a)</tspan></text>
<text x="0" y="0" font-family="'Liberation Serif', 'Times New Roman', serif" font-size="31" font-style="italic" transform="translate(67.6 787) rotate(-90)">&#952;<tspan font-size="19" dy="8" font-style="italic">2,k</tspan><tspan font-size="13" dy="4" font-style="normal">1</tspan></text>
<text x="117" y="675.6" font-family="'Liberation Sans', Arial, sans-serif" font-size="32" text-anchor="start" font-weight="bold" font-style="normal" fill="#000" >E</text>
<rect x="364.4" y="647.5" width="192.89999999999998" height="265.1" fill="none" stroke="#858585" stroke-width="1.3"/>
<line x1="364.4" y1="859.6" x2="368.4" y2="859.6" stroke="#858585" stroke-width="1.1"/>
<line x1="557.3" y1="859.6" x2="553.3" y2="859.6" stroke="#858585" stroke-width="1.1"/>
<line x1="364.4" y1="806.6" x2="368.4" y2="806.6" stroke="#858585" stroke-width="1.1"/>
<line x1="557.3" y1="806.6" x2="553.3" y2="806.6" stroke="#858585" stroke-width="1.1"/>
<line x1="364.4" y1="753.6" x2="368.4" y2="753.6" stroke="#858585" stroke-width="1.1"/>
<line x1="557.3" y1="753.6" x2="553.3" y2="753.6" stroke="#858585" stroke-width="1.1"/>
<line x1="364.4" y1="700.6" x2="368.4" y2="700.6" stroke="#858585" stroke-width="1.1"/>
<line x1="557.3" y1="700.6" x2="553.3" y2="700.6" stroke="#858585" stroke-width="1.1"/>
<line x1="460.9" y1="647.5" x2="460.9" y2="651.5" stroke="#858585" stroke-width="1.1"/>
<line x1="460.9" y1="912.6" x2="460.9" y2="908.6" stroke="#858585" stroke-width="1.1"/>
<polygon points="458.5,663.6 494.1,682.8 494.1,723.4 458.5,742.6 422.9,723.4 422.9,682.8" fill="#f1f1f1"/>
<ellipse cx="458.5" cy="681.5" rx="7.6" ry="6.8" fill="url(#dotg)" stroke="#f1f1f1" stroke-width="0.6"/>
<ellipse cx="439.1" cy="711.9" rx="7.6" ry="6.8" fill="url(#dotg)" stroke="#f1f1f1" stroke-width="0.6"/>
<ellipse cx="477" cy="711.9" rx="7.6" ry="6.8" fill="url(#dotg)" stroke="#f1f1f1" stroke-width="0.6"/>
<clipPath id="fcl1"><polygon points="416,732.7 450.6,751.3 450.6,790.9 416,809.5 381.4,790.9 381.4,751.3"/></clipPath>
<polygon points="416,732.7 450.6,751.3 450.6,790.9 416,809.5 381.4,790.9 381.4,751.3" fill="#f1f1f1"/>
<g clip-path="url(#fcl1)">
<circle cx="415.3" cy="734" r="7.4" fill="url(#dotg)"/>
<circle cx="383.4" cy="790.2" r="7.4" fill="url(#dotg)"/>
<circle cx="448" cy="788.4" r="7.4" fill="url(#dotg)"/>
</g>
<clipPath id="fcl2"><polygon points="502.7,736.1 539.3,755 539.3,795 502.7,813.9 466.1,795 466.1,755"/></clipPath>
<polygon points="502.7,736.1 539.3,755 539.3,795 502.7,813.9 466.1,795 466.1,755" fill="#f1f1f1"/>
<g clip-path="url(#fcl2)">
<circle cx="491.5" cy="739" r="7.4" fill="url(#dotg)"/>
<circle cx="514" cy="739" r="7.4" fill="url(#dotg)"/>
<circle cx="466.5" cy="779.5" r="7.4" fill="url(#dotg)"/>
<circle cx="481.5" cy="800.5" r="7.4" fill="url(#dotg)"/>
<circle cx="539.3" cy="778.6" r="7.4" fill="url(#dotg)"/>
<circle cx="525.5" cy="799.5" r="7.4" fill="url(#dotg)"/>
</g>
<line x1="364.4" y1="824.6" x2="557.3" y2="824.6" stroke="#ff1a1a" stroke-width="2.2" stroke-dasharray="3,2.2"/>
<polyline points="364.4,797.3 366.41,797.89 368.42,798.72 370.43,799.68 372.44,800.74 374.45,801.87 376.46,803.05 378.47,804.29 380.47,805.56 382.48,806.87 384.49,808.2 386.5,809.56 388.51,810.93 390.52,812.31 392.53,813.7 394.54,815.1 396.55,816.49 398.56,817.88 400.57,819.26 402.58,820.63 404.59,821.99 406.6,823.33 408.61,824.64 410.62,825.94 412.62,827.2 414.63,828.44 416.64,829.65 418.65,830.82 420.66,831.95 422.67,833.04 424.68,834.1 426.69,835.1 428.7,836.06 430.71,836.98 432.72,837.84 434.73,838.65 436.74,839.41 438.75,840.11 440.76,840.76 442.77,841.35 444.77,841.88 446.78,842.35 448.79,842.76 450.8,843.1 452.81,843.39 454.82,843.61 456.83,843.77 458.84,843.87 460.85,843.9 462.86,843.87 464.87,843.77 466.88,843.61 468.89,843.39 470.9,843.1 472.91,842.76 474.92,842.35 476.92,841.88 478.93,841.35 480.94,840.76 482.95,840.11 484.96,839.41 486.97,838.65 488.98,837.84 490.99,836.98 493,836.06 495.01,835.1 497.02,834.1 499.03,833.04 501.04,831.95 503.05,830.82 505.06,829.65 507.07,828.44 509.07,827.2 511.08,825.94 513.09,824.64 515.1,823.33 517.11,821.99 519.12,820.63 521.13,819.26 523.14,817.88 525.15,816.49 527.16,815.1 529.17,813.7 531.18,812.31 533.19,810.93 535.2,809.56 537.21,808.2 539.22,806.87 541.23,805.56 543.23,804.29 545.24,803.05 547.25,801.87 549.26,800.74 551.27,799.68 553.28,798.72 555.29,797.89 557.3,797.3" fill="none" stroke="#1010ff" stroke-width="2"/>
<circle cx="458.5" cy="661.8" r="3.5" fill="#0a0aff"/>
<circle cx="422.4" cy="722.1" r="3.5" fill="#0a0aff"/>
<circle cx="415.6" cy="728.8" r="3.5" fill="#0a0aff"/>
<circle cx="494.3" cy="722.1" r="3.5" fill="#0a0aff"/>
<circle cx="503" cy="729.2" r="3.5" fill="#0a0aff"/>
<circle cx="381.4" cy="791.5" r="3.5" fill="#0a0aff"/>
<circle cx="450.2" cy="791.5" r="3.5" fill="#0a0aff"/>
<circle cx="466.5" cy="792.7" r="3.5" fill="#0a0aff"/>
<circle cx="538.8" cy="792.7" r="3.5" fill="#0a0aff"/>
<text x="361.5" y="654.5" font-family="'Liberation Serif', 'Times New Roman', serif" font-size="25" text-anchor="end" font-weight="normal" font-style="normal" fill="#000" >1</text>
<text x="360" y="790.8" font-family="'Liberation Serif', 'Times New Roman', serif" font-size="25" text-anchor="end" font-weight="normal" font-style="normal" fill="#000" >0.5</text>
<text x="358.5" y="835" font-family="'Liberation Serif', 'Times New Roman', serif" font-size="25" text-anchor="end" font-weight="normal" font-style="normal" fill="#000" >0.33</text>
<text x="359.5" y="918.2" font-family="'Liberation Serif', 'Times New Roman', serif" font-size="25" text-anchor="end" font-weight="normal" font-style="normal" fill="#000" >0</text>
<text x="363.7" y="939.6" font-family="'Liberation Serif', 'Times New Roman', serif" font-size="25" text-anchor="middle" font-weight="normal" font-style="normal" fill="#000" >-0.5</text>
<text x="453.6" y="939.6" font-family="'Liberation Serif', 'Times New Roman', serif" font-size="25" text-anchor="middle" font-weight="normal" font-style="normal" fill="#000" >0</text>
<text x="537.8" y="939.6" font-family="'Liberation Serif', 'Times New Roman', serif" font-size="25" text-anchor="middle" font-weight="normal" font-style="normal" fill="#000" >0.5</text>
<text x="408.8" y="966" font-family="'Liberation Serif', 'Times New Roman', serif" font-size="25" text-anchor="start" font-weight="normal" font-style="normal" fill="#000" ><tspan font-style="italic">k</tspan><tspan font-size="17" dy="5">1</tspan><tspan dy="-5"> (2&#960;/a)</tspan></text>
<text x="365.5" y="674.5" font-family="'Liberation Sans', Arial, sans-serif" font-size="32" text-anchor="start" font-weight="bold" font-style="normal" fill="#000" >F</text>
<rect x="627.5" y="647.4" width="191.70000000000005" height="265.9" fill="none" stroke="#858585" stroke-width="1.3"/>
<line x1="627.5" y1="700.58" x2="631.5" y2="700.58" stroke="#858585" stroke-width="1.1"/>
<line x1="819.2" y1="700.58" x2="815.2" y2="700.58" stroke="#858585" stroke-width="1.1"/>
<line x1="627.5" y1="753.76" x2="631.5" y2="753.76" stroke="#858585" stroke-width="1.1"/>
<line x1="819.2" y1="753.76" x2="815.2" y2="753.76" stroke="#858585" stroke-width="1.1"/>
<line x1="627.5" y1="806.94" x2="631.5" y2="806.94" stroke="#858585" stroke-width="1.1"/>
<line x1="819.2" y1="806.94" x2="815.2" y2="806.94" stroke="#858585" stroke-width="1.1"/>
<line x1="627.5" y1="860.12" x2="631.5" y2="860.12" stroke="#858585" stroke-width="1.1"/>
<line x1="819.2" y1="860.12" x2="815.2" y2="860.12" stroke="#858585" stroke-width="1.1"/>
<line x1="723.3" y1="647.4" x2="723.3" y2="651.4" stroke="#858585" stroke-width="1.1"/>
<line x1="723.3" y1="913.3" x2="723.3" y2="909.3" stroke="#858585" stroke-width="1.1"/>
<clipPath id="gcl1"><polygon points="683.5,746.2 721.5,766.1 721.5,811.1 683.5,831 645.5,811.1 645.5,766.1"/></clipPath>
<polygon points="683.5,746.2 721.5,766.1 721.5,811.1 683.5,831 645.5,811.1 645.5,766.1" fill="#f1f1f1"/>
<g clip-path="url(#gcl1)">
<circle cx="659.6" cy="759.5" r="7.4" fill="url(#dotg)"/>
<circle cx="708.2" cy="760.5" r="7.4" fill="url(#dotg)"/>
<circle cx="643.8" cy="781.5" r="7.4" fill="url(#dotg)"/>
<circle cx="722.5" cy="779.7" r="7.4" fill="url(#dotg)"/>
<circle cx="673.8" cy="826" r="7.4" fill="url(#dotg)"/>
<circle cx="694.9" cy="824.5" r="7.4" fill="url(#dotg)"/>
</g>
<clipPath id="gcl2"><polygon points="770.3,747.9 806.3,767 806.3,810 770.3,829.1 734.3,810 734.3,767"/></clipPath>
<polygon points="770.3,747.9 806.3,767 806.3,810 770.3,829.1 734.3,810 734.3,767" fill="#f1f1f1"/>
<g clip-path="url(#gcl2)">
<circle cx="735.5" cy="770" r="7.4" fill="url(#dotg)"/>
<circle cx="804.5" cy="769.1" r="7.4" fill="url(#dotg)"/>
<circle cx="770.8" cy="829.5" r="7.4" fill="url(#dotg)"/>
</g>
<polygon points="727.6,824.3 763.2,842.6 763.2,885 727.6,903.3 692,885 692,842.6" fill="#f1f1f1"/>
<circle cx="709.6" cy="855" r="7.3" fill="url(#dotg)" stroke="#f1f1f1" stroke-width="0.6"/>
<circle cx="747" cy="855" r="7.3" fill="url(#dotg)" stroke="#f1f1f1" stroke-width="0.6"/>
<circle cx="727.6" cy="886.5" r="7.3" fill="url(#dotg)" stroke="#f1f1f1" stroke-width="0.6"/>
<line x1="627.5" y1="734.7" x2="819.2" y2="734.7" stroke="#ff1a1a" stroke-width="2.2" stroke-dasharray="3,2.2"/>
<polyline points="627.5,761.6 629.5,761.03 631.49,760.21 633.49,759.27 635.49,758.23 637.48,757.13 639.48,755.97 641.48,754.76 643.48,753.52 645.47,752.24 647.47,750.93 649.47,749.61 651.46,748.26 653.46,746.91 655.46,745.55 657.45,744.19 659.45,742.82 661.45,741.46 663.44,740.11 665.44,738.77 667.44,737.44 669.43,736.13 671.43,734.84 673.43,733.58 675.42,732.34 677.42,731.13 679.42,729.95 681.42,728.8 683.41,727.69 685.41,726.62 687.41,725.59 689.4,724.61 691.4,723.67 693.4,722.77 695.39,721.93 697.39,721.14 699.39,720.39 701.38,719.71 703.38,719.07 705.38,718.5 707.38,717.98 709.37,717.52 711.37,717.12 713.37,716.78 715.36,716.5 717.36,716.28 719.36,716.12 721.35,716.03 723.35,716 725.35,716.03 727.34,716.12 729.34,716.28 731.34,716.5 733.33,716.78 735.33,717.12 737.33,717.52 739.33,717.98 741.32,718.5 743.32,719.07 745.32,719.71 747.31,720.39 749.31,721.14 751.31,721.93 753.3,722.77 755.3,723.67 757.3,724.61 759.29,725.59 761.29,726.62 763.29,727.69 765.28,728.8 767.28,729.95 769.28,731.13 771.27,732.34 773.27,733.58 775.27,734.84 777.27,736.13 779.26,737.44 781.26,738.77 783.26,740.11 785.25,741.46 787.25,742.82 789.25,744.19 791.24,745.55 793.24,746.91 795.24,748.26 797.23,749.61 799.23,750.93 801.23,752.24 803.23,753.52 805.22,754.76 807.22,755.97 809.22,757.13 811.21,758.23 813.21,759.27 815.21,760.21 817.2,761.03 819.2,761.6" fill="none" stroke="#22ee22" stroke-width="2"/>
<circle cx="645.9" cy="767" r="3.5" fill="#2ef02e"/>
<circle cx="720.5" cy="767" r="3.5" fill="#2ef02e"/>
<circle cx="733.8" cy="768.2" r="3.5" fill="#2ef02e"/>
<circle cx="806.1" cy="768.2" r="3.5" fill="#2ef02e"/>
<circle cx="683.5" cy="831.8" r="3.5" fill="#2ef02e"/>
<circle cx="692" cy="843.8" r="3.5" fill="#2ef02e"/>
<circle cx="770.8" cy="830.9" r="3.5" fill="#2ef02e"/>
<circle cx="763.8" cy="843.8" r="3.5" fill="#2ef02e"/>
<circle cx="727.6" cy="906.2" r="3.5" fill="#2ef02e"/>
<text x="613.5" y="656" font-family="'Liberation Serif', 'Times New Roman', serif" font-size="25" text-anchor="end" font-weight="normal" font-style="normal" fill="#000" >0</text>
<text x="624.5" y="744" font-family="'Liberation Serif', 'Times New Roman', serif" font-size="25" text-anchor="end" font-weight="normal" font-style="normal" fill="#000" >-0.33</text>
<text x="619" y="918" font-family="'Liberation Serif', 'Times New Roman', serif" font-size="25" text-anchor="end" font-weight="normal" font-style="normal" fill="#000" >-1</text>
<text x="624.8" y="939.6" font-family="'Liberation Serif', 'Times New Roman', serif" font-size="25" text-anchor="middle" font-weight="normal" font-style="normal" fill="#000" >-0.5</text>
<text x="714.2" y="939.6" font-family="'Liberation Serif', 'Times New Roman', serif" font-size="25" text-anchor="middle" font-weight="normal" font-style="normal" fill="#000" >0</text>
<text x="799.3" y="939.6" font-family="'Liberation Serif', 'Times New Roman', serif" font-size="25" text-anchor="middle" font-weight="normal" font-style="normal" fill="#000" >0.5</text>
<text x="669.2" y="966" font-family="'Liberation Serif', 'Times New Roman', serif" font-size="25" text-anchor="start" font-weight="normal" font-style="normal" fill="#000" ><tspan font-style="italic">k</tspan><tspan font-size="17" dy="5">1</tspan><tspan dy="-5"> (2&#960;/a)</tspan></text>
<text x="627.5" y="673" font-family="'Liberation Sans', Arial, sans-serif" font-size="32" text-anchor="start" font-weight="bold" font-style="normal" fill="#000" >G</text>
<polygon points="1045.6,661.5 1050.36,664.25 1050.36,669.74 1055.12,672.51 1055.12,678 1059.88,680.77 1059.88,686.26 1064.64,689.03 1064.64,694.52 1069.4,697.29 1069.4,702.78 1074.16,705.55 1074.16,711.04 1078.92,713.81 1078.92,719.3 1083.68,722.07 1083.68,727.56 1088.44,730.33 1088.44,735.82 1093.2,738.59 1093.2,744.08 1097.96,746.85 1097.96,752.34 1102.72,755.11 1102.72,760.6 1107.48,763.37 1107.48,768.86 1112.24,771.63 1112.24,777.12 1117,779.89 1117,785.38 1121.76,788.15 1121.76,793.64 1126.52,796.41 1126.52,801.9 1131.28,804.67 1131.28,810.16 1136.04,812.93 1136.04,818.42 1140.8,821.19 1140.8,826.68 1145.56,829.45 1145.56,834.94 1150.32,837.71 1150.32,843.2 1155.08,845.97 1155.08,851.46 1159.84,854.23 1159.84,859.72 1164.6,862.49 1164.6,867.98 1169.36,870.75 1169.36,876.24 1174.12,879.01 1174.12,884.5 1169.36,887.25 1164.6,884.5 1159.84,887.25 1155.08,884.5 1150.32,887.25 1145.56,884.5 1140.8,887.25 1136.04,884.5 1131.28,887.25 1126.52,884.5 1121.76,887.25 1117,884.5 1112.24,887.25 1107.48,884.5 1102.72,887.25 1097.96,884.5 1093.2,887.25 1088.44,884.5 1083.68,887.25 1078.92,884.5 1074.16,887.25 1069.4,884.5 1064.64,887.25 1059.88,884.5 1055.12,887.25 1050.36,884.5 1045.6,887.25 1040.84,884.5 1036.08,887.25 1031.32,884.5 1026.56,887.25 1021.8,884.5 1017.04,887.25 1012.28,884.5 1007.52,887.25 1002.76,884.5 998,887.25 993.24,884.5 988.48,887.25 983.72,884.5 978.96,887.25 974.2,884.5 969.44,887.25 964.68,884.5 959.92,887.25 955.16,884.5 950.4,887.25 945.64,884.5 940.88,887.25 936.12,884.5 931.36,887.25 926.6,884.5 921.84,887.25 917.08,884.5 917.08,879.01 921.84,876.24 921.84,870.75 926.6,867.98 926.6,862.49 931.36,859.72 931.36,854.23 936.12,851.46 936.12,845.97 940.88,843.2 940.88,837.71 945.64,834.94 945.64,829.45 950.4,826.68 950.4,821.19 955.16,818.42 955.16,812.93 959.92,810.16 959.92,804.67 964.68,801.9 964.68,796.41 969.44,793.64 969.44,788.15 974.2,785.38 974.2,779.89 978.96,777.12 978.96,771.63 983.72,768.86 983.72,763.37 988.48,760.6 988.48,755.11 993.24,752.34 993.24,746.85 998,744.08 998,738.59 1002.76,735.82 1002.76,730.33 1007.52,727.56 1007.52,722.07 1012.28,719.3 1012.28,713.81 1017.04,711.04 1017.04,705.55 1021.8,702.78 1021.8,697.29 1026.56,694.52 1026.56,689.03 1031.32,686.26 1031.32,680.77 1036.08,678 1036.08,672.51 1040.84,669.74 1040.84,664.25" fill="url(#lat0)" stroke="#000080" stroke-width="0.6" stroke-linejoin="round"/>
<circle cx="1045" cy="760" r="20" fill="url(#spotC)" opacity="0.55"/>
<circle cx="1000.5" cy="834" r="20" fill="url(#spotC)" opacity="0.55"/>
<circle cx="1089.5" cy="834" r="20" fill="url(#spotC)" opacity="0.55"/>
<circle cx="1033.2" cy="776" r="8" fill="url(#spotC)"/>
<circle cx="1056.2" cy="776" r="8" fill="url(#spotC)"/>
<circle cx="1035" cy="744" r="8" fill="url(#spotC)"/>
<circle cx="1056" cy="744" r="8" fill="url(#spotC)"/>
<circle cx="981" cy="832" r="8" fill="url(#spotC)"/>
<circle cx="1020" cy="834" r="8" fill="url(#spotC)"/>
<circle cx="1078" cy="834" r="8" fill="url(#spotC)"/>
<circle cx="1109" cy="832" r="8" fill="url(#spotC)"/>
<circle cx="990" cy="845" r="8" fill="url(#spotC)"/>
<circle cx="1098" cy="845" r="8" fill="url(#spotC)"/>
<circle cx="1039.7" cy="750.2" r="5.2" fill="url(#spotB)"/>
<circle cx="1049.7" cy="750.2" r="5.2" fill="url(#spotB)"/>
<circle cx="1032.5" cy="762.4" r="5.2" fill="url(#spotB)"/>
<circle cx="1056.9" cy="762.4" r="5.2" fill="url(#spotB)"/>
<circle cx="998" cy="822.7" r="5.2" fill="url(#spotB)"/>
<circle cx="990.9" cy="834.9" r="5.2" fill="url(#spotB)"/>
<circle cx="995.9" cy="842.8" r="5.2" fill="url(#spotB)"/>
<circle cx="1010.3" cy="842.8" r="5.2" fill="url(#spotB)"/>
<circle cx="1091.4" cy="822.7" r="5.2" fill="url(#spotB)"/>
<circle cx="1098.5" cy="834.9" r="5.2" fill="url(#spotB)"/>
<circle cx="1093.5" cy="842.8" r="5.2" fill="url(#spotB)"/>
<circle cx="1079.2" cy="842.8" r="5.2" fill="url(#spotB)"/>
<circle cx="1040.4" cy="759.1" r="7" fill="url(#spotA)"/>
<circle cx="1049.3" cy="759.1" r="7" fill="url(#spotA)"/>
<circle cx="998.8" cy="830.6" r="7" fill="url(#spotA)"/>
<circle cx="1003.1" cy="838.4" r="7" fill="url(#spotA)"/>
<circle cx="1089.9" cy="830.6" r="7" fill="url(#spotA)"/>
<circle cx="1085.6" cy="838.4" r="7" fill="url(#spotA)"/>
<polygon points="1329.8,660.5 1334.56,663.25 1334.56,668.74 1339.32,671.51 1339.32,677 1344.08,679.77 1344.08,685.26 1348.84,688.03 1348.84,693.52 1353.6,696.29 1353.6,701.78 1358.36,704.55 1358.36,710.04 1363.12,712.81 1363.12,718.3 1367.88,721.07 1367.88,726.56 1372.64,729.33 1372.64,734.82 1377.4,737.59 1377.4,743.08 1382.16,745.85 1382.16,751.34 1386.92,754.11 1386.92,759.6 1391.68,762.37 1391.68,767.86 1396.44,770.63 1396.44,776.12 1401.2,778.89 1401.2,784.38 1405.96,787.15 1405.96,792.64 1410.72,795.41 1410.72,800.9 1415.48,803.67 1415.48,809.16 1420.24,811.93 1420.24,817.42 1425,820.19 1425,825.68 1429.76,828.45 1429.76,833.94 1434.52,836.71 1434.52,842.2 1439.28,844.97 1439.28,850.46 1444.04,853.23 1444.04,858.72 1448.8,861.49 1448.8,866.98 1453.56,869.75 1453.56,875.24 1458.32,878.01 1458.32,883.5 1453.56,886.25 1448.8,883.5 1444.04,886.25 1439.28,883.5 1434.52,886.25 1429.76,883.5 1425,886.25 1420.24,883.5 1415.48,886.25 1410.72,883.5 1405.96,886.25 1401.2,883.5 1396.44,886.25 1391.68,883.5 1386.92,886.25 1382.16,883.5 1377.4,886.25 1372.64,883.5 1367.88,886.25 1363.12,883.5 1358.36,886.25 1353.6,883.5 1348.84,886.25 1344.08,883.5 1339.32,886.25 1334.56,883.5 1329.8,886.25 1325.04,883.5 1320.28,886.25 1315.52,883.5 1310.76,886.25 1306,883.5 1301.24,886.25 1296.48,883.5 1291.72,886.25 1286.96,883.5 1282.2,886.25 1277.44,883.5 1272.68,886.25 1267.92,883.5 1263.16,886.25 1258.4,883.5 1253.64,886.25 1248.88,883.5 1244.12,886.25 1239.36,883.5 1234.6,886.25 1229.84,883.5 1225.08,886.25 1220.32,883.5 1215.56,886.25 1210.8,883.5 1206.04,886.25 1201.28,883.5 1201.28,878.01 1206.04,875.24 1206.04,869.75 1210.8,866.98 1210.8,861.49 1215.56,858.72 1215.56,853.23 1220.32,850.46 1220.32,844.97 1225.08,842.2 1225.08,836.71 1229.84,833.94 1229.84,828.45 1234.6,825.68 1234.6,820.19 1239.36,817.42 1239.36,811.93 1244.12,809.16 1244.12,803.67 1248.88,800.9 1248.88,795.41 1253.64,792.64 1253.64,787.15 1258.4,784.38 1258.4,778.89 1263.16,776.12 1263.16,770.63 1267.92,767.86 1267.92,762.37 1272.68,759.6 1272.68,754.11 1277.44,751.34 1277.44,745.85 1282.2,743.08 1282.2,737.59 1286.96,734.82 1286.96,729.33 1291.72,726.56 1291.72,721.07 1296.48,718.3 1296.48,712.81 1301.24,710.04 1301.24,704.55 1306,701.78 1306,696.29 1310.76,693.52 1310.76,688.03 1315.52,685.26 1315.52,679.77 1320.28,677 1320.28,671.51 1325.04,668.74 1325.04,663.25" fill="url(#lat1)" stroke="#000080" stroke-width="0.6" stroke-linejoin="round"/>
<line x1="1318.5" y1="764.4" x2="1285.9" y2="820.4" stroke="#0058ff" stroke-width="20" stroke-linecap="round" opacity="0.55" filter="url(#blur2)"/>
<circle cx="1315.5" cy="763" r="3.8" fill="url(#spotB)" opacity="0.7"/>
<circle cx="1312.54" cy="768.09" r="3.8" fill="url(#spotB)" opacity="0.7"/>
<circle cx="1309.57" cy="773.18" r="3.8" fill="url(#spotB)" opacity="0.7"/>
<circle cx="1306.61" cy="778.27" r="3.8" fill="url(#spotB)" opacity="0.7"/>
<circle cx="1303.65" cy="783.36" r="3.8" fill="url(#spotB)" opacity="0.7"/>
<circle cx="1300.68" cy="788.45" r="3.8" fill="url(#spotB)" opacity="0.7"/>
<circle cx="1297.72" cy="793.55" r="3.8" fill="url(#spotB)" opacity="0.7"/>
<circle cx="1294.75" cy="798.64" r="3.8" fill="url(#spotB)" opacity="0.7"/>
<circle cx="1291.79" cy="803.73" r="3.8" fill="url(#spotB)" opacity="0.7"/>
<circle cx="1288.83" cy="808.82" r="3.8" fill="url(#spotB)" opacity="0.7"/>
<circle cx="1285.86" cy="813.91" r="3.8" fill="url(#spotB)" opacity="0.7"/>
<circle cx="1282.9" cy="819" r="3.8" fill="url(#spotB)" opacity="0.7"/>
<linearGradient id="kl0" gradientUnits="userSpaceOnUse" x1="1321.5" y1="765.8" x2="1288.9" y2="821.8"><stop offset="0" stop-color="#30b0ff"/><stop offset="0.08" stop-color="#60f0a0"/><stop offset="0.2" stop-color="#e0f030"/><stop offset="0.5" stop-color="#ffa818"/><stop offset="0.8" stop-color="#e0f030"/><stop offset="0.92" stop-color="#60f0a0"/><stop offset="1" stop-color="#30b0ff"/></linearGradient>
<line x1="1321.5" y1="765.8" x2="1288.9" y2="821.8" stroke="url(#kl0)" stroke-width="6.5" stroke-linecap="round" filter="url(#blur1)"/>
<circle cx="1315.57" cy="775.98" r="3.8" fill="url(#spotY)"/>
<circle cx="1312.61" cy="781.07" r="4.6" fill="url(#spotA)"/>
<circle cx="1309.65" cy="786.16" r="4.6" fill="url(#spotA)"/>
<circle cx="1306.68" cy="791.25" r="4.6" fill="url(#spotA)"/>
<circle cx="1303.72" cy="796.35" r="4.6" fill="url(#spotA)"/>
<circle cx="1300.75" cy="801.44" r="4.6" fill="url(#spotA)"/>
<circle cx="1297.79" cy="806.53" r="4.6" fill="url(#spotA)"/>
<circle cx="1294.83" cy="811.62" r="3.8" fill="url(#spotY)"/>
<line x1="1340.5" y1="764.4" x2="1373.7" y2="819.8" stroke="#0058ff" stroke-width="20" stroke-linecap="round" opacity="0.55" filter="url(#blur2)"/>
<circle cx="1343.5" cy="763" r="3.8" fill="url(#spotB)" opacity="0.7"/>
<circle cx="1346.52" cy="768.04" r="3.8" fill="url(#spotB)" opacity="0.7"/>
<circle cx="1349.54" cy="773.07" r="3.8" fill="url(#spotB)" opacity="0.7"/>
<circle cx="1352.55" cy="778.11" r="3.8" fill="url(#spotB)" opacity="0.7"/>
<circle cx="1355.57" cy="783.15" r="3.8" fill="url(#spotB)" opacity="0.7"/>
<circle cx="1358.59" cy="788.18" r="3.8" fill="url(#spotB)" opacity="0.7"/>
<circle cx="1361.61" cy="793.22" r="3.8" fill="url(#spotB)" opacity="0.7"/>
<circle cx="1364.63" cy="798.25" r="3.8" fill="url(#spotB)" opacity="0.7"/>
<circle cx="1367.65" cy="803.29" r="3.8" fill="url(#spotB)" opacity="0.7"/>
<circle cx="1370.66" cy="808.33" r="3.8" fill="url(#spotB)" opacity="0.7"/>
<circle cx="1373.68" cy="813.36" r="3.8" fill="url(#spotB)" opacity="0.7"/>
<circle cx="1376.7" cy="818.4" r="3.8" fill="url(#spotB)" opacity="0.7"/>
<linearGradient id="kl1" gradientUnits="userSpaceOnUse" x1="1337.5" y1="765.8" x2="1370.7" y2="821.2"><stop offset="0" stop-color="#30b0ff"/><stop offset="0.08" stop-color="#60f0a0"/><stop offset="0.2" stop-color="#e0f030"/><stop offset="0.5" stop-color="#ffa818"/><stop offset="0.8" stop-color="#e0f030"/><stop offset="0.92" stop-color="#60f0a0"/><stop offset="1" stop-color="#30b0ff"/></linearGradient>
<line x1="1337.5" y1="765.8" x2="1370.7" y2="821.2" stroke="url(#kl1)" stroke-width="6.5" stroke-linecap="round" filter="url(#blur1)"/>
<circle cx="1343.54" cy="775.87" r="3.8" fill="url(#spotY)"/>
<circle cx="1346.55" cy="780.91" r="4.6" fill="url(#spotA)"/>
<circle cx="1349.57" cy="785.95" r="4.6" fill="url(#spotA)"/>
<circle cx="1352.59" cy="790.98" r="4.6" fill="url(#spotA)"/>
<circle cx="1355.61" cy="796.02" r="4.6" fill="url(#spotA)"/>
<circle cx="1358.63" cy="801.05" r="4.6" fill="url(#spotA)"/>
<circle cx="1361.65" cy="806.09" r="4.6" fill="url(#spotA)"/>
<circle cx="1364.66" cy="811.13" r="3.8" fill="url(#spotY)"/>
<line x1="1295.7" y1="838.4" x2="1363.3" y2="838.4" stroke="#0058ff" stroke-width="20" stroke-linecap="round" opacity="0.55" filter="url(#blur2)"/>
<circle cx="1295.7" cy="842.1" r="3.8" fill="url(#spotB)" opacity="0.7"/>
<circle cx="1301.33" cy="842.1" r="3.8" fill="url(#spotB)" opacity="0.7"/>
<circle cx="1306.97" cy="842.1" r="3.8" fill="url(#spotB)" opacity="0.7"/>
<circle cx="1312.6" cy="842.1" r="3.8" fill="url(#spotB)" opacity="0.7"/>
<circle cx="1318.23" cy="842.1" r="3.8" fill="url(#spotB)" opacity="0.7"/>
<circle cx="1323.87" cy="842.1" r="3.8" fill="url(#spotB)" opacity="0.7"/>
<circle cx="1329.5" cy="842.1" r="3.8" fill="url(#spotB)" opacity="0.7"/>
<circle cx="1335.13" cy="842.1" r="3.8" fill="url(#spotB)" opacity="0.7"/>
<circle cx="1340.77" cy="842.1" r="3.8" fill="url(#spotB)" opacity="0.7"/>
<circle cx="1346.4" cy="842.1" r="3.8" fill="url(#spotB)" opacity="0.7"/>
<circle cx="1352.03" cy="842.1" r="3.8" fill="url(#spotB)" opacity="0.7"/>
<circle cx="1357.67" cy="842.1" r="3.8" fill="url(#spotB)" opacity="0.7"/>
<circle cx="1363.3" cy="842.1" r="3.8" fill="url(#spotB)" opacity="0.7"/>
<linearGradient id="kl2" gradientUnits="userSpaceOnUse" x1="1295.7" y1="834.7" x2="1363.3" y2="834.7"><stop offset="0" stop-color="#30b0ff"/><stop offset="0.08" stop-color="#60f0a0"/><stop offset="0.2" stop-color="#e0f030"/><stop offset="0.5" stop-color="#ffa818"/><stop offset="0.8" stop-color="#e0f030"/><stop offset="0.92" stop-color="#60f0a0"/><stop offset="1" stop-color="#30b0ff"/></linearGradient>
<line x1="1295.7" y1="834.7" x2="1363.3" y2="834.7" stroke="url(#kl2)" stroke-width="6.5" stroke-linecap="round" filter="url(#blur1)"/>
<circle cx="1306.97" cy="834.7" r="3.8" fill="url(#spotY)"/>
<circle cx="1312.6" cy="834.7" r="3.8" fill="url(#spotY)"/>
<circle cx="1318.23" cy="834.7" r="4.6" fill="url(#spotA)"/>
<circle cx="1323.87" cy="834.7" r="4.6" fill="url(#spotA)"/>
<circle cx="1329.5" cy="834.7" r="4.6" fill="url(#spotA)"/>
<circle cx="1335.13" cy="834.7" r="4.6" fill="url(#spotA)"/>
<circle cx="1340.77" cy="834.7" r="4.6" fill="url(#spotA)"/>
<circle cx="1346.4" cy="834.7" r="3.8" fill="url(#spotY)"/>
<circle cx="1352.03" cy="834.7" r="3.8" fill="url(#spotY)"/>
<circle cx="1303" cy="849" r="3" fill="url(#spotC)"/>
<circle cx="1308" cy="849" r="3" fill="url(#spotC)"/>
<circle cx="1313" cy="849" r="3" fill="url(#spotC)"/>
<circle cx="1318" cy="849" r="3" fill="url(#spotC)"/>
<circle cx="1323" cy="849" r="3" fill="url(#spotC)"/>
<circle cx="1328" cy="849" r="3" fill="url(#spotC)"/>
<circle cx="1333" cy="849" r="3" fill="url(#spotC)"/>
<circle cx="1338" cy="849" r="3" fill="url(#spotC)"/>
<circle cx="1343" cy="849" r="3" fill="url(#spotC)"/>
<circle cx="1348" cy="849" r="3" fill="url(#spotC)"/>
<circle cx="1353" cy="849" r="3" fill="url(#spotC)"/>
<circle cx="1358" cy="849" r="3" fill="url(#spotC)"/>
<polygon points="1609.8,660.5 1614.56,663.25 1614.56,668.74 1619.32,671.51 1619.32,677 1624.08,679.77 1624.08,685.26 1628.84,688.03 1628.84,693.52 1633.6,696.29 1633.6,701.78 1638.36,704.55 1638.36,710.04 1643.12,712.81 1643.12,718.3 1647.88,721.07 1647.88,726.56 1652.64,729.33 1652.64,734.82 1657.4,737.59 1657.4,743.08 1662.16,745.85 1662.16,751.34 1666.92,754.11 1666.92,759.6 1671.68,762.37 1671.68,767.86 1676.44,770.63 1676.44,776.12 1681.2,778.89 1681.2,784.38 1685.96,787.15 1685.96,792.64 1690.72,795.41 1690.72,800.9 1695.48,803.67 1695.48,809.16 1700.24,811.93 1700.24,817.42 1705,820.19 1705,825.68 1709.76,828.45 1709.76,833.94 1714.52,836.71 1714.52,842.2 1719.28,844.97 1719.28,850.46 1724.04,853.23 1724.04,858.72 1728.8,861.49 1728.8,866.98 1733.56,869.75 1733.56,875.24 1738.32,878.01 1738.32,883.5 1733.56,886.25 1728.8,883.5 1724.04,886.25 1719.28,883.5 1714.52,886.25 1709.76,883.5 1705,886.25 1700.24,883.5 1695.48,886.25 1690.72,883.5 1685.96,886.25 1681.2,883.5 1676.44,886.25 1671.68,883.5 1666.92,886.25 1662.16,883.5 1657.4,886.25 1652.64,883.5 1647.88,886.25 1643.12,883.5 1638.36,886.25 1633.6,883.5 1628.84,886.25 1624.08,883.5 1619.32,886.25 1614.56,883.5 1609.8,886.25 1605.04,883.5 1600.28,886.25 1595.52,883.5 1590.76,886.25 1586,883.5 1581.24,886.25 1576.48,883.5 1571.72,886.25 1566.96,883.5 1562.2,886.25 1557.44,883.5 1552.68,886.25 1547.92,883.5 1543.16,886.25 1538.4,883.5 1533.64,886.25 1528.88,883.5 1524.12,886.25 1519.36,883.5 1514.6,886.25 1509.84,883.5 1505.08,886.25 1500.32,883.5 1495.56,886.25 1490.8,883.5 1486.04,886.25 1481.28,883.5 1481.28,878.01 1486.04,875.24 1486.04,869.75 1490.8,866.98 1490.8,861.49 1495.56,858.72 1495.56,853.23 1500.32,850.46 1500.32,844.97 1505.08,842.2 1505.08,836.71 1509.84,833.94 1509.84,828.45 1514.6,825.68 1514.6,820.19 1519.36,817.42 1519.36,811.93 1524.12,809.16 1524.12,803.67 1528.88,800.9 1528.88,795.41 1533.64,792.64 1533.64,787.15 1538.4,784.38 1538.4,778.89 1543.16,776.12 1543.16,770.63 1547.92,767.86 1547.92,762.37 1552.68,759.6 1552.68,754.11 1557.44,751.34 1557.44,745.85 1562.2,743.08 1562.2,737.59 1566.96,734.82 1566.96,729.33 1571.72,726.56 1571.72,721.07 1576.48,718.3 1576.48,712.81 1581.24,710.04 1581.24,704.55 1586,701.78 1586,696.29 1590.76,693.52 1590.76,688.03 1595.52,685.26 1595.52,679.77 1600.28,677 1600.28,671.51 1605.04,668.74 1605.04,663.25" fill="url(#lat2)" stroke="#000080" stroke-width="0.6" stroke-linejoin="round"/>
<polygon points="1609.3,762 1568,828 1651,828" fill="none" stroke="#0058ff" stroke-width="16" stroke-linejoin="round" opacity="0.45" filter="url(#blur2)"/>
<circle cx="1609.3" cy="760" r="5.5" fill="url(#spotC)"/>
<circle cx="1604.97" cy="767" r="5.5" fill="url(#spotC)"/>
<circle cx="1600.64" cy="774" r="5.5" fill="url(#spotC)"/>
<circle cx="1596.31" cy="781" r="5.5" fill="url(#spotC)"/>
<circle cx="1591.98" cy="788" r="5.5" fill="url(#spotC)"/>
<circle cx="1587.65" cy="795" r="5.5" fill="url(#spotC)"/>
<circle cx="1583.32" cy="802" r="5.5" fill="url(#spotC)"/>
<circle cx="1578.99" cy="809" r="5.5" fill="url(#spotC)"/>
<circle cx="1574.66" cy="816" r="5.5" fill="url(#spotC)"/>
<circle cx="1570.33" cy="823" r="5.5" fill="url(#spotC)"/>
<circle cx="1566" cy="830" r="5.5" fill="url(#spotC)"/>
<circle cx="1566" cy="830" r="5.5" fill="url(#spotC)"/>
<circle cx="1574.7" cy="830" r="5.5" fill="url(#spotC)"/>
<circle cx="1583.4" cy="830" r="5.5" fill="url(#spotC)"/>
<circle cx="1592.1" cy="830" r="5.5" fill="url(#spotC)"/>
<circle cx="1600.8" cy="830" r="5.5" fill="url(#spotC)"/>
<circle cx="1609.5" cy="830" r="5.5" fill="url(#spotC)"/>
<circle cx="1618.2" cy="830" r="5.5" fill="url(#spotC)"/>
<circle cx="1626.9" cy="830" r="5.5" fill="url(#spotC)"/>
<circle cx="1635.6" cy="830" r="5.5" fill="url(#spotC)"/>
<circle cx="1644.3" cy="830" r="5.5" fill="url(#spotC)"/>
<circle cx="1653" cy="830" r="5.5" fill="url(#spotC)"/>
<circle cx="1653" cy="830" r="5.5" fill="url(#spotC)"/>
<circle cx="1648.63" cy="823" r="5.5" fill="url(#spotC)"/>
<circle cx="1644.26" cy="816" r="5.5" fill="url(#spotC)"/>
<circle cx="1639.89" cy="809" r="5.5" fill="url(#spotC)"/>
<circle cx="1635.52" cy="802" r="5.5" fill="url(#spotC)"/>
<circle cx="1631.15" cy="795" r="5.5" fill="url(#spotC)"/>
<circle cx="1626.78" cy="788" r="5.5" fill="url(#spotC)"/>
<circle cx="1622.41" cy="781" r="5.5" fill="url(#spotC)"/>
<circle cx="1618.04" cy="774" r="5.5" fill="url(#spotC)"/>
<circle cx="1613.67" cy="767" r="5.5" fill="url(#spotC)"/>
<circle cx="1609.3" cy="760" r="5.5" fill="url(#spotC)"/>
<circle cx="1592.9" cy="782.4" r="4.4" fill="url(#spotB)" opacity="0.85"/>
<circle cx="1626.1" cy="782.4" r="4.4" fill="url(#spotB)" opacity="0.85"/>
<circle cx="1579.4" cy="806.4" r="4.4" fill="url(#spotB)" opacity="0.85"/>
<circle cx="1640.2" cy="806.4" r="4.4" fill="url(#spotB)" opacity="0.85"/>
<circle cx="1595.4" cy="834.7" r="4.4" fill="url(#spotB)" opacity="0.85"/>
<circle cx="1623.6" cy="834.7" r="4.4" fill="url(#spotB)" opacity="0.85"/>
<circle cx="1588" cy="790.4" r="4.4" fill="url(#spotB)" opacity="0.85"/>
<circle cx="1631.6" cy="790.4" r="4.4" fill="url(#spotB)" opacity="0.85"/>
<circle cx="1599" cy="758.2" r="4.4" fill="url(#spotB)" opacity="0.85"/>
<circle cx="1618.7" cy="758.2" r="4.4" fill="url(#spotB)" opacity="0.85"/>
<circle cx="1605" cy="834.7" r="4.4" fill="url(#spotB)" opacity="0.85"/>
<circle cx="1614" cy="834.7" r="4.4" fill="url(#spotB)" opacity="0.85"/>
<circle cx="1562" cy="823" r="4.4" fill="url(#spotB)" opacity="0.85"/>
<circle cx="1657" cy="823" r="4.4" fill="url(#spotB)" opacity="0.85"/>
<circle cx="1570" cy="843" r="4.4" fill="url(#spotB)" opacity="0.85"/>
<circle cx="1650" cy="843" r="4.4" fill="url(#spotB)" opacity="0.85"/>
<circle cx="1601.1" cy="766.1" r="6.8" fill="url(#spotA)"/>
<circle cx="1617.5" cy="766.1" r="6.8" fill="url(#spotA)"/>
<circle cx="1569.3" cy="821.8" r="6.8" fill="url(#spotA)"/>
<circle cx="1577.5" cy="834.7" r="6.8" fill="url(#spotA)"/>
<circle cx="1649.5" cy="821.8" r="6.8" fill="url(#spotA)"/>
<circle cx="1641.5" cy="835.3" r="6.8" fill="url(#spotA)"/>
<text x="892" y="639.5" font-family="'Liberation Sans', Arial, sans-serif" font-size="33.5" text-anchor="start" font-weight="bold" font-style="normal" fill="#000" >J</text>
<text x="930.8" y="638.8" font-family="'Liberation Serif', 'Times New Roman', serif" font-size="33" text-anchor="start" font-weight="normal" font-style="normal" fill="#000" >Type-I corner state</text>
<text x="1216.3" y="640.5" font-family="'Liberation Sans', Arial, sans-serif" font-size="32" text-anchor="start" font-weight="bold" font-style="normal" fill="#000" >K</text>
<text x="1250" y="642" font-family="'Liberation Serif', 'Times New Roman', serif" font-size="33" text-anchor="start" font-weight="normal" font-style="normal" fill="#000" >Edge state</text>
<text x="1467.5" y="640.5" font-family="'Liberation Sans', Arial, sans-serif" font-size="32" text-anchor="start" font-weight="bold" font-style="normal" fill="#000" >L</text>
<text x="1505.5" y="642" font-family="'Liberation Serif', 'Times New Roman', serif" font-size="33" text-anchor="start" font-weight="normal" font-style="normal" fill="#000" >Type-II corner state</text>
<text x="1335" y="915.4" font-family="'Liberation Serif', 'Times New Roman', serif" font-size="28" text-anchor="start" font-weight="normal" font-style="normal" fill="#000" >|E<tspan font-size="19" dy="6">z</tspan><tspan dy="-6">|</tspan></text>
<rect x="1235.8" y="930.8" width="226" height="17.2" fill="url(#jeth)" stroke="#222" stroke-width="0.9"/>
<text x="1174" y="948" font-family="'Liberation Serif', 'Times New Roman', serif" font-size="28.5" text-anchor="start" font-weight="normal" font-style="normal" fill="#000" >Min</text>
<text x="1482" y="946.5" font-family="'Liberation Serif', 'Times New Roman', serif" font-size="28.5" text-anchor="start" font-weight="normal" font-style="normal" fill="#000" >Max</text>
</svg>
<div style="position:absolute;left:199.1px;top:306.5px;width:65.4px;height:74px;clip-path:polygon(50% 0%, 100% 25%, 100% 75%, 50% 100%, 0% 75%, 0% 25%);background:conic-gradient(from 50deg, #7a0000 0deg, #c81400 18deg, #e56a20 42deg, #e8a430 72deg, #ecb232 118deg, #fff030 129deg, #a0f0b0 142deg, #80f0f2 158deg, #80eaf8 222deg, #4aa0f8 252deg, #0a32e0 275deg, #0000b0 300deg, #00008c 360deg)"></div>
<div style="position:absolute;left:355.7px;top:306.5px;width:65.4px;height:74px;clip-path:polygon(50% 0%, 100% 25%, 100% 75%, 50% 100%, 0% 75%, 0% 25%);background:conic-gradient(from 60deg, #a00800 0deg, #c83010 40deg, #d84a18 85deg, #f08020 113deg, #ffff00 120deg, #c0f060 128deg, #a0f090 140deg, #98f0a0 222deg, #80ffff 240deg, #50a0ff 255deg, #2040ff 282deg, #0010e0 330deg, #0000cc 360deg)"></div>
<div style="position:absolute;left:447.8px;top:306.5px;width:65.4px;height:74px;clip-path:polygon(50% 0%, 100% 25%, 100% 75%, 50% 100%, 0% 75%, 0% 25%);background:conic-gradient(from 0deg, #ffff00 0deg, #ff5a00 8deg, #ff2a00 40deg, #f01000 90deg, #c00000 119deg, #0020ff 120deg, #0050ff 180deg, #0090ff 220deg, #00e8ff 240deg, #80ff80 262deg, #90f070 330deg, #c8f040 352deg, #ffff00 360deg)"></div>
<div style="position:absolute;left:603.8px;top:306.5px;width:65.4px;height:74px;clip-path:polygon(50% 0%, 100% 25%, 100% 75%, 50% 100%, 0% 75%, 0% 25%);background:conic-gradient(from 0deg, #0000a0 0deg, #0000a8 100deg, #0000ff 125deg, #40a0ff 150deg, #80ffff 170deg, #80ffff 235deg, #f0f040 245deg, #f0a030 255deg, #e89030 320deg, #e06020 338deg, #d00000 352deg, #a00000 360deg)"></div>
<div style="position:absolute;left:402.9px;top:506.8px;width:63.6px;height:76.4px;clip-path:polygon(50% 0%, 100% 25%, 100% 75%, 50% 100%, 0% 75%, 0% 25%);background:conic-gradient(from 0deg, #00c0f0 0deg, #00c4f4 35deg, #0070ff 58deg, #0010c0 78deg, #00008e 102deg, #900000 104deg, #900000 160deg, #ff0000 178deg, #ff8000 186deg, #ffd000 200deg, #ffd800 260deg, #ffff00 290deg, #80ff80 315deg, #00ffff 330deg, #00d0ff 345deg, #00c0f0 360deg)"></div>
<div style="position:absolute;left:645.2px;top:506.8px;width:63.6px;height:76.4px;clip-path:polygon(50% 0%, 100% 25%, 100% 75%, 50% 100%, 0% 75%, 0% 25%);background:conic-gradient(from 180deg, #000080 0deg, #0000c0 40deg, #0040ff 70deg, #0090ff 110deg, #00d0ff 140deg, #00ffff 160deg, #40ffb0 180deg, #ffff00 200deg, #ffd000 225deg, #ffa000 270deg, #ff4000 300deg, #e00000 320deg, #800000 360deg)"></div>
</body></html>
